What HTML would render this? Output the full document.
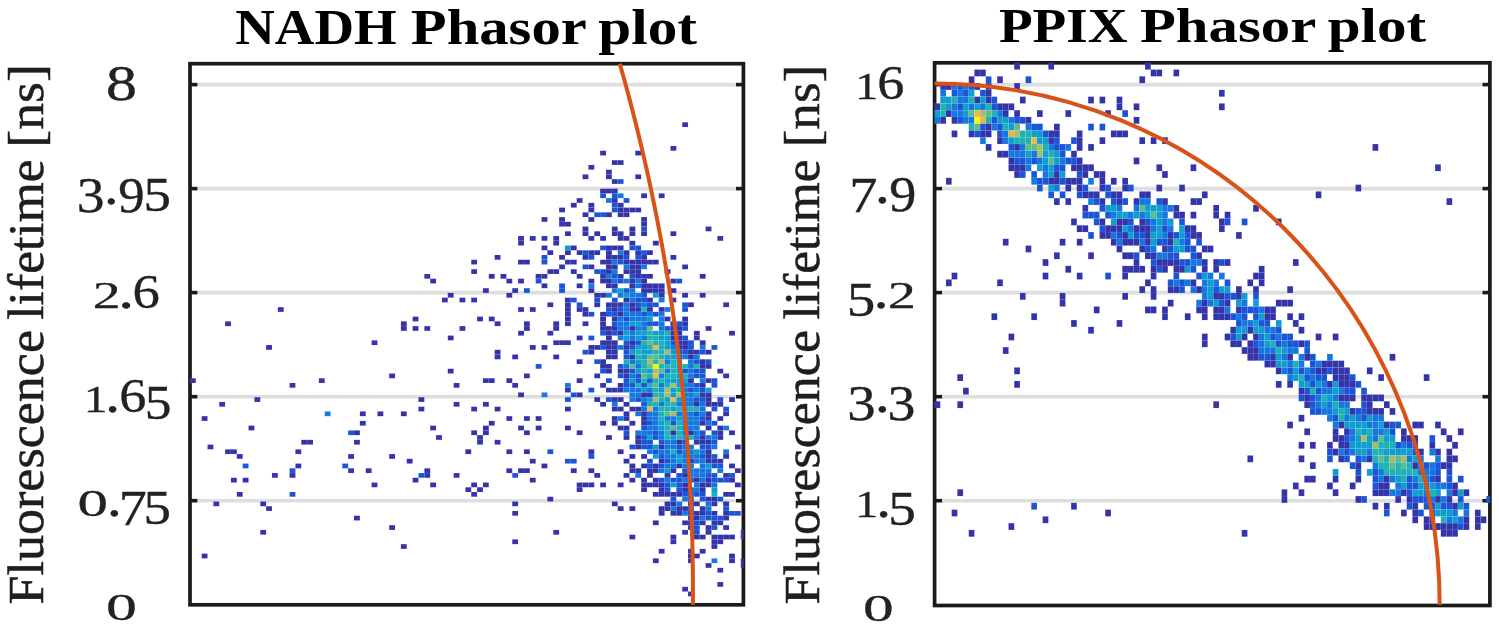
<!DOCTYPE html>
<html><head><meta charset="utf-8"><title>Phasor plots</title><style>html,body{margin:0;padding:0;background:#fff;width:1499px;height:633px;overflow:hidden}svg{display:block}</style></head>
<body><svg width="1499" height="633" viewBox="0 0 1499 633">
<rect width="1499" height="633" fill="#fff"/>
<line x1="198.0" y1="84.6" x2="735.4" y2="84.6" stroke="#dedede" stroke-width="3.6"/>
<line x1="198.0" y1="188.6" x2="735.4" y2="188.6" stroke="#dedede" stroke-width="3.6"/>
<line x1="198.0" y1="292.6" x2="735.4" y2="292.6" stroke="#dedede" stroke-width="3.6"/>
<line x1="198.0" y1="396.7" x2="735.4" y2="396.7" stroke="#dedede" stroke-width="3.6"/>
<line x1="198.0" y1="500.7" x2="735.4" y2="500.7" stroke="#dedede" stroke-width="3.6"/>
<line x1="942.6" y1="84.6" x2="1481.9" y2="84.6" stroke="#dedede" stroke-width="3.6"/>
<line x1="942.6" y1="188.6" x2="1481.9" y2="188.6" stroke="#dedede" stroke-width="3.6"/>
<line x1="942.6" y1="292.6" x2="1481.9" y2="292.6" stroke="#dedede" stroke-width="3.6"/>
<line x1="942.6" y1="396.7" x2="1481.9" y2="396.7" stroke="#dedede" stroke-width="3.6"/>
<line x1="942.6" y1="500.7" x2="1481.9" y2="500.7" stroke="#dedede" stroke-width="3.6"/>
<rect x="190.0" y="63.7" width="553.4" height="541.1" fill="none" stroke="#1a1a1a" stroke-width="3.7"/>
<line x1="190.0" y1="84.6" x2="197.5" y2="84.6" stroke="#1a1a1a" stroke-width="3.6"/>
<line x1="743.4" y1="84.6" x2="735.9" y2="84.6" stroke="#1a1a1a" stroke-width="3.6"/>
<line x1="190.0" y1="188.6" x2="197.5" y2="188.6" stroke="#1a1a1a" stroke-width="3.6"/>
<line x1="743.4" y1="188.6" x2="735.9" y2="188.6" stroke="#1a1a1a" stroke-width="3.6"/>
<line x1="190.0" y1="292.6" x2="197.5" y2="292.6" stroke="#1a1a1a" stroke-width="3.6"/>
<line x1="743.4" y1="292.6" x2="735.9" y2="292.6" stroke="#1a1a1a" stroke-width="3.6"/>
<line x1="190.0" y1="396.7" x2="197.5" y2="396.7" stroke="#1a1a1a" stroke-width="3.6"/>
<line x1="743.4" y1="396.7" x2="735.9" y2="396.7" stroke="#1a1a1a" stroke-width="3.6"/>
<line x1="190.0" y1="500.7" x2="197.5" y2="500.7" stroke="#1a1a1a" stroke-width="3.6"/>
<line x1="743.4" y1="500.7" x2="735.9" y2="500.7" stroke="#1a1a1a" stroke-width="3.6"/>
<rect x="934.6" y="62.8" width="555.3" height="542.7" fill="none" stroke="#1a1a1a" stroke-width="3.7"/>
<line x1="934.6" y1="84.6" x2="942.1" y2="84.6" stroke="#1a1a1a" stroke-width="3.6"/>
<line x1="1489.9" y1="84.6" x2="1482.4" y2="84.6" stroke="#1a1a1a" stroke-width="3.6"/>
<line x1="934.6" y1="188.6" x2="942.1" y2="188.6" stroke="#1a1a1a" stroke-width="3.6"/>
<line x1="1489.9" y1="188.6" x2="1482.4" y2="188.6" stroke="#1a1a1a" stroke-width="3.6"/>
<line x1="934.6" y1="292.6" x2="942.1" y2="292.6" stroke="#1a1a1a" stroke-width="3.6"/>
<line x1="1489.9" y1="292.6" x2="1482.4" y2="292.6" stroke="#1a1a1a" stroke-width="3.6"/>
<line x1="934.6" y1="396.7" x2="942.1" y2="396.7" stroke="#1a1a1a" stroke-width="3.6"/>
<line x1="1489.9" y1="396.7" x2="1482.4" y2="396.7" stroke="#1a1a1a" stroke-width="3.6"/>
<line x1="934.6" y1="500.7" x2="942.1" y2="500.7" stroke="#1a1a1a" stroke-width="3.6"/>
<line x1="1489.9" y1="500.7" x2="1482.4" y2="500.7" stroke="#1a1a1a" stroke-width="3.6"/>
<g stroke="#fff" stroke-opacity="0.1" stroke-width="0.6"><rect x="682.18" y="122.28" width="5.86" height="4.74" fill="#3333aa"/><rect x="670.46" y="145.98" width="5.86" height="4.74" fill="#3333aa"/><rect x="600.14" y="150.72" width="5.86" height="4.74" fill="#3333aa"/><rect x="635.30" y="150.72" width="5.86" height="4.74" fill="#3333aa"/><rect x="611.86" y="160.20" width="5.86" height="4.74" fill="#3333aa"/><rect x="617.72" y="160.20" width="5.86" height="4.74" fill="#3333aa"/><rect x="588.42" y="164.94" width="5.86" height="4.74" fill="#3333aa"/><rect x="606.00" y="169.68" width="5.86" height="4.74" fill="#3333aa"/><rect x="582.56" y="174.42" width="5.86" height="4.74" fill="#3333aa"/><rect x="606.00" y="174.42" width="5.86" height="4.74" fill="#3333aa"/><rect x="635.30" y="174.42" width="5.86" height="4.74" fill="#3333aa"/><rect x="611.86" y="179.16" width="5.86" height="4.74" fill="#3333aa"/><rect x="617.72" y="179.16" width="5.86" height="4.74" fill="#1a55d8"/><rect x="600.14" y="188.64" width="5.86" height="4.74" fill="#3333aa"/><rect x="606.00" y="188.64" width="5.86" height="4.74" fill="#3333aa"/><rect x="611.86" y="188.64" width="5.86" height="4.74" fill="#3333aa"/><rect x="600.14" y="193.38" width="5.86" height="4.74" fill="#1a55d8"/><rect x="611.86" y="193.38" width="5.86" height="4.74" fill="#1a55d8"/><rect x="617.72" y="193.38" width="5.86" height="4.74" fill="#1478e0"/><rect x="641.16" y="193.38" width="5.86" height="4.74" fill="#3333aa"/><rect x="658.74" y="193.38" width="5.86" height="4.74" fill="#3333aa"/><rect x="576.70" y="198.12" width="5.86" height="4.74" fill="#3333aa"/><rect x="606.00" y="198.12" width="5.86" height="4.74" fill="#1478e0"/><rect x="611.86" y="198.12" width="5.86" height="4.74" fill="#3333aa"/><rect x="623.58" y="198.12" width="5.86" height="4.74" fill="#1a55d8"/><rect x="570.84" y="202.86" width="5.86" height="4.74" fill="#3333aa"/><rect x="588.42" y="202.86" width="5.86" height="4.74" fill="#3333aa"/><rect x="611.86" y="202.86" width="5.86" height="4.74" fill="#1a55d8"/><rect x="617.72" y="202.86" width="5.86" height="4.74" fill="#3333aa"/><rect x="559.12" y="207.60" width="5.86" height="4.74" fill="#3333aa"/><rect x="588.42" y="207.60" width="5.86" height="4.74" fill="#3333aa"/><rect x="611.86" y="207.60" width="5.86" height="4.74" fill="#1a55d8"/><rect x="617.72" y="207.60" width="5.86" height="4.74" fill="#3333aa"/><rect x="623.58" y="207.60" width="5.86" height="4.74" fill="#3333aa"/><rect x="629.44" y="207.60" width="5.86" height="4.74" fill="#3333aa"/><rect x="635.30" y="207.60" width="5.86" height="4.74" fill="#3333aa"/><rect x="582.56" y="212.34" width="5.86" height="4.74" fill="#3333aa"/><rect x="594.28" y="212.34" width="5.86" height="4.74" fill="#1a55d8"/><rect x="600.14" y="212.34" width="5.86" height="4.74" fill="#1a55d8"/><rect x="606.00" y="212.34" width="5.86" height="4.74" fill="#3333aa"/><rect x="617.72" y="212.34" width="5.86" height="4.74" fill="#3333aa"/><rect x="623.58" y="212.34" width="5.86" height="4.74" fill="#3333aa"/><rect x="541.54" y="217.08" width="5.86" height="4.74" fill="#3333aa"/><rect x="559.12" y="217.08" width="5.86" height="4.74" fill="#3333aa"/><rect x="588.42" y="217.08" width="5.86" height="4.74" fill="#3333aa"/><rect x="641.16" y="217.08" width="5.86" height="4.74" fill="#3333aa"/><rect x="559.12" y="221.82" width="5.86" height="4.74" fill="#3333aa"/><rect x="564.98" y="221.82" width="5.86" height="4.74" fill="#3333aa"/><rect x="641.16" y="221.82" width="5.86" height="4.74" fill="#3333aa"/><rect x="582.56" y="226.56" width="5.86" height="4.74" fill="#3333aa"/><rect x="611.86" y="226.56" width="5.86" height="4.74" fill="#3333aa"/><rect x="629.44" y="226.56" width="5.86" height="4.74" fill="#3333aa"/><rect x="641.16" y="226.56" width="5.86" height="4.74" fill="#1a55d8"/><rect x="705.62" y="226.56" width="5.86" height="4.74" fill="#3333aa"/><rect x="564.98" y="231.30" width="5.86" height="4.74" fill="#3333aa"/><rect x="582.56" y="231.30" width="5.86" height="4.74" fill="#3333aa"/><rect x="594.28" y="231.30" width="5.86" height="4.74" fill="#3333aa"/><rect x="611.86" y="231.30" width="5.86" height="4.74" fill="#3333aa"/><rect x="617.72" y="231.30" width="5.86" height="4.74" fill="#3333aa"/><rect x="629.44" y="231.30" width="5.86" height="4.74" fill="#3333aa"/><rect x="641.16" y="231.30" width="5.86" height="4.74" fill="#3333aa"/><rect x="670.46" y="231.30" width="5.86" height="4.74" fill="#3333aa"/><rect x="518.10" y="236.04" width="5.86" height="4.74" fill="#3333aa"/><rect x="529.82" y="236.04" width="5.86" height="4.74" fill="#3333aa"/><rect x="541.54" y="236.04" width="5.86" height="4.74" fill="#3333aa"/><rect x="553.26" y="236.04" width="5.86" height="4.74" fill="#3333aa"/><rect x="588.42" y="236.04" width="5.86" height="4.74" fill="#3333aa"/><rect x="600.14" y="236.04" width="5.86" height="4.74" fill="#3333aa"/><rect x="617.72" y="236.04" width="5.86" height="4.74" fill="#3333aa"/><rect x="623.58" y="236.04" width="5.86" height="4.74" fill="#3333aa"/><rect x="717.34" y="236.04" width="5.86" height="4.74" fill="#3333aa"/><rect x="518.10" y="240.78" width="5.86" height="4.74" fill="#3333aa"/><rect x="553.26" y="240.78" width="5.86" height="4.74" fill="#3333aa"/><rect x="629.44" y="240.78" width="5.86" height="4.74" fill="#3333aa"/><rect x="652.88" y="240.78" width="5.86" height="4.74" fill="#3333aa"/><rect x="541.54" y="245.52" width="5.86" height="4.74" fill="#3333aa"/><rect x="564.98" y="245.52" width="5.86" height="4.74" fill="#0f9ed0"/><rect x="570.84" y="245.52" width="5.86" height="4.74" fill="#3333aa"/><rect x="600.14" y="245.52" width="5.86" height="4.74" fill="#1a55d8"/><rect x="606.00" y="245.52" width="5.86" height="4.74" fill="#3333aa"/><rect x="611.86" y="245.52" width="5.86" height="4.74" fill="#3333aa"/><rect x="617.72" y="245.52" width="5.86" height="4.74" fill="#3333aa"/><rect x="629.44" y="245.52" width="5.86" height="4.74" fill="#1a55d8"/><rect x="635.30" y="245.52" width="5.86" height="4.74" fill="#1a55d8"/><rect x="547.40" y="250.26" width="5.86" height="4.74" fill="#3333aa"/><rect x="564.98" y="250.26" width="5.86" height="4.74" fill="#3333aa"/><rect x="576.70" y="250.26" width="5.86" height="4.74" fill="#3333aa"/><rect x="582.56" y="250.26" width="5.86" height="4.74" fill="#1a55d8"/><rect x="588.42" y="250.26" width="5.86" height="4.74" fill="#3333aa"/><rect x="594.28" y="250.26" width="5.86" height="4.74" fill="#3333aa"/><rect x="606.00" y="250.26" width="5.86" height="4.74" fill="#3333aa"/><rect x="617.72" y="250.26" width="5.86" height="4.74" fill="#1478e0"/><rect x="623.58" y="250.26" width="5.86" height="4.74" fill="#3333aa"/><rect x="635.30" y="250.26" width="5.86" height="4.74" fill="#3333aa"/><rect x="641.16" y="250.26" width="5.86" height="4.74" fill="#1a55d8"/><rect x="647.02" y="250.26" width="5.86" height="4.74" fill="#3333aa"/><rect x="494.66" y="255.00" width="5.86" height="4.74" fill="#3333aa"/><rect x="541.54" y="255.00" width="5.86" height="4.74" fill="#1a55d8"/><rect x="559.12" y="255.00" width="5.86" height="4.74" fill="#3333aa"/><rect x="582.56" y="255.00" width="5.86" height="4.74" fill="#3333aa"/><rect x="588.42" y="255.00" width="5.86" height="4.74" fill="#1a55d8"/><rect x="606.00" y="255.00" width="5.86" height="4.74" fill="#3333aa"/><rect x="611.86" y="255.00" width="5.86" height="4.74" fill="#3333aa"/><rect x="617.72" y="255.00" width="5.86" height="4.74" fill="#3333aa"/><rect x="623.58" y="255.00" width="5.86" height="4.74" fill="#1a55d8"/><rect x="635.30" y="255.00" width="5.86" height="4.74" fill="#1a55d8"/><rect x="641.16" y="255.00" width="5.86" height="4.74" fill="#3333aa"/><rect x="670.46" y="255.00" width="5.86" height="4.74" fill="#3333aa"/><rect x="471.22" y="259.74" width="5.86" height="4.74" fill="#3333aa"/><rect x="518.10" y="259.74" width="5.86" height="4.74" fill="#3333aa"/><rect x="523.96" y="259.74" width="5.86" height="4.74" fill="#3333aa"/><rect x="541.54" y="259.74" width="5.86" height="4.74" fill="#1a55d8"/><rect x="564.98" y="259.74" width="5.86" height="4.74" fill="#3333aa"/><rect x="570.84" y="259.74" width="5.86" height="4.74" fill="#3333aa"/><rect x="600.14" y="259.74" width="5.86" height="4.74" fill="#3333aa"/><rect x="606.00" y="259.74" width="5.86" height="4.74" fill="#3333aa"/><rect x="611.86" y="259.74" width="5.86" height="4.74" fill="#1478e0"/><rect x="617.72" y="259.74" width="5.86" height="4.74" fill="#1a55d8"/><rect x="623.58" y="259.74" width="5.86" height="4.74" fill="#3333aa"/><rect x="629.44" y="259.74" width="5.86" height="4.74" fill="#3333aa"/><rect x="635.30" y="259.74" width="5.86" height="4.74" fill="#3333aa"/><rect x="641.16" y="259.74" width="5.86" height="4.74" fill="#3333aa"/><rect x="647.02" y="259.74" width="5.86" height="4.74" fill="#3333aa"/><rect x="652.88" y="259.74" width="5.86" height="4.74" fill="#3333aa"/><rect x="559.12" y="264.48" width="5.86" height="4.74" fill="#3333aa"/><rect x="582.56" y="264.48" width="5.86" height="4.74" fill="#1a55d8"/><rect x="588.42" y="264.48" width="5.86" height="4.74" fill="#3333aa"/><rect x="606.00" y="264.48" width="5.86" height="4.74" fill="#3333aa"/><rect x="611.86" y="264.48" width="5.86" height="4.74" fill="#3333aa"/><rect x="623.58" y="264.48" width="5.86" height="4.74" fill="#1478e0"/><rect x="629.44" y="264.48" width="5.86" height="4.74" fill="#3333aa"/><rect x="635.30" y="264.48" width="5.86" height="4.74" fill="#3333aa"/><rect x="641.16" y="264.48" width="5.86" height="4.74" fill="#1478e0"/><rect x="682.18" y="264.48" width="5.86" height="4.74" fill="#3333aa"/><rect x="471.22" y="269.22" width="5.86" height="4.74" fill="#3333aa"/><rect x="547.40" y="269.22" width="5.86" height="4.74" fill="#3333aa"/><rect x="553.26" y="269.22" width="5.86" height="4.74" fill="#3333aa"/><rect x="570.84" y="269.22" width="5.86" height="4.74" fill="#3333aa"/><rect x="594.28" y="269.22" width="5.86" height="4.74" fill="#1a55d8"/><rect x="600.14" y="269.22" width="5.86" height="4.74" fill="#1a55d8"/><rect x="606.00" y="269.22" width="5.86" height="4.74" fill="#3333aa"/><rect x="611.86" y="269.22" width="5.86" height="4.74" fill="#1478e0"/><rect x="623.58" y="269.22" width="5.86" height="4.74" fill="#3333aa"/><rect x="629.44" y="269.22" width="5.86" height="4.74" fill="#3333aa"/><rect x="635.30" y="269.22" width="5.86" height="4.74" fill="#3333aa"/><rect x="664.60" y="269.22" width="5.86" height="4.74" fill="#3333aa"/><rect x="424.34" y="273.96" width="5.86" height="4.74" fill="#3333aa"/><rect x="488.80" y="273.96" width="5.86" height="4.74" fill="#3333aa"/><rect x="500.52" y="273.96" width="5.86" height="4.74" fill="#3333aa"/><rect x="535.68" y="273.96" width="5.86" height="4.74" fill="#3333aa"/><rect x="541.54" y="273.96" width="5.86" height="4.74" fill="#3333aa"/><rect x="576.70" y="273.96" width="5.86" height="4.74" fill="#3333aa"/><rect x="600.14" y="273.96" width="5.86" height="4.74" fill="#3333aa"/><rect x="606.00" y="273.96" width="5.86" height="4.74" fill="#1478e0"/><rect x="611.86" y="273.96" width="5.86" height="4.74" fill="#1a55d8"/><rect x="617.72" y="273.96" width="5.86" height="4.74" fill="#3333aa"/><rect x="629.44" y="273.96" width="5.86" height="4.74" fill="#1a55d8"/><rect x="635.30" y="273.96" width="5.86" height="4.74" fill="#3333aa"/><rect x="641.16" y="273.96" width="5.86" height="4.74" fill="#3333aa"/><rect x="647.02" y="273.96" width="5.86" height="4.74" fill="#3333aa"/><rect x="699.76" y="273.96" width="5.86" height="4.74" fill="#3333aa"/><rect x="430.20" y="278.70" width="5.86" height="4.74" fill="#3333aa"/><rect x="506.38" y="278.70" width="5.86" height="4.74" fill="#3333aa"/><rect x="518.10" y="278.70" width="5.86" height="4.74" fill="#3333aa"/><rect x="535.68" y="278.70" width="5.86" height="4.74" fill="#1a55d8"/><rect x="588.42" y="278.70" width="5.86" height="4.74" fill="#3333aa"/><rect x="600.14" y="278.70" width="5.86" height="4.74" fill="#3333aa"/><rect x="606.00" y="278.70" width="5.86" height="4.74" fill="#3333aa"/><rect x="611.86" y="278.70" width="5.86" height="4.74" fill="#1478e0"/><rect x="617.72" y="278.70" width="5.86" height="4.74" fill="#1a55d8"/><rect x="623.58" y="278.70" width="5.86" height="4.74" fill="#1478e0"/><rect x="629.44" y="278.70" width="5.86" height="4.74" fill="#3333aa"/><rect x="635.30" y="278.70" width="5.86" height="4.74" fill="#1478e0"/><rect x="641.16" y="278.70" width="5.86" height="4.74" fill="#3333aa"/><rect x="670.46" y="278.70" width="5.86" height="4.74" fill="#3333aa"/><rect x="676.32" y="278.70" width="5.86" height="4.74" fill="#1a55d8"/><rect x="541.54" y="283.44" width="5.86" height="4.74" fill="#3333aa"/><rect x="559.12" y="283.44" width="5.86" height="4.74" fill="#1a55d8"/><rect x="576.70" y="283.44" width="5.86" height="4.74" fill="#3333aa"/><rect x="588.42" y="283.44" width="5.86" height="4.74" fill="#1478e0"/><rect x="606.00" y="283.44" width="5.86" height="4.74" fill="#3333aa"/><rect x="611.86" y="283.44" width="5.86" height="4.74" fill="#3333aa"/><rect x="629.44" y="283.44" width="5.86" height="4.74" fill="#3333aa"/><rect x="635.30" y="283.44" width="5.86" height="4.74" fill="#1478e0"/><rect x="641.16" y="283.44" width="5.86" height="4.74" fill="#3333aa"/><rect x="647.02" y="283.44" width="5.86" height="4.74" fill="#3333aa"/><rect x="652.88" y="283.44" width="5.86" height="4.74" fill="#3333aa"/><rect x="658.74" y="283.44" width="5.86" height="4.74" fill="#3333aa"/><rect x="482.94" y="288.18" width="5.86" height="4.74" fill="#3333aa"/><rect x="512.24" y="288.18" width="5.86" height="4.74" fill="#3333aa"/><rect x="523.96" y="288.18" width="5.86" height="4.74" fill="#1a55d8"/><rect x="559.12" y="288.18" width="5.86" height="4.74" fill="#1a55d8"/><rect x="588.42" y="288.18" width="5.86" height="4.74" fill="#3333aa"/><rect x="611.86" y="288.18" width="5.86" height="4.74" fill="#1478e0"/><rect x="617.72" y="288.18" width="5.86" height="4.74" fill="#0f9ed0"/><rect x="623.58" y="288.18" width="5.86" height="4.74" fill="#1a55d8"/><rect x="629.44" y="288.18" width="5.86" height="4.74" fill="#1478e0"/><rect x="641.16" y="288.18" width="5.86" height="4.74" fill="#3333aa"/><rect x="647.02" y="288.18" width="5.86" height="4.74" fill="#3333aa"/><rect x="652.88" y="288.18" width="5.86" height="4.74" fill="#3333aa"/><rect x="658.74" y="288.18" width="5.86" height="4.74" fill="#3333aa"/><rect x="670.46" y="288.18" width="5.86" height="4.74" fill="#3333aa"/><rect x="447.78" y="292.92" width="5.86" height="4.74" fill="#3333aa"/><rect x="506.38" y="292.92" width="5.86" height="4.74" fill="#3333aa"/><rect x="594.28" y="292.92" width="5.86" height="4.74" fill="#3333aa"/><rect x="600.14" y="292.92" width="5.86" height="4.74" fill="#3333aa"/><rect x="606.00" y="292.92" width="5.86" height="4.74" fill="#1478e0"/><rect x="617.72" y="292.92" width="5.86" height="4.74" fill="#1478e0"/><rect x="623.58" y="292.92" width="5.86" height="4.74" fill="#0f9ed0"/><rect x="629.44" y="292.92" width="5.86" height="4.74" fill="#1478e0"/><rect x="635.30" y="292.92" width="5.86" height="4.74" fill="#1478e0"/><rect x="641.16" y="292.92" width="5.86" height="4.74" fill="#1a55d8"/><rect x="652.88" y="292.92" width="5.86" height="4.74" fill="#0f9ed0"/><rect x="658.74" y="292.92" width="5.86" height="4.74" fill="#3333aa"/><rect x="682.18" y="292.92" width="5.86" height="4.74" fill="#3333aa"/><rect x="699.76" y="292.92" width="5.86" height="4.74" fill="#3333aa"/><rect x="441.92" y="297.66" width="5.86" height="4.74" fill="#3333aa"/><rect x="459.50" y="297.66" width="5.86" height="4.74" fill="#3333aa"/><rect x="471.22" y="297.66" width="5.86" height="4.74" fill="#3333aa"/><rect x="564.98" y="297.66" width="5.86" height="4.74" fill="#3333aa"/><rect x="570.84" y="297.66" width="5.86" height="4.74" fill="#1a55d8"/><rect x="594.28" y="297.66" width="5.86" height="4.74" fill="#1a55d8"/><rect x="611.86" y="297.66" width="5.86" height="4.74" fill="#1a55d8"/><rect x="623.58" y="297.66" width="5.86" height="4.74" fill="#3333aa"/><rect x="629.44" y="297.66" width="5.86" height="4.74" fill="#1478e0"/><rect x="635.30" y="297.66" width="5.86" height="4.74" fill="#1a55d8"/><rect x="641.16" y="297.66" width="5.86" height="4.74" fill="#1a55d8"/><rect x="647.02" y="297.66" width="5.86" height="4.74" fill="#3333aa"/><rect x="658.74" y="297.66" width="5.86" height="4.74" fill="#1478e0"/><rect x="670.46" y="297.66" width="5.86" height="4.74" fill="#3333aa"/><rect x="547.40" y="302.40" width="5.86" height="4.74" fill="#3333aa"/><rect x="564.98" y="302.40" width="5.86" height="4.74" fill="#3333aa"/><rect x="576.70" y="302.40" width="5.86" height="4.74" fill="#1a55d8"/><rect x="594.28" y="302.40" width="5.86" height="4.74" fill="#3333aa"/><rect x="606.00" y="302.40" width="5.86" height="4.74" fill="#3333aa"/><rect x="611.86" y="302.40" width="5.86" height="4.74" fill="#3333aa"/><rect x="617.72" y="302.40" width="5.86" height="4.74" fill="#3333aa"/><rect x="623.58" y="302.40" width="5.86" height="4.74" fill="#1478e0"/><rect x="629.44" y="302.40" width="5.86" height="4.74" fill="#3333aa"/><rect x="635.30" y="302.40" width="5.86" height="4.74" fill="#1a55d8"/><rect x="641.16" y="302.40" width="5.86" height="4.74" fill="#1478e0"/><rect x="647.02" y="302.40" width="5.86" height="4.74" fill="#1a55d8"/><rect x="652.88" y="302.40" width="5.86" height="4.74" fill="#1a55d8"/><rect x="682.18" y="302.40" width="5.86" height="4.74" fill="#1a55d8"/><rect x="688.04" y="302.40" width="5.86" height="4.74" fill="#3333aa"/><rect x="723.20" y="302.40" width="5.86" height="4.74" fill="#3333aa"/><rect x="277.84" y="307.14" width="5.86" height="4.74" fill="#3333aa"/><rect x="518.10" y="307.14" width="5.86" height="4.74" fill="#3333aa"/><rect x="529.82" y="307.14" width="5.86" height="4.74" fill="#3333aa"/><rect x="564.98" y="307.14" width="5.86" height="4.74" fill="#3333aa"/><rect x="576.70" y="307.14" width="5.86" height="4.74" fill="#3333aa"/><rect x="582.56" y="307.14" width="5.86" height="4.74" fill="#3333aa"/><rect x="606.00" y="307.14" width="5.86" height="4.74" fill="#1a55d8"/><rect x="611.86" y="307.14" width="5.86" height="4.74" fill="#3333aa"/><rect x="617.72" y="307.14" width="5.86" height="4.74" fill="#1a55d8"/><rect x="623.58" y="307.14" width="5.86" height="4.74" fill="#1478e0"/><rect x="629.44" y="307.14" width="5.86" height="4.74" fill="#3333aa"/><rect x="635.30" y="307.14" width="5.86" height="4.74" fill="#3333aa"/><rect x="641.16" y="307.14" width="5.86" height="4.74" fill="#1fb3b5"/><rect x="647.02" y="307.14" width="5.86" height="4.74" fill="#3333aa"/><rect x="658.74" y="307.14" width="5.86" height="4.74" fill="#3333aa"/><rect x="664.60" y="307.14" width="5.86" height="4.74" fill="#1478e0"/><rect x="682.18" y="307.14" width="5.86" height="4.74" fill="#1a55d8"/><rect x="564.98" y="311.88" width="5.86" height="4.74" fill="#3333aa"/><rect x="582.56" y="311.88" width="5.86" height="4.74" fill="#3333aa"/><rect x="588.42" y="311.88" width="5.86" height="4.74" fill="#1a55d8"/><rect x="600.14" y="311.88" width="5.86" height="4.74" fill="#3333aa"/><rect x="606.00" y="311.88" width="5.86" height="4.74" fill="#1a55d8"/><rect x="611.86" y="311.88" width="5.86" height="4.74" fill="#1a55d8"/><rect x="617.72" y="311.88" width="5.86" height="4.74" fill="#3333aa"/><rect x="623.58" y="311.88" width="5.86" height="4.74" fill="#1478e0"/><rect x="629.44" y="311.88" width="5.86" height="4.74" fill="#1478e0"/><rect x="635.30" y="311.88" width="5.86" height="4.74" fill="#1478e0"/><rect x="641.16" y="311.88" width="5.86" height="4.74" fill="#1a55d8"/><rect x="647.02" y="311.88" width="5.86" height="4.74" fill="#1478e0"/><rect x="652.88" y="311.88" width="5.86" height="4.74" fill="#1a55d8"/><rect x="658.74" y="311.88" width="5.86" height="4.74" fill="#1478e0"/><rect x="412.62" y="316.62" width="5.86" height="4.74" fill="#3333aa"/><rect x="477.08" y="316.62" width="5.86" height="4.74" fill="#3333aa"/><rect x="488.80" y="316.62" width="5.86" height="4.74" fill="#3333aa"/><rect x="564.98" y="316.62" width="5.86" height="4.74" fill="#3333aa"/><rect x="600.14" y="316.62" width="5.86" height="4.74" fill="#3333aa"/><rect x="611.86" y="316.62" width="5.86" height="4.74" fill="#3333aa"/><rect x="617.72" y="316.62" width="5.86" height="4.74" fill="#1478e0"/><rect x="623.58" y="316.62" width="5.86" height="4.74" fill="#1a55d8"/><rect x="629.44" y="316.62" width="5.86" height="4.74" fill="#1478e0"/><rect x="635.30" y="316.62" width="5.86" height="4.74" fill="#1478e0"/><rect x="641.16" y="316.62" width="5.86" height="4.74" fill="#1478e0"/><rect x="647.02" y="316.62" width="5.86" height="4.74" fill="#0f9ed0"/><rect x="658.74" y="316.62" width="5.86" height="4.74" fill="#1478e0"/><rect x="664.60" y="316.62" width="5.86" height="4.74" fill="#3333aa"/><rect x="682.18" y="316.62" width="5.86" height="4.74" fill="#3333aa"/><rect x="225.10" y="321.36" width="5.86" height="4.74" fill="#3333aa"/><rect x="400.90" y="321.36" width="5.86" height="4.74" fill="#3333aa"/><rect x="494.66" y="321.36" width="5.86" height="4.74" fill="#3333aa"/><rect x="523.96" y="321.36" width="5.86" height="4.74" fill="#3333aa"/><rect x="553.26" y="321.36" width="5.86" height="4.74" fill="#3333aa"/><rect x="564.98" y="321.36" width="5.86" height="4.74" fill="#3333aa"/><rect x="582.56" y="321.36" width="5.86" height="4.74" fill="#3333aa"/><rect x="600.14" y="321.36" width="5.86" height="4.74" fill="#3333aa"/><rect x="611.86" y="321.36" width="5.86" height="4.74" fill="#1a55d8"/><rect x="617.72" y="321.36" width="5.86" height="4.74" fill="#1478e0"/><rect x="623.58" y="321.36" width="5.86" height="4.74" fill="#1478e0"/><rect x="629.44" y="321.36" width="5.86" height="4.74" fill="#0f9ed0"/><rect x="635.30" y="321.36" width="5.86" height="4.74" fill="#0f9ed0"/><rect x="641.16" y="321.36" width="5.86" height="4.74" fill="#1478e0"/><rect x="647.02" y="321.36" width="5.86" height="4.74" fill="#1a55d8"/><rect x="652.88" y="321.36" width="5.86" height="4.74" fill="#1a55d8"/><rect x="658.74" y="321.36" width="5.86" height="4.74" fill="#1478e0"/><rect x="670.46" y="321.36" width="5.86" height="4.74" fill="#3333aa"/><rect x="676.32" y="321.36" width="5.86" height="4.74" fill="#1a55d8"/><rect x="682.18" y="321.36" width="5.86" height="4.74" fill="#3333aa"/><rect x="400.90" y="326.10" width="5.86" height="4.74" fill="#3333aa"/><rect x="412.62" y="326.10" width="5.86" height="4.74" fill="#3333aa"/><rect x="424.34" y="326.10" width="5.86" height="4.74" fill="#3333aa"/><rect x="459.50" y="326.10" width="5.86" height="4.74" fill="#3333aa"/><rect x="523.96" y="326.10" width="5.86" height="4.74" fill="#3333aa"/><rect x="553.26" y="326.10" width="5.86" height="4.74" fill="#3333aa"/><rect x="600.14" y="326.10" width="5.86" height="4.74" fill="#3333aa"/><rect x="606.00" y="326.10" width="5.86" height="4.74" fill="#3333aa"/><rect x="611.86" y="326.10" width="5.86" height="4.74" fill="#3333aa"/><rect x="617.72" y="326.10" width="5.86" height="4.74" fill="#1478e0"/><rect x="623.58" y="326.10" width="5.86" height="4.74" fill="#1478e0"/><rect x="629.44" y="326.10" width="5.86" height="4.74" fill="#3333aa"/><rect x="635.30" y="326.10" width="5.86" height="4.74" fill="#1478e0"/><rect x="641.16" y="326.10" width="5.86" height="4.74" fill="#1478e0"/><rect x="647.02" y="326.10" width="5.86" height="4.74" fill="#5dbd8c"/><rect x="658.74" y="326.10" width="5.86" height="4.74" fill="#1478e0"/><rect x="664.60" y="326.10" width="5.86" height="4.74" fill="#1a55d8"/><rect x="670.46" y="326.10" width="5.86" height="4.74" fill="#3333aa"/><rect x="676.32" y="326.10" width="5.86" height="4.74" fill="#3333aa"/><rect x="682.18" y="326.10" width="5.86" height="4.74" fill="#1a55d8"/><rect x="705.62" y="326.10" width="5.86" height="4.74" fill="#3333aa"/><rect x="518.10" y="330.84" width="5.86" height="4.74" fill="#3333aa"/><rect x="547.40" y="330.84" width="5.86" height="4.74" fill="#3333aa"/><rect x="600.14" y="330.84" width="5.86" height="4.74" fill="#1a55d8"/><rect x="606.00" y="330.84" width="5.86" height="4.74" fill="#3333aa"/><rect x="611.86" y="330.84" width="5.86" height="4.74" fill="#1a55d8"/><rect x="617.72" y="330.84" width="5.86" height="4.74" fill="#3333aa"/><rect x="623.58" y="330.84" width="5.86" height="4.74" fill="#0f9ed0"/><rect x="629.44" y="330.84" width="5.86" height="4.74" fill="#1478e0"/><rect x="635.30" y="330.84" width="5.86" height="4.74" fill="#0f9ed0"/><rect x="641.16" y="330.84" width="5.86" height="4.74" fill="#0f9ed0"/><rect x="647.02" y="330.84" width="5.86" height="4.74" fill="#1fb3b5"/><rect x="652.88" y="330.84" width="5.86" height="4.74" fill="#0f9ed0"/><rect x="658.74" y="330.84" width="5.86" height="4.74" fill="#0f9ed0"/><rect x="664.60" y="330.84" width="5.86" height="4.74" fill="#1fb3b5"/><rect x="670.46" y="330.84" width="5.86" height="4.74" fill="#3333aa"/><rect x="676.32" y="330.84" width="5.86" height="4.74" fill="#3333aa"/><rect x="693.90" y="330.84" width="5.86" height="4.74" fill="#3333aa"/><rect x="729.06" y="330.84" width="5.86" height="4.74" fill="#3333aa"/><rect x="447.78" y="335.58" width="5.86" height="4.74" fill="#3333aa"/><rect x="576.70" y="335.58" width="5.86" height="4.74" fill="#3333aa"/><rect x="588.42" y="335.58" width="5.86" height="4.74" fill="#1a55d8"/><rect x="606.00" y="335.58" width="5.86" height="4.74" fill="#3333aa"/><rect x="617.72" y="335.58" width="5.86" height="4.74" fill="#1478e0"/><rect x="623.58" y="335.58" width="5.86" height="4.74" fill="#0f9ed0"/><rect x="629.44" y="335.58" width="5.86" height="4.74" fill="#1478e0"/><rect x="635.30" y="335.58" width="5.86" height="4.74" fill="#0f9ed0"/><rect x="641.16" y="335.58" width="5.86" height="4.74" fill="#1478e0"/><rect x="647.02" y="335.58" width="5.86" height="4.74" fill="#1fb3b5"/><rect x="652.88" y="335.58" width="5.86" height="4.74" fill="#1fb3b5"/><rect x="658.74" y="335.58" width="5.86" height="4.74" fill="#0f9ed0"/><rect x="664.60" y="335.58" width="5.86" height="4.74" fill="#0f9ed0"/><rect x="670.46" y="335.58" width="5.86" height="4.74" fill="#3333aa"/><rect x="676.32" y="335.58" width="5.86" height="4.74" fill="#3333aa"/><rect x="682.18" y="335.58" width="5.86" height="4.74" fill="#1a55d8"/><rect x="693.90" y="335.58" width="5.86" height="4.74" fill="#3333aa"/><rect x="371.60" y="340.32" width="5.86" height="4.74" fill="#3333aa"/><rect x="553.26" y="340.32" width="5.86" height="4.74" fill="#3333aa"/><rect x="559.12" y="340.32" width="5.86" height="4.74" fill="#3333aa"/><rect x="564.98" y="340.32" width="5.86" height="4.74" fill="#3333aa"/><rect x="600.14" y="340.32" width="5.86" height="4.74" fill="#3333aa"/><rect x="606.00" y="340.32" width="5.86" height="4.74" fill="#3333aa"/><rect x="611.86" y="340.32" width="5.86" height="4.74" fill="#3333aa"/><rect x="623.58" y="340.32" width="5.86" height="4.74" fill="#1a55d8"/><rect x="629.44" y="340.32" width="5.86" height="4.74" fill="#3333aa"/><rect x="635.30" y="340.32" width="5.86" height="4.74" fill="#1a55d8"/><rect x="641.16" y="340.32" width="5.86" height="4.74" fill="#1fb3b5"/><rect x="647.02" y="340.32" width="5.86" height="4.74" fill="#5dbd8c"/><rect x="652.88" y="340.32" width="5.86" height="4.74" fill="#1fb3b5"/><rect x="658.74" y="340.32" width="5.86" height="4.74" fill="#1fb3b5"/><rect x="664.60" y="340.32" width="5.86" height="4.74" fill="#0f9ed0"/><rect x="670.46" y="340.32" width="5.86" height="4.74" fill="#1a55d8"/><rect x="676.32" y="340.32" width="5.86" height="4.74" fill="#3333aa"/><rect x="682.18" y="340.32" width="5.86" height="4.74" fill="#3333aa"/><rect x="688.04" y="340.32" width="5.86" height="4.74" fill="#1a55d8"/><rect x="699.76" y="340.32" width="5.86" height="4.74" fill="#3333aa"/><rect x="266.12" y="345.06" width="5.86" height="4.74" fill="#3333aa"/><rect x="529.82" y="345.06" width="5.86" height="4.74" fill="#3333aa"/><rect x="541.54" y="345.06" width="5.86" height="4.74" fill="#3333aa"/><rect x="588.42" y="345.06" width="5.86" height="4.74" fill="#3333aa"/><rect x="594.28" y="345.06" width="5.86" height="4.74" fill="#3333aa"/><rect x="600.14" y="345.06" width="5.86" height="4.74" fill="#1a55d8"/><rect x="606.00" y="345.06" width="5.86" height="4.74" fill="#3333aa"/><rect x="611.86" y="345.06" width="5.86" height="4.74" fill="#3333aa"/><rect x="617.72" y="345.06" width="5.86" height="4.74" fill="#1478e0"/><rect x="623.58" y="345.06" width="5.86" height="4.74" fill="#3333aa"/><rect x="629.44" y="345.06" width="5.86" height="4.74" fill="#1a55d8"/><rect x="635.30" y="345.06" width="5.86" height="4.74" fill="#0f9ed0"/><rect x="641.16" y="345.06" width="5.86" height="4.74" fill="#0f9ed0"/><rect x="647.02" y="345.06" width="5.86" height="4.74" fill="#1fb3b5"/><rect x="652.88" y="345.06" width="5.86" height="4.74" fill="#e8b84c"/><rect x="658.74" y="345.06" width="5.86" height="4.74" fill="#1fb3b5"/><rect x="664.60" y="345.06" width="5.86" height="4.74" fill="#0f9ed0"/><rect x="670.46" y="345.06" width="5.86" height="4.74" fill="#1478e0"/><rect x="676.32" y="345.06" width="5.86" height="4.74" fill="#3333aa"/><rect x="682.18" y="345.06" width="5.86" height="4.74" fill="#3333aa"/><rect x="688.04" y="345.06" width="5.86" height="4.74" fill="#1a55d8"/><rect x="699.76" y="345.06" width="5.86" height="4.74" fill="#1478e0"/><rect x="711.48" y="345.06" width="5.86" height="4.74" fill="#1a55d8"/><rect x="494.66" y="349.80" width="5.86" height="4.74" fill="#3333aa"/><rect x="582.56" y="349.80" width="5.86" height="4.74" fill="#1a55d8"/><rect x="588.42" y="349.80" width="5.86" height="4.74" fill="#3333aa"/><rect x="606.00" y="349.80" width="5.86" height="4.74" fill="#3333aa"/><rect x="611.86" y="349.80" width="5.86" height="4.74" fill="#3333aa"/><rect x="623.58" y="349.80" width="5.86" height="4.74" fill="#1a55d8"/><rect x="629.44" y="349.80" width="5.86" height="4.74" fill="#0f9ed0"/><rect x="635.30" y="349.80" width="5.86" height="4.74" fill="#1fb3b5"/><rect x="641.16" y="349.80" width="5.86" height="4.74" fill="#0f9ed0"/><rect x="647.02" y="349.80" width="5.86" height="4.74" fill="#0f9ed0"/><rect x="652.88" y="349.80" width="5.86" height="4.74" fill="#1fb3b5"/><rect x="658.74" y="349.80" width="5.86" height="4.74" fill="#1fb3b5"/><rect x="664.60" y="349.80" width="5.86" height="4.74" fill="#a8bd68"/><rect x="670.46" y="349.80" width="5.86" height="4.74" fill="#0f9ed0"/><rect x="676.32" y="349.80" width="5.86" height="4.74" fill="#1a55d8"/><rect x="682.18" y="349.80" width="5.86" height="4.74" fill="#1a55d8"/><rect x="688.04" y="349.80" width="5.86" height="4.74" fill="#3333aa"/><rect x="693.90" y="349.80" width="5.86" height="4.74" fill="#3333aa"/><rect x="699.76" y="349.80" width="5.86" height="4.74" fill="#1a55d8"/><rect x="705.62" y="349.80" width="5.86" height="4.74" fill="#3333aa"/><rect x="494.66" y="354.54" width="5.86" height="4.74" fill="#3333aa"/><rect x="512.24" y="354.54" width="5.86" height="4.74" fill="#3333aa"/><rect x="553.26" y="354.54" width="5.86" height="4.74" fill="#3333aa"/><rect x="606.00" y="354.54" width="5.86" height="4.74" fill="#3333aa"/><rect x="611.86" y="354.54" width="5.86" height="4.74" fill="#3333aa"/><rect x="623.58" y="354.54" width="5.86" height="4.74" fill="#1a55d8"/><rect x="629.44" y="354.54" width="5.86" height="4.74" fill="#3333aa"/><rect x="635.30" y="354.54" width="5.86" height="4.74" fill="#1fb3b5"/><rect x="641.16" y="354.54" width="5.86" height="4.74" fill="#0f9ed0"/><rect x="647.02" y="354.54" width="5.86" height="4.74" fill="#5dbd8c"/><rect x="652.88" y="354.54" width="5.86" height="4.74" fill="#5dbd8c"/><rect x="658.74" y="354.54" width="5.86" height="4.74" fill="#1fb3b5"/><rect x="664.60" y="354.54" width="5.86" height="4.74" fill="#0f9ed0"/><rect x="670.46" y="354.54" width="5.86" height="4.74" fill="#0f9ed0"/><rect x="676.32" y="354.54" width="5.86" height="4.74" fill="#1a55d8"/><rect x="682.18" y="354.54" width="5.86" height="4.74" fill="#1478e0"/><rect x="688.04" y="354.54" width="5.86" height="4.74" fill="#3333aa"/><rect x="693.90" y="354.54" width="5.86" height="4.74" fill="#1478e0"/><rect x="576.70" y="359.28" width="5.86" height="4.74" fill="#3333aa"/><rect x="594.28" y="359.28" width="5.86" height="4.74" fill="#1a55d8"/><rect x="600.14" y="359.28" width="5.86" height="4.74" fill="#3333aa"/><rect x="623.58" y="359.28" width="5.86" height="4.74" fill="#1fb3b5"/><rect x="629.44" y="359.28" width="5.86" height="4.74" fill="#1478e0"/><rect x="635.30" y="359.28" width="5.86" height="4.74" fill="#0f9ed0"/><rect x="641.16" y="359.28" width="5.86" height="4.74" fill="#1fb3b5"/><rect x="647.02" y="359.28" width="5.86" height="4.74" fill="#a8bd68"/><rect x="652.88" y="359.28" width="5.86" height="4.74" fill="#1fb3b5"/><rect x="658.74" y="359.28" width="5.86" height="4.74" fill="#a8bd68"/><rect x="664.60" y="359.28" width="5.86" height="4.74" fill="#1478e0"/><rect x="670.46" y="359.28" width="5.86" height="4.74" fill="#1fb3b5"/><rect x="676.32" y="359.28" width="5.86" height="4.74" fill="#0f9ed0"/><rect x="688.04" y="359.28" width="5.86" height="4.74" fill="#1478e0"/><rect x="693.90" y="359.28" width="5.86" height="4.74" fill="#1a55d8"/><rect x="699.76" y="359.28" width="5.86" height="4.74" fill="#3333aa"/><rect x="705.62" y="359.28" width="5.86" height="4.74" fill="#1a55d8"/><rect x="535.68" y="364.02" width="5.86" height="4.74" fill="#1a55d8"/><rect x="600.14" y="364.02" width="5.86" height="4.74" fill="#3333aa"/><rect x="606.00" y="364.02" width="5.86" height="4.74" fill="#3333aa"/><rect x="617.72" y="364.02" width="5.86" height="4.74" fill="#1a55d8"/><rect x="623.58" y="364.02" width="5.86" height="4.74" fill="#1478e0"/><rect x="629.44" y="364.02" width="5.86" height="4.74" fill="#5dbd8c"/><rect x="635.30" y="364.02" width="5.86" height="4.74" fill="#1478e0"/><rect x="641.16" y="364.02" width="5.86" height="4.74" fill="#1fb3b5"/><rect x="647.02" y="364.02" width="5.86" height="4.74" fill="#5dbd8c"/><rect x="652.88" y="364.02" width="5.86" height="4.74" fill="#f9f90e"/><rect x="658.74" y="364.02" width="5.86" height="4.74" fill="#1fb3b5"/><rect x="664.60" y="364.02" width="5.86" height="4.74" fill="#1fb3b5"/><rect x="670.46" y="364.02" width="5.86" height="4.74" fill="#1fb3b5"/><rect x="676.32" y="364.02" width="5.86" height="4.74" fill="#0f9ed0"/><rect x="682.18" y="364.02" width="5.86" height="4.74" fill="#1fb3b5"/><rect x="688.04" y="364.02" width="5.86" height="4.74" fill="#1478e0"/><rect x="693.90" y="364.02" width="5.86" height="4.74" fill="#1fb3b5"/><rect x="699.76" y="364.02" width="5.86" height="4.74" fill="#3333aa"/><rect x="705.62" y="364.02" width="5.86" height="4.74" fill="#3333aa"/><rect x="447.78" y="368.76" width="5.86" height="4.74" fill="#3333aa"/><rect x="600.14" y="368.76" width="5.86" height="4.74" fill="#1a55d8"/><rect x="606.00" y="368.76" width="5.86" height="4.74" fill="#3333aa"/><rect x="617.72" y="368.76" width="5.86" height="4.74" fill="#3333aa"/><rect x="623.58" y="368.76" width="5.86" height="4.74" fill="#3333aa"/><rect x="629.44" y="368.76" width="5.86" height="4.74" fill="#1a55d8"/><rect x="635.30" y="368.76" width="5.86" height="4.74" fill="#0f9ed0"/><rect x="641.16" y="368.76" width="5.86" height="4.74" fill="#1fb3b5"/><rect x="647.02" y="368.76" width="5.86" height="4.74" fill="#0f9ed0"/><rect x="652.88" y="368.76" width="5.86" height="4.74" fill="#a8bd68"/><rect x="658.74" y="368.76" width="5.86" height="4.74" fill="#5dbd8c"/><rect x="664.60" y="368.76" width="5.86" height="4.74" fill="#1478e0"/><rect x="670.46" y="368.76" width="5.86" height="4.74" fill="#1fb3b5"/><rect x="676.32" y="368.76" width="5.86" height="4.74" fill="#0f9ed0"/><rect x="682.18" y="368.76" width="5.86" height="4.74" fill="#1a55d8"/><rect x="688.04" y="368.76" width="5.86" height="4.74" fill="#1478e0"/><rect x="693.90" y="368.76" width="5.86" height="4.74" fill="#1a55d8"/><rect x="699.76" y="368.76" width="5.86" height="4.74" fill="#1a55d8"/><rect x="717.34" y="368.76" width="5.86" height="4.74" fill="#3333aa"/><rect x="389.18" y="373.50" width="5.86" height="4.74" fill="#3333aa"/><rect x="523.96" y="373.50" width="5.86" height="4.74" fill="#3333aa"/><rect x="594.28" y="373.50" width="5.86" height="4.74" fill="#3333aa"/><rect x="617.72" y="373.50" width="5.86" height="4.74" fill="#1a55d8"/><rect x="623.58" y="373.50" width="5.86" height="4.74" fill="#3333aa"/><rect x="629.44" y="373.50" width="5.86" height="4.74" fill="#1478e0"/><rect x="635.30" y="373.50" width="5.86" height="4.74" fill="#1a55d8"/><rect x="641.16" y="373.50" width="5.86" height="4.74" fill="#5dbd8c"/><rect x="647.02" y="373.50" width="5.86" height="4.74" fill="#1fb3b5"/><rect x="652.88" y="373.50" width="5.86" height="4.74" fill="#e8b84c"/><rect x="658.74" y="373.50" width="5.86" height="4.74" fill="#1478e0"/><rect x="664.60" y="373.50" width="5.86" height="4.74" fill="#1fb3b5"/><rect x="670.46" y="373.50" width="5.86" height="4.74" fill="#1fb3b5"/><rect x="676.32" y="373.50" width="5.86" height="4.74" fill="#0f9ed0"/><rect x="682.18" y="373.50" width="5.86" height="4.74" fill="#1fb3b5"/><rect x="688.04" y="373.50" width="5.86" height="4.74" fill="#1478e0"/><rect x="693.90" y="373.50" width="5.86" height="4.74" fill="#1a55d8"/><rect x="699.76" y="373.50" width="5.86" height="4.74" fill="#1a55d8"/><rect x="723.20" y="373.50" width="5.86" height="4.74" fill="#3333aa"/><rect x="189.94" y="378.24" width="5.86" height="4.74" fill="#3333aa"/><rect x="318.86" y="378.24" width="5.86" height="4.74" fill="#3333aa"/><rect x="482.94" y="378.24" width="5.86" height="4.74" fill="#3333aa"/><rect x="488.80" y="378.24" width="5.86" height="4.74" fill="#3333aa"/><rect x="506.38" y="378.24" width="5.86" height="4.74" fill="#3333aa"/><rect x="576.70" y="378.24" width="5.86" height="4.74" fill="#3333aa"/><rect x="606.00" y="378.24" width="5.86" height="4.74" fill="#1a55d8"/><rect x="623.58" y="378.24" width="5.86" height="4.74" fill="#1a55d8"/><rect x="629.44" y="378.24" width="5.86" height="4.74" fill="#0f9ed0"/><rect x="635.30" y="378.24" width="5.86" height="4.74" fill="#1a55d8"/><rect x="641.16" y="378.24" width="5.86" height="4.74" fill="#1fb3b5"/><rect x="647.02" y="378.24" width="5.86" height="4.74" fill="#1a55d8"/><rect x="652.88" y="378.24" width="5.86" height="4.74" fill="#1fb3b5"/><rect x="658.74" y="378.24" width="5.86" height="4.74" fill="#1fb3b5"/><rect x="664.60" y="378.24" width="5.86" height="4.74" fill="#0f9ed0"/><rect x="670.46" y="378.24" width="5.86" height="4.74" fill="#0f9ed0"/><rect x="676.32" y="378.24" width="5.86" height="4.74" fill="#0f9ed0"/><rect x="682.18" y="378.24" width="5.86" height="4.74" fill="#0f9ed0"/><rect x="688.04" y="378.24" width="5.86" height="4.74" fill="#3333aa"/><rect x="699.76" y="378.24" width="5.86" height="4.74" fill="#1478e0"/><rect x="705.62" y="378.24" width="5.86" height="4.74" fill="#3333aa"/><rect x="711.48" y="378.24" width="5.86" height="4.74" fill="#1a55d8"/><rect x="289.56" y="382.98" width="5.86" height="4.74" fill="#3333aa"/><rect x="453.64" y="382.98" width="5.86" height="4.74" fill="#3333aa"/><rect x="512.24" y="382.98" width="5.86" height="4.74" fill="#3333aa"/><rect x="564.98" y="382.98" width="5.86" height="4.74" fill="#1478e0"/><rect x="600.14" y="382.98" width="5.86" height="4.74" fill="#3333aa"/><rect x="617.72" y="382.98" width="5.86" height="4.74" fill="#3333aa"/><rect x="623.58" y="382.98" width="5.86" height="4.74" fill="#1a55d8"/><rect x="629.44" y="382.98" width="5.86" height="4.74" fill="#1a55d8"/><rect x="635.30" y="382.98" width="5.86" height="4.74" fill="#1fb3b5"/><rect x="641.16" y="382.98" width="5.86" height="4.74" fill="#1a55d8"/><rect x="647.02" y="382.98" width="5.86" height="4.74" fill="#1fb3b5"/><rect x="652.88" y="382.98" width="5.86" height="4.74" fill="#5dbd8c"/><rect x="658.74" y="382.98" width="5.86" height="4.74" fill="#1478e0"/><rect x="664.60" y="382.98" width="5.86" height="4.74" fill="#1fb3b5"/><rect x="670.46" y="382.98" width="5.86" height="4.74" fill="#a8bd68"/><rect x="676.32" y="382.98" width="5.86" height="4.74" fill="#0f9ed0"/><rect x="682.18" y="382.98" width="5.86" height="4.74" fill="#1478e0"/><rect x="688.04" y="382.98" width="5.86" height="4.74" fill="#1478e0"/><rect x="693.90" y="382.98" width="5.86" height="4.74" fill="#1a55d8"/><rect x="699.76" y="382.98" width="5.86" height="4.74" fill="#3333aa"/><rect x="711.48" y="382.98" width="5.86" height="4.74" fill="#1a55d8"/><rect x="564.98" y="387.72" width="5.86" height="4.74" fill="#3333aa"/><rect x="588.42" y="387.72" width="5.86" height="4.74" fill="#1a55d8"/><rect x="606.00" y="387.72" width="5.86" height="4.74" fill="#3333aa"/><rect x="611.86" y="387.72" width="5.86" height="4.74" fill="#3333aa"/><rect x="617.72" y="387.72" width="5.86" height="4.74" fill="#3333aa"/><rect x="623.58" y="387.72" width="5.86" height="4.74" fill="#1478e0"/><rect x="629.44" y="387.72" width="5.86" height="4.74" fill="#1478e0"/><rect x="635.30" y="387.72" width="5.86" height="4.74" fill="#1478e0"/><rect x="641.16" y="387.72" width="5.86" height="4.74" fill="#0f9ed0"/><rect x="647.02" y="387.72" width="5.86" height="4.74" fill="#1478e0"/><rect x="652.88" y="387.72" width="5.86" height="4.74" fill="#1fb3b5"/><rect x="658.74" y="387.72" width="5.86" height="4.74" fill="#0f9ed0"/><rect x="664.60" y="387.72" width="5.86" height="4.74" fill="#a8bd68"/><rect x="670.46" y="387.72" width="5.86" height="4.74" fill="#0f9ed0"/><rect x="676.32" y="387.72" width="5.86" height="4.74" fill="#1fb3b5"/><rect x="682.18" y="387.72" width="5.86" height="4.74" fill="#1478e0"/><rect x="688.04" y="387.72" width="5.86" height="4.74" fill="#1a55d8"/><rect x="693.90" y="387.72" width="5.86" height="4.74" fill="#1478e0"/><rect x="699.76" y="387.72" width="5.86" height="4.74" fill="#1a55d8"/><rect x="705.62" y="387.72" width="5.86" height="4.74" fill="#0f9ed0"/><rect x="518.10" y="392.46" width="5.86" height="4.74" fill="#3333aa"/><rect x="541.54" y="392.46" width="5.86" height="4.74" fill="#1478e0"/><rect x="570.84" y="392.46" width="5.86" height="4.74" fill="#1a55d8"/><rect x="576.70" y="392.46" width="5.86" height="4.74" fill="#3333aa"/><rect x="629.44" y="392.46" width="5.86" height="4.74" fill="#1478e0"/><rect x="635.30" y="392.46" width="5.86" height="4.74" fill="#1478e0"/><rect x="641.16" y="392.46" width="5.86" height="4.74" fill="#3333aa"/><rect x="647.02" y="392.46" width="5.86" height="4.74" fill="#3333aa"/><rect x="652.88" y="392.46" width="5.86" height="4.74" fill="#1fb3b5"/><rect x="658.74" y="392.46" width="5.86" height="4.74" fill="#1fb3b5"/><rect x="664.60" y="392.46" width="5.86" height="4.74" fill="#a8bd68"/><rect x="670.46" y="392.46" width="5.86" height="4.74" fill="#0f9ed0"/><rect x="676.32" y="392.46" width="5.86" height="4.74" fill="#a8bd68"/><rect x="682.18" y="392.46" width="5.86" height="4.74" fill="#1478e0"/><rect x="688.04" y="392.46" width="5.86" height="4.74" fill="#1478e0"/><rect x="693.90" y="392.46" width="5.86" height="4.74" fill="#0f9ed0"/><rect x="699.76" y="392.46" width="5.86" height="4.74" fill="#3333aa"/><rect x="705.62" y="392.46" width="5.86" height="4.74" fill="#3333aa"/><rect x="254.40" y="397.20" width="5.86" height="4.74" fill="#3333aa"/><rect x="418.48" y="397.20" width="5.86" height="4.74" fill="#3333aa"/><rect x="564.98" y="397.20" width="5.86" height="4.74" fill="#1a55d8"/><rect x="594.28" y="397.20" width="5.86" height="4.74" fill="#3333aa"/><rect x="606.00" y="397.20" width="5.86" height="4.74" fill="#1a55d8"/><rect x="611.86" y="397.20" width="5.86" height="4.74" fill="#3333aa"/><rect x="617.72" y="397.20" width="5.86" height="4.74" fill="#3333aa"/><rect x="629.44" y="397.20" width="5.86" height="4.74" fill="#1478e0"/><rect x="635.30" y="397.20" width="5.86" height="4.74" fill="#1a55d8"/><rect x="641.16" y="397.20" width="5.86" height="4.74" fill="#1478e0"/><rect x="647.02" y="397.20" width="5.86" height="4.74" fill="#0f9ed0"/><rect x="652.88" y="397.20" width="5.86" height="4.74" fill="#a8bd68"/><rect x="658.74" y="397.20" width="5.86" height="4.74" fill="#1fb3b5"/><rect x="664.60" y="397.20" width="5.86" height="4.74" fill="#0f9ed0"/><rect x="670.46" y="397.20" width="5.86" height="4.74" fill="#e8b84c"/><rect x="676.32" y="397.20" width="5.86" height="4.74" fill="#0f9ed0"/><rect x="682.18" y="397.20" width="5.86" height="4.74" fill="#1478e0"/><rect x="688.04" y="397.20" width="5.86" height="4.74" fill="#1478e0"/><rect x="693.90" y="397.20" width="5.86" height="4.74" fill="#1a55d8"/><rect x="699.76" y="397.20" width="5.86" height="4.74" fill="#1a55d8"/><rect x="705.62" y="397.20" width="5.86" height="4.74" fill="#3333aa"/><rect x="717.34" y="397.20" width="5.86" height="4.74" fill="#1a55d8"/><rect x="729.06" y="397.20" width="5.86" height="4.74" fill="#3333aa"/><rect x="219.24" y="401.94" width="5.86" height="4.74" fill="#3333aa"/><rect x="453.64" y="401.94" width="5.86" height="4.74" fill="#3333aa"/><rect x="482.94" y="401.94" width="5.86" height="4.74" fill="#3333aa"/><rect x="600.14" y="401.94" width="5.86" height="4.74" fill="#3333aa"/><rect x="611.86" y="401.94" width="5.86" height="4.74" fill="#1478e0"/><rect x="623.58" y="401.94" width="5.86" height="4.74" fill="#3333aa"/><rect x="641.16" y="401.94" width="5.86" height="4.74" fill="#1a55d8"/><rect x="647.02" y="401.94" width="5.86" height="4.74" fill="#1fb3b5"/><rect x="652.88" y="401.94" width="5.86" height="4.74" fill="#1fb3b5"/><rect x="658.74" y="401.94" width="5.86" height="4.74" fill="#1478e0"/><rect x="664.60" y="401.94" width="5.86" height="4.74" fill="#1fb3b5"/><rect x="670.46" y="401.94" width="5.86" height="4.74" fill="#1fb3b5"/><rect x="676.32" y="401.94" width="5.86" height="4.74" fill="#1478e0"/><rect x="682.18" y="401.94" width="5.86" height="4.74" fill="#1478e0"/><rect x="688.04" y="401.94" width="5.86" height="4.74" fill="#1478e0"/><rect x="693.90" y="401.94" width="5.86" height="4.74" fill="#3333aa"/><rect x="699.76" y="401.94" width="5.86" height="4.74" fill="#1478e0"/><rect x="705.62" y="401.94" width="5.86" height="4.74" fill="#3333aa"/><rect x="711.48" y="401.94" width="5.86" height="4.74" fill="#3333aa"/><rect x="717.34" y="401.94" width="5.86" height="4.74" fill="#3333aa"/><rect x="418.48" y="406.68" width="5.86" height="4.74" fill="#3333aa"/><rect x="471.22" y="406.68" width="5.86" height="4.74" fill="#3333aa"/><rect x="494.66" y="406.68" width="5.86" height="4.74" fill="#3333aa"/><rect x="564.98" y="406.68" width="5.86" height="4.74" fill="#3333aa"/><rect x="611.86" y="406.68" width="5.86" height="4.74" fill="#3333aa"/><rect x="617.72" y="406.68" width="5.86" height="4.74" fill="#3333aa"/><rect x="629.44" y="406.68" width="5.86" height="4.74" fill="#3333aa"/><rect x="635.30" y="406.68" width="5.86" height="4.74" fill="#3333aa"/><rect x="641.16" y="406.68" width="5.86" height="4.74" fill="#1478e0"/><rect x="647.02" y="406.68" width="5.86" height="4.74" fill="#e8b84c"/><rect x="652.88" y="406.68" width="5.86" height="4.74" fill="#1478e0"/><rect x="658.74" y="406.68" width="5.86" height="4.74" fill="#1fb3b5"/><rect x="664.60" y="406.68" width="5.86" height="4.74" fill="#1fb3b5"/><rect x="670.46" y="406.68" width="5.86" height="4.74" fill="#0f9ed0"/><rect x="676.32" y="406.68" width="5.86" height="4.74" fill="#1fb3b5"/><rect x="682.18" y="406.68" width="5.86" height="4.74" fill="#0f9ed0"/><rect x="688.04" y="406.68" width="5.86" height="4.74" fill="#1fb3b5"/><rect x="693.90" y="406.68" width="5.86" height="4.74" fill="#1fb3b5"/><rect x="699.76" y="406.68" width="5.86" height="4.74" fill="#1478e0"/><rect x="711.48" y="406.68" width="5.86" height="4.74" fill="#1a55d8"/><rect x="723.20" y="406.68" width="5.86" height="4.74" fill="#1a55d8"/><rect x="324.72" y="411.42" width="5.86" height="4.74" fill="#1478e0"/><rect x="359.88" y="411.42" width="5.86" height="4.74" fill="#3333aa"/><rect x="377.46" y="411.42" width="5.86" height="4.74" fill="#3333aa"/><rect x="400.90" y="411.42" width="5.86" height="4.74" fill="#3333aa"/><rect x="623.58" y="411.42" width="5.86" height="4.74" fill="#3333aa"/><rect x="635.30" y="411.42" width="5.86" height="4.74" fill="#1478e0"/><rect x="641.16" y="411.42" width="5.86" height="4.74" fill="#3333aa"/><rect x="647.02" y="411.42" width="5.86" height="4.74" fill="#1478e0"/><rect x="652.88" y="411.42" width="5.86" height="4.74" fill="#1478e0"/><rect x="658.74" y="411.42" width="5.86" height="4.74" fill="#1fb3b5"/><rect x="664.60" y="411.42" width="5.86" height="4.74" fill="#5dbd8c"/><rect x="670.46" y="411.42" width="5.86" height="4.74" fill="#a8bd68"/><rect x="676.32" y="411.42" width="5.86" height="4.74" fill="#1478e0"/><rect x="682.18" y="411.42" width="5.86" height="4.74" fill="#1478e0"/><rect x="688.04" y="411.42" width="5.86" height="4.74" fill="#1478e0"/><rect x="693.90" y="411.42" width="5.86" height="4.74" fill="#1a55d8"/><rect x="699.76" y="411.42" width="5.86" height="4.74" fill="#1478e0"/><rect x="705.62" y="411.42" width="5.86" height="4.74" fill="#3333aa"/><rect x="723.20" y="411.42" width="5.86" height="4.74" fill="#3333aa"/><rect x="201.66" y="416.16" width="5.86" height="4.74" fill="#3333aa"/><rect x="506.38" y="416.16" width="5.86" height="4.74" fill="#3333aa"/><rect x="523.96" y="416.16" width="5.86" height="4.74" fill="#3333aa"/><rect x="535.68" y="416.16" width="5.86" height="4.74" fill="#3333aa"/><rect x="611.86" y="416.16" width="5.86" height="4.74" fill="#3333aa"/><rect x="617.72" y="416.16" width="5.86" height="4.74" fill="#1478e0"/><rect x="623.58" y="416.16" width="5.86" height="4.74" fill="#3333aa"/><rect x="641.16" y="416.16" width="5.86" height="4.74" fill="#3333aa"/><rect x="647.02" y="416.16" width="5.86" height="4.74" fill="#1478e0"/><rect x="652.88" y="416.16" width="5.86" height="4.74" fill="#1478e0"/><rect x="658.74" y="416.16" width="5.86" height="4.74" fill="#1fb3b5"/><rect x="664.60" y="416.16" width="5.86" height="4.74" fill="#1478e0"/><rect x="670.46" y="416.16" width="5.86" height="4.74" fill="#1478e0"/><rect x="676.32" y="416.16" width="5.86" height="4.74" fill="#0f9ed0"/><rect x="682.18" y="416.16" width="5.86" height="4.74" fill="#1478e0"/><rect x="688.04" y="416.16" width="5.86" height="4.74" fill="#1478e0"/><rect x="693.90" y="416.16" width="5.86" height="4.74" fill="#1478e0"/><rect x="699.76" y="416.16" width="5.86" height="4.74" fill="#1a55d8"/><rect x="705.62" y="416.16" width="5.86" height="4.74" fill="#3333aa"/><rect x="717.34" y="416.16" width="5.86" height="4.74" fill="#3333aa"/><rect x="359.88" y="420.90" width="5.86" height="4.74" fill="#3333aa"/><rect x="488.80" y="420.90" width="5.86" height="4.74" fill="#3333aa"/><rect x="600.14" y="420.90" width="5.86" height="4.74" fill="#3333aa"/><rect x="611.86" y="420.90" width="5.86" height="4.74" fill="#3333aa"/><rect x="629.44" y="420.90" width="5.86" height="4.74" fill="#3333aa"/><rect x="641.16" y="420.90" width="5.86" height="4.74" fill="#3333aa"/><rect x="647.02" y="420.90" width="5.86" height="4.74" fill="#1a55d8"/><rect x="652.88" y="420.90" width="5.86" height="4.74" fill="#1478e0"/><rect x="658.74" y="420.90" width="5.86" height="4.74" fill="#0f9ed0"/><rect x="664.60" y="420.90" width="5.86" height="4.74" fill="#1fb3b5"/><rect x="670.46" y="420.90" width="5.86" height="4.74" fill="#1a55d8"/><rect x="676.32" y="420.90" width="5.86" height="4.74" fill="#1fb3b5"/><rect x="682.18" y="420.90" width="5.86" height="4.74" fill="#1478e0"/><rect x="688.04" y="420.90" width="5.86" height="4.74" fill="#1478e0"/><rect x="693.90" y="420.90" width="5.86" height="4.74" fill="#1478e0"/><rect x="699.76" y="420.90" width="5.86" height="4.74" fill="#3333aa"/><rect x="705.62" y="420.90" width="5.86" height="4.74" fill="#1478e0"/><rect x="711.48" y="420.90" width="5.86" height="4.74" fill="#1a55d8"/><rect x="248.54" y="425.64" width="5.86" height="4.74" fill="#3333aa"/><rect x="430.20" y="425.64" width="5.86" height="4.74" fill="#3333aa"/><rect x="482.94" y="425.64" width="5.86" height="4.74" fill="#3333aa"/><rect x="518.10" y="425.64" width="5.86" height="4.74" fill="#3333aa"/><rect x="535.68" y="425.64" width="5.86" height="4.74" fill="#3333aa"/><rect x="564.98" y="425.64" width="5.86" height="4.74" fill="#3333aa"/><rect x="617.72" y="425.64" width="5.86" height="4.74" fill="#3333aa"/><rect x="623.58" y="425.64" width="5.86" height="4.74" fill="#3333aa"/><rect x="641.16" y="425.64" width="5.86" height="4.74" fill="#1a55d8"/><rect x="647.02" y="425.64" width="5.86" height="4.74" fill="#1478e0"/><rect x="652.88" y="425.64" width="5.86" height="4.74" fill="#1478e0"/><rect x="658.74" y="425.64" width="5.86" height="4.74" fill="#0f9ed0"/><rect x="664.60" y="425.64" width="5.86" height="4.74" fill="#1fb3b5"/><rect x="670.46" y="425.64" width="5.86" height="4.74" fill="#5dbd8c"/><rect x="676.32" y="425.64" width="5.86" height="4.74" fill="#1fb3b5"/><rect x="682.18" y="425.64" width="5.86" height="4.74" fill="#1478e0"/><rect x="688.04" y="425.64" width="5.86" height="4.74" fill="#1478e0"/><rect x="693.90" y="425.64" width="5.86" height="4.74" fill="#1478e0"/><rect x="705.62" y="425.64" width="5.86" height="4.74" fill="#3333aa"/><rect x="717.34" y="425.64" width="5.86" height="4.74" fill="#3333aa"/><rect x="723.20" y="425.64" width="5.86" height="4.74" fill="#1478e0"/><rect x="348.16" y="430.38" width="5.86" height="4.74" fill="#1a55d8"/><rect x="354.02" y="430.38" width="5.86" height="4.74" fill="#3333aa"/><rect x="471.22" y="430.38" width="5.86" height="4.74" fill="#3333aa"/><rect x="482.94" y="430.38" width="5.86" height="4.74" fill="#3333aa"/><rect x="523.96" y="430.38" width="5.86" height="4.74" fill="#3333aa"/><rect x="576.70" y="430.38" width="5.86" height="4.74" fill="#3333aa"/><rect x="623.58" y="430.38" width="5.86" height="4.74" fill="#1a55d8"/><rect x="635.30" y="430.38" width="5.86" height="4.74" fill="#1478e0"/><rect x="641.16" y="430.38" width="5.86" height="4.74" fill="#1478e0"/><rect x="647.02" y="430.38" width="5.86" height="4.74" fill="#1478e0"/><rect x="652.88" y="430.38" width="5.86" height="4.74" fill="#1a55d8"/><rect x="658.74" y="430.38" width="5.86" height="4.74" fill="#1478e0"/><rect x="664.60" y="430.38" width="5.86" height="4.74" fill="#1fb3b5"/><rect x="670.46" y="430.38" width="5.86" height="4.74" fill="#3333aa"/><rect x="676.32" y="430.38" width="5.86" height="4.74" fill="#1fb3b5"/><rect x="682.18" y="430.38" width="5.86" height="4.74" fill="#1478e0"/><rect x="688.04" y="430.38" width="5.86" height="4.74" fill="#3333aa"/><rect x="693.90" y="430.38" width="5.86" height="4.74" fill="#1478e0"/><rect x="699.76" y="430.38" width="5.86" height="4.74" fill="#1a55d8"/><rect x="711.48" y="430.38" width="5.86" height="4.74" fill="#1a55d8"/><rect x="717.34" y="430.38" width="5.86" height="4.74" fill="#3333aa"/><rect x="729.06" y="430.38" width="5.86" height="4.74" fill="#3333aa"/><rect x="436.06" y="435.12" width="5.86" height="4.74" fill="#3333aa"/><rect x="477.08" y="435.12" width="5.86" height="4.74" fill="#3333aa"/><rect x="606.00" y="435.12" width="5.86" height="4.74" fill="#3333aa"/><rect x="623.58" y="435.12" width="5.86" height="4.74" fill="#3333aa"/><rect x="635.30" y="435.12" width="5.86" height="4.74" fill="#3333aa"/><rect x="641.16" y="435.12" width="5.86" height="4.74" fill="#1a55d8"/><rect x="647.02" y="435.12" width="5.86" height="4.74" fill="#0f9ed0"/><rect x="652.88" y="435.12" width="5.86" height="4.74" fill="#1a55d8"/><rect x="658.74" y="435.12" width="5.86" height="4.74" fill="#1478e0"/><rect x="664.60" y="435.12" width="5.86" height="4.74" fill="#1fb3b5"/><rect x="670.46" y="435.12" width="5.86" height="4.74" fill="#0f9ed0"/><rect x="676.32" y="435.12" width="5.86" height="4.74" fill="#1fb3b5"/><rect x="682.18" y="435.12" width="5.86" height="4.74" fill="#0f9ed0"/><rect x="688.04" y="435.12" width="5.86" height="4.74" fill="#1fb3b5"/><rect x="693.90" y="435.12" width="5.86" height="4.74" fill="#1478e0"/><rect x="699.76" y="435.12" width="5.86" height="4.74" fill="#3333aa"/><rect x="705.62" y="435.12" width="5.86" height="4.74" fill="#1478e0"/><rect x="711.48" y="435.12" width="5.86" height="4.74" fill="#1478e0"/><rect x="717.34" y="435.12" width="5.86" height="4.74" fill="#3333aa"/><rect x="301.28" y="439.86" width="5.86" height="4.74" fill="#3333aa"/><rect x="307.14" y="439.86" width="5.86" height="4.74" fill="#3333aa"/><rect x="354.02" y="439.86" width="5.86" height="4.74" fill="#3333aa"/><rect x="477.08" y="439.86" width="5.86" height="4.74" fill="#3333aa"/><rect x="494.66" y="439.86" width="5.86" height="4.74" fill="#3333aa"/><rect x="635.30" y="439.86" width="5.86" height="4.74" fill="#3333aa"/><rect x="641.16" y="439.86" width="5.86" height="4.74" fill="#1a55d8"/><rect x="647.02" y="439.86" width="5.86" height="4.74" fill="#1a55d8"/><rect x="658.74" y="439.86" width="5.86" height="4.74" fill="#1a55d8"/><rect x="664.60" y="439.86" width="5.86" height="4.74" fill="#1478e0"/><rect x="670.46" y="439.86" width="5.86" height="4.74" fill="#1478e0"/><rect x="676.32" y="439.86" width="5.86" height="4.74" fill="#3333aa"/><rect x="682.18" y="439.86" width="5.86" height="4.74" fill="#1a55d8"/><rect x="693.90" y="439.86" width="5.86" height="4.74" fill="#3333aa"/><rect x="699.76" y="439.86" width="5.86" height="4.74" fill="#3333aa"/><rect x="705.62" y="439.86" width="5.86" height="4.74" fill="#3333aa"/><rect x="711.48" y="439.86" width="5.86" height="4.74" fill="#1a55d8"/><rect x="207.52" y="444.60" width="5.86" height="4.74" fill="#3333aa"/><rect x="629.44" y="444.60" width="5.86" height="4.74" fill="#1a55d8"/><rect x="635.30" y="444.60" width="5.86" height="4.74" fill="#3333aa"/><rect x="641.16" y="444.60" width="5.86" height="4.74" fill="#1a55d8"/><rect x="647.02" y="444.60" width="5.86" height="4.74" fill="#1a55d8"/><rect x="652.88" y="444.60" width="5.86" height="4.74" fill="#0f9ed0"/><rect x="658.74" y="444.60" width="5.86" height="4.74" fill="#3333aa"/><rect x="664.60" y="444.60" width="5.86" height="4.74" fill="#1478e0"/><rect x="670.46" y="444.60" width="5.86" height="4.74" fill="#1478e0"/><rect x="676.32" y="444.60" width="5.86" height="4.74" fill="#1a55d8"/><rect x="682.18" y="444.60" width="5.86" height="4.74" fill="#1478e0"/><rect x="688.04" y="444.60" width="5.86" height="4.74" fill="#1478e0"/><rect x="699.76" y="444.60" width="5.86" height="4.74" fill="#1a55d8"/><rect x="705.62" y="444.60" width="5.86" height="4.74" fill="#1a55d8"/><rect x="711.48" y="444.60" width="5.86" height="4.74" fill="#1478e0"/><rect x="734.92" y="444.60" width="5.86" height="4.74" fill="#3333aa"/><rect x="225.10" y="449.34" width="5.86" height="4.74" fill="#3333aa"/><rect x="230.96" y="449.34" width="5.86" height="4.74" fill="#3333aa"/><rect x="295.42" y="449.34" width="5.86" height="4.74" fill="#3333aa"/><rect x="465.36" y="449.34" width="5.86" height="4.74" fill="#3333aa"/><rect x="506.38" y="449.34" width="5.86" height="4.74" fill="#3333aa"/><rect x="523.96" y="449.34" width="5.86" height="4.74" fill="#3333aa"/><rect x="547.40" y="449.34" width="5.86" height="4.74" fill="#1a55d8"/><rect x="588.42" y="449.34" width="5.86" height="4.74" fill="#3333aa"/><rect x="617.72" y="449.34" width="5.86" height="4.74" fill="#3333aa"/><rect x="647.02" y="449.34" width="5.86" height="4.74" fill="#1478e0"/><rect x="652.88" y="449.34" width="5.86" height="4.74" fill="#1a55d8"/><rect x="658.74" y="449.34" width="5.86" height="4.74" fill="#1478e0"/><rect x="664.60" y="449.34" width="5.86" height="4.74" fill="#1478e0"/><rect x="670.46" y="449.34" width="5.86" height="4.74" fill="#1fb3b5"/><rect x="676.32" y="449.34" width="5.86" height="4.74" fill="#1a55d8"/><rect x="682.18" y="449.34" width="5.86" height="4.74" fill="#1478e0"/><rect x="688.04" y="449.34" width="5.86" height="4.74" fill="#1478e0"/><rect x="693.90" y="449.34" width="5.86" height="4.74" fill="#0f9ed0"/><rect x="699.76" y="449.34" width="5.86" height="4.74" fill="#1478e0"/><rect x="705.62" y="449.34" width="5.86" height="4.74" fill="#3333aa"/><rect x="723.20" y="449.34" width="5.86" height="4.74" fill="#1478e0"/><rect x="236.82" y="454.08" width="5.86" height="4.74" fill="#3333aa"/><rect x="348.16" y="454.08" width="5.86" height="4.74" fill="#3333aa"/><rect x="389.18" y="454.08" width="5.86" height="4.74" fill="#3333aa"/><rect x="588.42" y="454.08" width="5.86" height="4.74" fill="#1a55d8"/><rect x="629.44" y="454.08" width="5.86" height="4.74" fill="#3333aa"/><rect x="641.16" y="454.08" width="5.86" height="4.74" fill="#3333aa"/><rect x="652.88" y="454.08" width="5.86" height="4.74" fill="#0f9ed0"/><rect x="658.74" y="454.08" width="5.86" height="4.74" fill="#1a55d8"/><rect x="664.60" y="454.08" width="5.86" height="4.74" fill="#1478e0"/><rect x="670.46" y="454.08" width="5.86" height="4.74" fill="#1478e0"/><rect x="676.32" y="454.08" width="5.86" height="4.74" fill="#0f9ed0"/><rect x="682.18" y="454.08" width="5.86" height="4.74" fill="#1478e0"/><rect x="688.04" y="454.08" width="5.86" height="4.74" fill="#1478e0"/><rect x="693.90" y="454.08" width="5.86" height="4.74" fill="#1478e0"/><rect x="699.76" y="454.08" width="5.86" height="4.74" fill="#1a55d8"/><rect x="705.62" y="454.08" width="5.86" height="4.74" fill="#3333aa"/><rect x="711.48" y="454.08" width="5.86" height="4.74" fill="#1a55d8"/><rect x="723.20" y="454.08" width="5.86" height="4.74" fill="#3333aa"/><rect x="406.76" y="458.82" width="5.86" height="4.74" fill="#3333aa"/><rect x="529.82" y="458.82" width="5.86" height="4.74" fill="#3333aa"/><rect x="564.98" y="458.82" width="5.86" height="4.74" fill="#1a55d8"/><rect x="570.84" y="458.82" width="5.86" height="4.74" fill="#1a55d8"/><rect x="623.58" y="458.82" width="5.86" height="4.74" fill="#3333aa"/><rect x="647.02" y="458.82" width="5.86" height="4.74" fill="#1a55d8"/><rect x="658.74" y="458.82" width="5.86" height="4.74" fill="#3333aa"/><rect x="664.60" y="458.82" width="5.86" height="4.74" fill="#1a55d8"/><rect x="670.46" y="458.82" width="5.86" height="4.74" fill="#1478e0"/><rect x="676.32" y="458.82" width="5.86" height="4.74" fill="#0f9ed0"/><rect x="682.18" y="458.82" width="5.86" height="4.74" fill="#1478e0"/><rect x="688.04" y="458.82" width="5.86" height="4.74" fill="#3333aa"/><rect x="693.90" y="458.82" width="5.86" height="4.74" fill="#1478e0"/><rect x="699.76" y="458.82" width="5.86" height="4.74" fill="#1478e0"/><rect x="705.62" y="458.82" width="5.86" height="4.74" fill="#3333aa"/><rect x="711.48" y="458.82" width="5.86" height="4.74" fill="#3333aa"/><rect x="717.34" y="458.82" width="5.86" height="4.74" fill="#3333aa"/><rect x="242.68" y="463.56" width="5.86" height="4.74" fill="#1a55d8"/><rect x="295.42" y="463.56" width="5.86" height="4.74" fill="#3333aa"/><rect x="342.30" y="463.56" width="5.86" height="4.74" fill="#1a55d8"/><rect x="541.54" y="463.56" width="5.86" height="4.74" fill="#3333aa"/><rect x="629.44" y="463.56" width="5.86" height="4.74" fill="#3333aa"/><rect x="641.16" y="463.56" width="5.86" height="4.74" fill="#3333aa"/><rect x="647.02" y="463.56" width="5.86" height="4.74" fill="#1a55d8"/><rect x="652.88" y="463.56" width="5.86" height="4.74" fill="#3333aa"/><rect x="658.74" y="463.56" width="5.86" height="4.74" fill="#1a55d8"/><rect x="664.60" y="463.56" width="5.86" height="4.74" fill="#1478e0"/><rect x="670.46" y="463.56" width="5.86" height="4.74" fill="#1478e0"/><rect x="676.32" y="463.56" width="5.86" height="4.74" fill="#3333aa"/><rect x="682.18" y="463.56" width="5.86" height="4.74" fill="#1478e0"/><rect x="688.04" y="463.56" width="5.86" height="4.74" fill="#1478e0"/><rect x="699.76" y="463.56" width="5.86" height="4.74" fill="#1478e0"/><rect x="705.62" y="463.56" width="5.86" height="4.74" fill="#0f9ed0"/><rect x="711.48" y="463.56" width="5.86" height="4.74" fill="#1a55d8"/><rect x="717.34" y="463.56" width="5.86" height="4.74" fill="#1a55d8"/><rect x="729.06" y="463.56" width="5.86" height="4.74" fill="#3333aa"/><rect x="289.56" y="468.30" width="5.86" height="4.74" fill="#1a55d8"/><rect x="348.16" y="468.30" width="5.86" height="4.74" fill="#3333aa"/><rect x="365.74" y="468.30" width="5.86" height="4.74" fill="#3333aa"/><rect x="424.34" y="468.30" width="5.86" height="4.74" fill="#3333aa"/><rect x="506.38" y="468.30" width="5.86" height="4.74" fill="#3333aa"/><rect x="518.10" y="468.30" width="5.86" height="4.74" fill="#3333aa"/><rect x="523.96" y="468.30" width="5.86" height="4.74" fill="#3333aa"/><rect x="570.84" y="468.30" width="5.86" height="4.74" fill="#3333aa"/><rect x="588.42" y="468.30" width="5.86" height="4.74" fill="#3333aa"/><rect x="629.44" y="468.30" width="5.86" height="4.74" fill="#3333aa"/><rect x="635.30" y="468.30" width="5.86" height="4.74" fill="#3333aa"/><rect x="647.02" y="468.30" width="5.86" height="4.74" fill="#3333aa"/><rect x="652.88" y="468.30" width="5.86" height="4.74" fill="#3333aa"/><rect x="658.74" y="468.30" width="5.86" height="4.74" fill="#1478e0"/><rect x="664.60" y="468.30" width="5.86" height="4.74" fill="#0f9ed0"/><rect x="670.46" y="468.30" width="5.86" height="4.74" fill="#3333aa"/><rect x="682.18" y="468.30" width="5.86" height="4.74" fill="#1a55d8"/><rect x="688.04" y="468.30" width="5.86" height="4.74" fill="#1478e0"/><rect x="693.90" y="468.30" width="5.86" height="4.74" fill="#1478e0"/><rect x="699.76" y="468.30" width="5.86" height="4.74" fill="#1478e0"/><rect x="705.62" y="468.30" width="5.86" height="4.74" fill="#1478e0"/><rect x="717.34" y="468.30" width="5.86" height="4.74" fill="#1478e0"/><rect x="734.92" y="468.30" width="5.86" height="4.74" fill="#3333aa"/><rect x="271.98" y="473.04" width="5.86" height="4.74" fill="#3333aa"/><rect x="289.56" y="473.04" width="5.86" height="4.74" fill="#3333aa"/><rect x="418.48" y="473.04" width="5.86" height="4.74" fill="#1a55d8"/><rect x="424.34" y="473.04" width="5.86" height="4.74" fill="#3333aa"/><rect x="453.64" y="473.04" width="5.86" height="4.74" fill="#3333aa"/><rect x="512.24" y="473.04" width="5.86" height="4.74" fill="#1a55d8"/><rect x="594.28" y="473.04" width="5.86" height="4.74" fill="#3333aa"/><rect x="623.58" y="473.04" width="5.86" height="4.74" fill="#3333aa"/><rect x="635.30" y="473.04" width="5.86" height="4.74" fill="#1478e0"/><rect x="647.02" y="473.04" width="5.86" height="4.74" fill="#3333aa"/><rect x="664.60" y="473.04" width="5.86" height="4.74" fill="#3333aa"/><rect x="676.32" y="473.04" width="5.86" height="4.74" fill="#1a55d8"/><rect x="682.18" y="473.04" width="5.86" height="4.74" fill="#3333aa"/><rect x="688.04" y="473.04" width="5.86" height="4.74" fill="#1478e0"/><rect x="693.90" y="473.04" width="5.86" height="4.74" fill="#1478e0"/><rect x="699.76" y="473.04" width="5.86" height="4.74" fill="#1478e0"/><rect x="705.62" y="473.04" width="5.86" height="4.74" fill="#1a55d8"/><rect x="711.48" y="473.04" width="5.86" height="4.74" fill="#1a55d8"/><rect x="723.20" y="473.04" width="5.86" height="4.74" fill="#3333aa"/><rect x="729.06" y="473.04" width="5.86" height="4.74" fill="#1a55d8"/><rect x="230.96" y="477.78" width="5.86" height="4.74" fill="#3333aa"/><rect x="242.68" y="477.78" width="5.86" height="4.74" fill="#3333aa"/><rect x="412.62" y="477.78" width="5.86" height="4.74" fill="#3333aa"/><rect x="529.82" y="477.78" width="5.86" height="4.74" fill="#3333aa"/><rect x="629.44" y="477.78" width="5.86" height="4.74" fill="#3333aa"/><rect x="641.16" y="477.78" width="5.86" height="4.74" fill="#3333aa"/><rect x="652.88" y="477.78" width="5.86" height="4.74" fill="#3333aa"/><rect x="658.74" y="477.78" width="5.86" height="4.74" fill="#1a55d8"/><rect x="664.60" y="477.78" width="5.86" height="4.74" fill="#1478e0"/><rect x="670.46" y="477.78" width="5.86" height="4.74" fill="#1a55d8"/><rect x="676.32" y="477.78" width="5.86" height="4.74" fill="#1a55d8"/><rect x="682.18" y="477.78" width="5.86" height="4.74" fill="#1478e0"/><rect x="688.04" y="477.78" width="5.86" height="4.74" fill="#1a55d8"/><rect x="693.90" y="477.78" width="5.86" height="4.74" fill="#3333aa"/><rect x="699.76" y="477.78" width="5.86" height="4.74" fill="#1478e0"/><rect x="705.62" y="477.78" width="5.86" height="4.74" fill="#3333aa"/><rect x="711.48" y="477.78" width="5.86" height="4.74" fill="#1a55d8"/><rect x="717.34" y="477.78" width="5.86" height="4.74" fill="#1a55d8"/><rect x="723.20" y="477.78" width="5.86" height="4.74" fill="#1a55d8"/><rect x="729.06" y="477.78" width="5.86" height="4.74" fill="#3333aa"/><rect x="371.60" y="482.52" width="5.86" height="4.74" fill="#3333aa"/><rect x="430.20" y="482.52" width="5.86" height="4.74" fill="#3333aa"/><rect x="471.22" y="482.52" width="5.86" height="4.74" fill="#3333aa"/><rect x="482.94" y="482.52" width="5.86" height="4.74" fill="#3333aa"/><rect x="576.70" y="482.52" width="5.86" height="4.74" fill="#3333aa"/><rect x="582.56" y="482.52" width="5.86" height="4.74" fill="#3333aa"/><rect x="588.42" y="482.52" width="5.86" height="4.74" fill="#3333aa"/><rect x="600.14" y="482.52" width="5.86" height="4.74" fill="#3333aa"/><rect x="617.72" y="482.52" width="5.86" height="4.74" fill="#3333aa"/><rect x="641.16" y="482.52" width="5.86" height="4.74" fill="#3333aa"/><rect x="647.02" y="482.52" width="5.86" height="4.74" fill="#3333aa"/><rect x="652.88" y="482.52" width="5.86" height="4.74" fill="#3333aa"/><rect x="658.74" y="482.52" width="5.86" height="4.74" fill="#3333aa"/><rect x="664.60" y="482.52" width="5.86" height="4.74" fill="#1a55d8"/><rect x="670.46" y="482.52" width="5.86" height="4.74" fill="#0f9ed0"/><rect x="676.32" y="482.52" width="5.86" height="4.74" fill="#1a55d8"/><rect x="682.18" y="482.52" width="5.86" height="4.74" fill="#3333aa"/><rect x="693.90" y="482.52" width="5.86" height="4.74" fill="#1478e0"/><rect x="699.76" y="482.52" width="5.86" height="4.74" fill="#3333aa"/><rect x="705.62" y="482.52" width="5.86" height="4.74" fill="#3333aa"/><rect x="711.48" y="482.52" width="5.86" height="4.74" fill="#1478e0"/><rect x="734.92" y="482.52" width="5.86" height="4.74" fill="#3333aa"/><rect x="465.36" y="487.26" width="5.86" height="4.74" fill="#3333aa"/><rect x="477.08" y="487.26" width="5.86" height="4.74" fill="#3333aa"/><rect x="576.70" y="487.26" width="5.86" height="4.74" fill="#3333aa"/><rect x="641.16" y="487.26" width="5.86" height="4.74" fill="#3333aa"/><rect x="658.74" y="487.26" width="5.86" height="4.74" fill="#3333aa"/><rect x="664.60" y="487.26" width="5.86" height="4.74" fill="#1a55d8"/><rect x="676.32" y="487.26" width="5.86" height="4.74" fill="#1a55d8"/><rect x="682.18" y="487.26" width="5.86" height="4.74" fill="#3333aa"/><rect x="688.04" y="487.26" width="5.86" height="4.74" fill="#1a55d8"/><rect x="693.90" y="487.26" width="5.86" height="4.74" fill="#1478e0"/><rect x="699.76" y="487.26" width="5.86" height="4.74" fill="#3333aa"/><rect x="711.48" y="487.26" width="5.86" height="4.74" fill="#0f9ed0"/><rect x="236.82" y="492.00" width="5.86" height="4.74" fill="#3333aa"/><rect x="289.56" y="492.00" width="5.86" height="4.74" fill="#1a55d8"/><rect x="471.22" y="492.00" width="5.86" height="4.74" fill="#3333aa"/><rect x="652.88" y="492.00" width="5.86" height="4.74" fill="#3333aa"/><rect x="658.74" y="492.00" width="5.86" height="4.74" fill="#3333aa"/><rect x="664.60" y="492.00" width="5.86" height="4.74" fill="#3333aa"/><rect x="670.46" y="492.00" width="5.86" height="4.74" fill="#3333aa"/><rect x="676.32" y="492.00" width="5.86" height="4.74" fill="#3333aa"/><rect x="682.18" y="492.00" width="5.86" height="4.74" fill="#1a55d8"/><rect x="688.04" y="492.00" width="5.86" height="4.74" fill="#1a55d8"/><rect x="693.90" y="492.00" width="5.86" height="4.74" fill="#1a55d8"/><rect x="699.76" y="492.00" width="5.86" height="4.74" fill="#1a55d8"/><rect x="711.48" y="492.00" width="5.86" height="4.74" fill="#1fb3b5"/><rect x="723.20" y="492.00" width="5.86" height="4.74" fill="#3333aa"/><rect x="729.06" y="492.00" width="5.86" height="4.74" fill="#3333aa"/><rect x="547.40" y="496.74" width="5.86" height="4.74" fill="#3333aa"/><rect x="670.46" y="496.74" width="5.86" height="4.74" fill="#1a55d8"/><rect x="682.18" y="496.74" width="5.86" height="4.74" fill="#1478e0"/><rect x="688.04" y="496.74" width="5.86" height="4.74" fill="#1a55d8"/><rect x="699.76" y="496.74" width="5.86" height="4.74" fill="#1a55d8"/><rect x="705.62" y="496.74" width="5.86" height="4.74" fill="#3333aa"/><rect x="711.48" y="496.74" width="5.86" height="4.74" fill="#3333aa"/><rect x="717.34" y="496.74" width="5.86" height="4.74" fill="#1a55d8"/><rect x="213.38" y="501.48" width="5.86" height="4.74" fill="#3333aa"/><rect x="260.26" y="501.48" width="5.86" height="4.74" fill="#3333aa"/><rect x="512.24" y="501.48" width="5.86" height="4.74" fill="#3333aa"/><rect x="611.86" y="501.48" width="5.86" height="4.74" fill="#3333aa"/><rect x="664.60" y="501.48" width="5.86" height="4.74" fill="#3333aa"/><rect x="670.46" y="501.48" width="5.86" height="4.74" fill="#3333aa"/><rect x="676.32" y="501.48" width="5.86" height="4.74" fill="#1478e0"/><rect x="688.04" y="501.48" width="5.86" height="4.74" fill="#3333aa"/><rect x="693.90" y="501.48" width="5.86" height="4.74" fill="#3333aa"/><rect x="705.62" y="501.48" width="5.86" height="4.74" fill="#1478e0"/><rect x="711.48" y="501.48" width="5.86" height="4.74" fill="#3333aa"/><rect x="723.20" y="501.48" width="5.86" height="4.74" fill="#3333aa"/><rect x="266.12" y="506.22" width="5.86" height="4.74" fill="#3333aa"/><rect x="617.72" y="506.22" width="5.86" height="4.74" fill="#3333aa"/><rect x="629.44" y="506.22" width="5.86" height="4.74" fill="#3333aa"/><rect x="658.74" y="506.22" width="5.86" height="4.74" fill="#3333aa"/><rect x="664.60" y="506.22" width="5.86" height="4.74" fill="#3333aa"/><rect x="670.46" y="506.22" width="5.86" height="4.74" fill="#1478e0"/><rect x="676.32" y="506.22" width="5.86" height="4.74" fill="#3333aa"/><rect x="682.18" y="506.22" width="5.86" height="4.74" fill="#3333aa"/><rect x="688.04" y="506.22" width="5.86" height="4.74" fill="#1a55d8"/><rect x="699.76" y="506.22" width="5.86" height="4.74" fill="#3333aa"/><rect x="705.62" y="506.22" width="5.86" height="4.74" fill="#1478e0"/><rect x="723.20" y="506.22" width="5.86" height="4.74" fill="#1a55d8"/><rect x="512.24" y="510.96" width="5.86" height="4.74" fill="#3333aa"/><rect x="658.74" y="510.96" width="5.86" height="4.74" fill="#3333aa"/><rect x="670.46" y="510.96" width="5.86" height="4.74" fill="#3333aa"/><rect x="676.32" y="510.96" width="5.86" height="4.74" fill="#3333aa"/><rect x="682.18" y="510.96" width="5.86" height="4.74" fill="#1478e0"/><rect x="688.04" y="510.96" width="5.86" height="4.74" fill="#3333aa"/><rect x="693.90" y="510.96" width="5.86" height="4.74" fill="#3333aa"/><rect x="699.76" y="510.96" width="5.86" height="4.74" fill="#3333aa"/><rect x="705.62" y="510.96" width="5.86" height="4.74" fill="#1a55d8"/><rect x="711.48" y="510.96" width="5.86" height="4.74" fill="#3333aa"/><rect x="723.20" y="510.96" width="5.86" height="4.74" fill="#3333aa"/><rect x="729.06" y="510.96" width="5.86" height="4.74" fill="#1a55d8"/><rect x="734.92" y="510.96" width="5.86" height="4.74" fill="#1a55d8"/><rect x="354.02" y="515.70" width="5.86" height="4.74" fill="#3333aa"/><rect x="688.04" y="515.70" width="5.86" height="4.74" fill="#3333aa"/><rect x="693.90" y="515.70" width="5.86" height="4.74" fill="#3333aa"/><rect x="699.76" y="515.70" width="5.86" height="4.74" fill="#1478e0"/><rect x="705.62" y="515.70" width="5.86" height="4.74" fill="#1a55d8"/><rect x="711.48" y="515.70" width="5.86" height="4.74" fill="#1a55d8"/><rect x="717.34" y="515.70" width="5.86" height="4.74" fill="#1a55d8"/><rect x="723.20" y="515.70" width="5.86" height="4.74" fill="#3333aa"/><rect x="652.88" y="520.44" width="5.86" height="4.74" fill="#3333aa"/><rect x="682.18" y="520.44" width="5.86" height="4.74" fill="#3333aa"/><rect x="688.04" y="520.44" width="5.86" height="4.74" fill="#3333aa"/><rect x="693.90" y="520.44" width="5.86" height="4.74" fill="#1a55d8"/><rect x="699.76" y="520.44" width="5.86" height="4.74" fill="#3333aa"/><rect x="711.48" y="520.44" width="5.86" height="4.74" fill="#3333aa"/><rect x="717.34" y="520.44" width="5.86" height="4.74" fill="#3333aa"/><rect x="389.18" y="525.18" width="5.86" height="4.74" fill="#3333aa"/><rect x="688.04" y="525.18" width="5.86" height="4.74" fill="#3333aa"/><rect x="693.90" y="525.18" width="5.86" height="4.74" fill="#1a55d8"/><rect x="705.62" y="525.18" width="5.86" height="4.74" fill="#3333aa"/><rect x="711.48" y="525.18" width="5.86" height="4.74" fill="#1a55d8"/><rect x="723.20" y="525.18" width="5.86" height="4.74" fill="#3333aa"/><rect x="260.26" y="529.92" width="5.86" height="4.74" fill="#3333aa"/><rect x="553.26" y="529.92" width="5.86" height="4.74" fill="#3333aa"/><rect x="682.18" y="529.92" width="5.86" height="4.74" fill="#3333aa"/><rect x="693.90" y="529.92" width="5.86" height="4.74" fill="#1a55d8"/><rect x="705.62" y="529.92" width="5.86" height="4.74" fill="#3333aa"/><rect x="740.78" y="529.92" width="2.62" height="4.74" fill="#3333aa"/><rect x="629.44" y="534.66" width="5.86" height="4.74" fill="#3333aa"/><rect x="670.46" y="534.66" width="5.86" height="4.74" fill="#3333aa"/><rect x="693.90" y="534.66" width="5.86" height="4.74" fill="#3333aa"/><rect x="699.76" y="534.66" width="5.86" height="4.74" fill="#3333aa"/><rect x="711.48" y="534.66" width="5.86" height="4.74" fill="#3333aa"/><rect x="717.34" y="534.66" width="5.86" height="4.74" fill="#3333aa"/><rect x="723.20" y="534.66" width="5.86" height="4.74" fill="#3333aa"/><rect x="729.06" y="534.66" width="5.86" height="4.74" fill="#3333aa"/><rect x="740.78" y="534.66" width="2.62" height="4.74" fill="#3333aa"/><rect x="512.24" y="539.40" width="5.86" height="4.74" fill="#3333aa"/><rect x="670.46" y="539.40" width="5.86" height="4.74" fill="#3333aa"/><rect x="711.48" y="539.40" width="5.86" height="4.74" fill="#3333aa"/><rect x="717.34" y="539.40" width="5.86" height="4.74" fill="#3333aa"/><rect x="400.90" y="544.14" width="5.86" height="4.74" fill="#3333aa"/><rect x="711.48" y="544.14" width="5.86" height="4.74" fill="#3333aa"/><rect x="658.74" y="548.88" width="5.86" height="4.74" fill="#3333aa"/><rect x="688.04" y="548.88" width="5.86" height="4.74" fill="#3333aa"/><rect x="699.76" y="548.88" width="5.86" height="4.74" fill="#3333aa"/><rect x="201.66" y="553.62" width="5.86" height="4.74" fill="#3333aa"/><rect x="688.04" y="553.62" width="5.86" height="4.74" fill="#3333aa"/><rect x="693.90" y="553.62" width="5.86" height="4.74" fill="#3333aa"/><rect x="729.06" y="553.62" width="5.86" height="4.74" fill="#3333aa"/><rect x="652.88" y="558.36" width="5.86" height="4.74" fill="#3333aa"/><rect x="688.04" y="558.36" width="5.86" height="4.74" fill="#3333aa"/><rect x="711.48" y="558.36" width="5.86" height="4.74" fill="#1478e0"/><rect x="729.06" y="558.36" width="5.86" height="4.74" fill="#3333aa"/><rect x="740.78" y="558.36" width="2.62" height="4.74" fill="#3333aa"/><rect x="705.62" y="563.10" width="5.86" height="4.74" fill="#3333aa"/><rect x="740.78" y="563.10" width="2.62" height="4.74" fill="#3333aa"/><rect x="717.34" y="567.84" width="5.86" height="4.74" fill="#3333aa"/><rect x="717.34" y="582.06" width="5.86" height="4.74" fill="#3333aa"/><rect x="682.18" y="586.80" width="5.86" height="4.74" fill="#3333aa"/><rect x="688.04" y="591.54" width="5.86" height="4.74" fill="#3333aa"/><rect x="1014.23" y="62.80" width="5.69" height="6.77" fill="#3333aa"/><rect x="1048.36" y="62.80" width="5.69" height="6.77" fill="#3333aa"/><rect x="1145.06" y="62.80" width="5.69" height="6.77" fill="#3333aa"/><rect x="974.42" y="69.57" width="5.69" height="6.77" fill="#3333aa"/><rect x="980.10" y="69.57" width="5.69" height="6.77" fill="#3333aa"/><rect x="1150.74" y="69.57" width="5.69" height="6.77" fill="#3333aa"/><rect x="1156.43" y="69.57" width="5.69" height="6.77" fill="#3333aa"/><rect x="1173.50" y="69.57" width="5.69" height="6.77" fill="#3333aa"/><rect x="968.73" y="76.34" width="5.69" height="6.77" fill="#3333aa"/><rect x="985.79" y="76.34" width="5.69" height="6.77" fill="#1a55d8"/><rect x="997.17" y="76.34" width="5.69" height="6.77" fill="#3333aa"/><rect x="1025.61" y="76.34" width="5.69" height="6.77" fill="#1a55d8"/><rect x="1139.37" y="76.34" width="5.69" height="6.77" fill="#3333aa"/><rect x="940.29" y="83.11" width="5.69" height="6.77" fill="#3333aa"/><rect x="945.98" y="83.11" width="5.69" height="6.77" fill="#3333aa"/><rect x="951.66" y="83.11" width="5.69" height="6.77" fill="#1478e0"/><rect x="957.35" y="83.11" width="5.69" height="6.77" fill="#1a55d8"/><rect x="963.04" y="83.11" width="5.69" height="6.77" fill="#1478e0"/><rect x="968.73" y="83.11" width="5.69" height="6.77" fill="#1a55d8"/><rect x="974.42" y="83.11" width="5.69" height="6.77" fill="#3333aa"/><rect x="985.79" y="83.11" width="5.69" height="6.77" fill="#3333aa"/><rect x="1014.23" y="83.11" width="5.69" height="6.77" fill="#3333aa"/><rect x="940.29" y="89.88" width="5.69" height="6.77" fill="#1478e0"/><rect x="951.66" y="89.88" width="5.69" height="6.77" fill="#1a55d8"/><rect x="957.35" y="89.88" width="5.69" height="6.77" fill="#1478e0"/><rect x="963.04" y="89.88" width="5.69" height="6.77" fill="#1a55d8"/><rect x="968.73" y="89.88" width="5.69" height="6.77" fill="#0f9ed0"/><rect x="980.10" y="89.88" width="5.69" height="6.77" fill="#1a55d8"/><rect x="985.79" y="89.88" width="5.69" height="6.77" fill="#3333aa"/><rect x="1219.00" y="89.88" width="5.69" height="6.77" fill="#3333aa"/><rect x="940.29" y="96.65" width="5.69" height="6.77" fill="#0f9ed0"/><rect x="945.98" y="96.65" width="5.69" height="6.77" fill="#0f9ed0"/><rect x="951.66" y="96.65" width="5.69" height="6.77" fill="#1fb3b5"/><rect x="957.35" y="96.65" width="5.69" height="6.77" fill="#1478e0"/><rect x="963.04" y="96.65" width="5.69" height="6.77" fill="#1478e0"/><rect x="968.73" y="96.65" width="5.69" height="6.77" fill="#1fb3b5"/><rect x="974.42" y="96.65" width="5.69" height="6.77" fill="#3333aa"/><rect x="980.10" y="96.65" width="5.69" height="6.77" fill="#0f9ed0"/><rect x="985.79" y="96.65" width="5.69" height="6.77" fill="#3333aa"/><rect x="991.48" y="96.65" width="5.69" height="6.77" fill="#1a55d8"/><rect x="1019.92" y="96.65" width="5.69" height="6.77" fill="#3333aa"/><rect x="1088.18" y="96.65" width="5.69" height="6.77" fill="#3333aa"/><rect x="1099.55" y="96.65" width="5.69" height="6.77" fill="#3333aa"/><rect x="1116.62" y="96.65" width="5.69" height="6.77" fill="#3333aa"/><rect x="934.60" y="103.42" width="5.69" height="6.77" fill="#3333aa"/><rect x="940.29" y="103.42" width="5.69" height="6.77" fill="#1fb3b5"/><rect x="945.98" y="103.42" width="5.69" height="6.77" fill="#0f9ed0"/><rect x="951.66" y="103.42" width="5.69" height="6.77" fill="#1478e0"/><rect x="957.35" y="103.42" width="5.69" height="6.77" fill="#1a55d8"/><rect x="963.04" y="103.42" width="5.69" height="6.77" fill="#0f9ed0"/><rect x="968.73" y="103.42" width="5.69" height="6.77" fill="#1478e0"/><rect x="974.42" y="103.42" width="5.69" height="6.77" fill="#0f9ed0"/><rect x="980.10" y="103.42" width="5.69" height="6.77" fill="#1478e0"/><rect x="985.79" y="103.42" width="5.69" height="6.77" fill="#1fb3b5"/><rect x="991.48" y="103.42" width="5.69" height="6.77" fill="#1a55d8"/><rect x="997.17" y="103.42" width="5.69" height="6.77" fill="#3333aa"/><rect x="1002.86" y="103.42" width="5.69" height="6.77" fill="#3333aa"/><rect x="1008.54" y="103.42" width="5.69" height="6.77" fill="#3333aa"/><rect x="1116.62" y="103.42" width="5.69" height="6.77" fill="#3333aa"/><rect x="1133.68" y="103.42" width="5.69" height="6.77" fill="#3333aa"/><rect x="1219.00" y="103.42" width="5.69" height="6.77" fill="#3333aa"/><rect x="934.60" y="110.19" width="5.69" height="6.77" fill="#0f9ed0"/><rect x="940.29" y="110.19" width="5.69" height="6.77" fill="#1fb3b5"/><rect x="945.98" y="110.19" width="5.69" height="6.77" fill="#3333aa"/><rect x="951.66" y="110.19" width="5.69" height="6.77" fill="#1478e0"/><rect x="957.35" y="110.19" width="5.69" height="6.77" fill="#1478e0"/><rect x="963.04" y="110.19" width="5.69" height="6.77" fill="#0f9ed0"/><rect x="968.73" y="110.19" width="5.69" height="6.77" fill="#5dbd8c"/><rect x="974.42" y="110.19" width="5.69" height="6.77" fill="#e8b84c"/><rect x="980.10" y="110.19" width="5.69" height="6.77" fill="#a8bd68"/><rect x="985.79" y="110.19" width="5.69" height="6.77" fill="#5dbd8c"/><rect x="991.48" y="110.19" width="5.69" height="6.77" fill="#1fb3b5"/><rect x="997.17" y="110.19" width="5.69" height="6.77" fill="#1478e0"/><rect x="1002.86" y="110.19" width="5.69" height="6.77" fill="#3333aa"/><rect x="1014.23" y="110.19" width="5.69" height="6.77" fill="#3333aa"/><rect x="1036.98" y="110.19" width="5.69" height="6.77" fill="#3333aa"/><rect x="1065.42" y="110.19" width="5.69" height="6.77" fill="#3333aa"/><rect x="1105.24" y="110.19" width="5.69" height="6.77" fill="#3333aa"/><rect x="1122.30" y="110.19" width="5.69" height="6.77" fill="#1a55d8"/><rect x="934.60" y="116.96" width="5.69" height="6.77" fill="#1478e0"/><rect x="940.29" y="116.96" width="5.69" height="6.77" fill="#3333aa"/><rect x="951.66" y="116.96" width="5.69" height="6.77" fill="#3333aa"/><rect x="957.35" y="116.96" width="5.69" height="6.77" fill="#1a55d8"/><rect x="963.04" y="116.96" width="5.69" height="6.77" fill="#1478e0"/><rect x="968.73" y="116.96" width="5.69" height="6.77" fill="#1478e0"/><rect x="974.42" y="116.96" width="5.69" height="6.77" fill="#f9f90e"/><rect x="980.10" y="116.96" width="5.69" height="6.77" fill="#e8b84c"/><rect x="985.79" y="116.96" width="5.69" height="6.77" fill="#1fb3b5"/><rect x="991.48" y="116.96" width="5.69" height="6.77" fill="#1a55d8"/><rect x="997.17" y="116.96" width="5.69" height="6.77" fill="#0f9ed0"/><rect x="1002.86" y="116.96" width="5.69" height="6.77" fill="#0f9ed0"/><rect x="1008.54" y="116.96" width="5.69" height="6.77" fill="#1478e0"/><rect x="1014.23" y="116.96" width="5.69" height="6.77" fill="#1a55d8"/><rect x="1019.92" y="116.96" width="5.69" height="6.77" fill="#1a55d8"/><rect x="1025.61" y="116.96" width="5.69" height="6.77" fill="#3333aa"/><rect x="1133.68" y="116.96" width="5.69" height="6.77" fill="#3333aa"/><rect x="968.73" y="123.73" width="5.69" height="6.77" fill="#1fb3b5"/><rect x="974.42" y="123.73" width="5.69" height="6.77" fill="#5dbd8c"/><rect x="980.10" y="123.73" width="5.69" height="6.77" fill="#1a55d8"/><rect x="985.79" y="123.73" width="5.69" height="6.77" fill="#3333aa"/><rect x="991.48" y="123.73" width="5.69" height="6.77" fill="#1478e0"/><rect x="997.17" y="123.73" width="5.69" height="6.77" fill="#1a55d8"/><rect x="1002.86" y="123.73" width="5.69" height="6.77" fill="#1fb3b5"/><rect x="1008.54" y="123.73" width="5.69" height="6.77" fill="#0f9ed0"/><rect x="1014.23" y="123.73" width="5.69" height="6.77" fill="#5dbd8c"/><rect x="1025.61" y="123.73" width="5.69" height="6.77" fill="#1478e0"/><rect x="1031.30" y="123.73" width="5.69" height="6.77" fill="#1a55d8"/><rect x="1036.98" y="123.73" width="5.69" height="6.77" fill="#1a55d8"/><rect x="1054.05" y="123.73" width="5.69" height="6.77" fill="#3333aa"/><rect x="1088.18" y="123.73" width="5.69" height="6.77" fill="#1a55d8"/><rect x="1099.55" y="123.73" width="5.69" height="6.77" fill="#1a55d8"/><rect x="951.66" y="130.50" width="5.69" height="6.77" fill="#3333aa"/><rect x="968.73" y="130.50" width="5.69" height="6.77" fill="#3333aa"/><rect x="974.42" y="130.50" width="5.69" height="6.77" fill="#1a55d8"/><rect x="980.10" y="130.50" width="5.69" height="6.77" fill="#3333aa"/><rect x="985.79" y="130.50" width="5.69" height="6.77" fill="#3333aa"/><rect x="997.17" y="130.50" width="5.69" height="6.77" fill="#1a55d8"/><rect x="1002.86" y="130.50" width="5.69" height="6.77" fill="#1478e0"/><rect x="1008.54" y="130.50" width="5.69" height="6.77" fill="#e8b84c"/><rect x="1014.23" y="130.50" width="5.69" height="6.77" fill="#a8bd68"/><rect x="1019.92" y="130.50" width="5.69" height="6.77" fill="#1fb3b5"/><rect x="1025.61" y="130.50" width="5.69" height="6.77" fill="#1fb3b5"/><rect x="1031.30" y="130.50" width="5.69" height="6.77" fill="#0f9ed0"/><rect x="1036.98" y="130.50" width="5.69" height="6.77" fill="#0f9ed0"/><rect x="1042.67" y="130.50" width="5.69" height="6.77" fill="#1a55d8"/><rect x="1048.36" y="130.50" width="5.69" height="6.77" fill="#3333aa"/><rect x="1054.05" y="130.50" width="5.69" height="6.77" fill="#3333aa"/><rect x="1076.80" y="130.50" width="5.69" height="6.77" fill="#3333aa"/><rect x="1110.93" y="130.50" width="5.69" height="6.77" fill="#3333aa"/><rect x="1116.62" y="130.50" width="5.69" height="6.77" fill="#3333aa"/><rect x="1122.30" y="130.50" width="5.69" height="6.77" fill="#3333aa"/><rect x="980.10" y="137.27" width="5.69" height="6.77" fill="#1478e0"/><rect x="997.17" y="137.27" width="5.69" height="6.77" fill="#3333aa"/><rect x="1002.86" y="137.27" width="5.69" height="6.77" fill="#1478e0"/><rect x="1008.54" y="137.27" width="5.69" height="6.77" fill="#0f9ed0"/><rect x="1014.23" y="137.27" width="5.69" height="6.77" fill="#1fb3b5"/><rect x="1019.92" y="137.27" width="5.69" height="6.77" fill="#1fb3b5"/><rect x="1025.61" y="137.27" width="5.69" height="6.77" fill="#1fb3b5"/><rect x="1031.30" y="137.27" width="5.69" height="6.77" fill="#e8b84c"/><rect x="1036.98" y="137.27" width="5.69" height="6.77" fill="#0f9ed0"/><rect x="1042.67" y="137.27" width="5.69" height="6.77" fill="#0f9ed0"/><rect x="1048.36" y="137.27" width="5.69" height="6.77" fill="#3333aa"/><rect x="1054.05" y="137.27" width="5.69" height="6.77" fill="#1a55d8"/><rect x="1071.11" y="137.27" width="5.69" height="6.77" fill="#1a55d8"/><rect x="1076.80" y="137.27" width="5.69" height="6.77" fill="#3333aa"/><rect x="1099.55" y="137.27" width="5.69" height="6.77" fill="#3333aa"/><rect x="1139.37" y="137.27" width="5.69" height="6.77" fill="#3333aa"/><rect x="1150.74" y="137.27" width="5.69" height="6.77" fill="#3333aa"/><rect x="1162.12" y="137.27" width="5.69" height="6.77" fill="#3333aa"/><rect x="985.79" y="144.04" width="5.69" height="6.77" fill="#3333aa"/><rect x="1008.54" y="144.04" width="5.69" height="6.77" fill="#1a55d8"/><rect x="1014.23" y="144.04" width="5.69" height="6.77" fill="#3333aa"/><rect x="1019.92" y="144.04" width="5.69" height="6.77" fill="#1478e0"/><rect x="1025.61" y="144.04" width="5.69" height="6.77" fill="#5dbd8c"/><rect x="1031.30" y="144.04" width="5.69" height="6.77" fill="#5dbd8c"/><rect x="1036.98" y="144.04" width="5.69" height="6.77" fill="#a8bd68"/><rect x="1042.67" y="144.04" width="5.69" height="6.77" fill="#1fb3b5"/><rect x="1048.36" y="144.04" width="5.69" height="6.77" fill="#1478e0"/><rect x="1054.05" y="144.04" width="5.69" height="6.77" fill="#1a55d8"/><rect x="1059.74" y="144.04" width="5.69" height="6.77" fill="#1a55d8"/><rect x="1065.42" y="144.04" width="5.69" height="6.77" fill="#1478e0"/><rect x="1076.80" y="144.04" width="5.69" height="6.77" fill="#3333aa"/><rect x="1088.18" y="144.04" width="5.69" height="6.77" fill="#3333aa"/><rect x="1372.58" y="144.04" width="5.69" height="6.77" fill="#3333aa"/><rect x="997.17" y="150.81" width="5.69" height="6.77" fill="#3333aa"/><rect x="1002.86" y="150.81" width="5.69" height="6.77" fill="#3333aa"/><rect x="1008.54" y="150.81" width="5.69" height="6.77" fill="#1478e0"/><rect x="1014.23" y="150.81" width="5.69" height="6.77" fill="#1478e0"/><rect x="1019.92" y="150.81" width="5.69" height="6.77" fill="#1478e0"/><rect x="1025.61" y="150.81" width="5.69" height="6.77" fill="#0f9ed0"/><rect x="1031.30" y="150.81" width="5.69" height="6.77" fill="#1478e0"/><rect x="1036.98" y="150.81" width="5.69" height="6.77" fill="#a8bd68"/><rect x="1042.67" y="150.81" width="5.69" height="6.77" fill="#0f9ed0"/><rect x="1048.36" y="150.81" width="5.69" height="6.77" fill="#1fb3b5"/><rect x="1054.05" y="150.81" width="5.69" height="6.77" fill="#0f9ed0"/><rect x="1059.74" y="150.81" width="5.69" height="6.77" fill="#1a55d8"/><rect x="1071.11" y="150.81" width="5.69" height="6.77" fill="#3333aa"/><rect x="1008.54" y="157.58" width="5.69" height="6.77" fill="#3333aa"/><rect x="1014.23" y="157.58" width="5.69" height="6.77" fill="#1a55d8"/><rect x="1019.92" y="157.58" width="5.69" height="6.77" fill="#1a55d8"/><rect x="1025.61" y="157.58" width="5.69" height="6.77" fill="#1478e0"/><rect x="1031.30" y="157.58" width="5.69" height="6.77" fill="#1a55d8"/><rect x="1036.98" y="157.58" width="5.69" height="6.77" fill="#1478e0"/><rect x="1042.67" y="157.58" width="5.69" height="6.77" fill="#0f9ed0"/><rect x="1048.36" y="157.58" width="5.69" height="6.77" fill="#5dbd8c"/><rect x="1054.05" y="157.58" width="5.69" height="6.77" fill="#0f9ed0"/><rect x="1059.74" y="157.58" width="5.69" height="6.77" fill="#1478e0"/><rect x="1065.42" y="157.58" width="5.69" height="6.77" fill="#1a55d8"/><rect x="1071.11" y="157.58" width="5.69" height="6.77" fill="#1a55d8"/><rect x="1076.80" y="157.58" width="5.69" height="6.77" fill="#3333aa"/><rect x="1133.68" y="157.58" width="5.69" height="6.77" fill="#3333aa"/><rect x="1008.54" y="164.35" width="5.69" height="6.77" fill="#3333aa"/><rect x="1014.23" y="164.35" width="5.69" height="6.77" fill="#3333aa"/><rect x="1019.92" y="164.35" width="5.69" height="6.77" fill="#3333aa"/><rect x="1025.61" y="164.35" width="5.69" height="6.77" fill="#1478e0"/><rect x="1036.98" y="164.35" width="5.69" height="6.77" fill="#0f9ed0"/><rect x="1042.67" y="164.35" width="5.69" height="6.77" fill="#1478e0"/><rect x="1048.36" y="164.35" width="5.69" height="6.77" fill="#0f9ed0"/><rect x="1054.05" y="164.35" width="5.69" height="6.77" fill="#1a55d8"/><rect x="1059.74" y="164.35" width="5.69" height="6.77" fill="#1a55d8"/><rect x="1071.11" y="164.35" width="5.69" height="6.77" fill="#3333aa"/><rect x="1076.80" y="164.35" width="5.69" height="6.77" fill="#3333aa"/><rect x="1082.49" y="164.35" width="5.69" height="6.77" fill="#3333aa"/><rect x="1088.18" y="164.35" width="5.69" height="6.77" fill="#3333aa"/><rect x="1156.43" y="164.35" width="5.69" height="6.77" fill="#3333aa"/><rect x="1190.56" y="164.35" width="5.69" height="6.77" fill="#3333aa"/><rect x="1435.14" y="164.35" width="5.69" height="6.77" fill="#3333aa"/><rect x="1014.23" y="171.12" width="5.69" height="6.77" fill="#3333aa"/><rect x="1019.92" y="171.12" width="5.69" height="6.77" fill="#1a55d8"/><rect x="1031.30" y="171.12" width="5.69" height="6.77" fill="#1a55d8"/><rect x="1042.67" y="171.12" width="5.69" height="6.77" fill="#1478e0"/><rect x="1048.36" y="171.12" width="5.69" height="6.77" fill="#0f9ed0"/><rect x="1054.05" y="171.12" width="5.69" height="6.77" fill="#3333aa"/><rect x="1059.74" y="171.12" width="5.69" height="6.77" fill="#0f9ed0"/><rect x="1076.80" y="171.12" width="5.69" height="6.77" fill="#1a55d8"/><rect x="1082.49" y="171.12" width="5.69" height="6.77" fill="#3333aa"/><rect x="1093.86" y="171.12" width="5.69" height="6.77" fill="#3333aa"/><rect x="1099.55" y="171.12" width="5.69" height="6.77" fill="#3333aa"/><rect x="1162.12" y="171.12" width="5.69" height="6.77" fill="#3333aa"/><rect x="945.98" y="177.89" width="5.69" height="6.77" fill="#3333aa"/><rect x="1031.30" y="177.89" width="5.69" height="6.77" fill="#1478e0"/><rect x="1036.98" y="177.89" width="5.69" height="6.77" fill="#1a55d8"/><rect x="1042.67" y="177.89" width="5.69" height="6.77" fill="#1a55d8"/><rect x="1048.36" y="177.89" width="5.69" height="6.77" fill="#3333aa"/><rect x="1054.05" y="177.89" width="5.69" height="6.77" fill="#3333aa"/><rect x="1059.74" y="177.89" width="5.69" height="6.77" fill="#1a55d8"/><rect x="1065.42" y="177.89" width="5.69" height="6.77" fill="#3333aa"/><rect x="1071.11" y="177.89" width="5.69" height="6.77" fill="#3333aa"/><rect x="1076.80" y="177.89" width="5.69" height="6.77" fill="#3333aa"/><rect x="1088.18" y="177.89" width="5.69" height="6.77" fill="#1478e0"/><rect x="1099.55" y="177.89" width="5.69" height="6.77" fill="#3333aa"/><rect x="1110.93" y="177.89" width="5.69" height="6.77" fill="#3333aa"/><rect x="1122.30" y="177.89" width="5.69" height="6.77" fill="#3333aa"/><rect x="1036.98" y="184.66" width="5.69" height="6.77" fill="#1a55d8"/><rect x="1048.36" y="184.66" width="5.69" height="6.77" fill="#0f9ed0"/><rect x="1054.05" y="184.66" width="5.69" height="6.77" fill="#1478e0"/><rect x="1065.42" y="184.66" width="5.69" height="6.77" fill="#3333aa"/><rect x="1076.80" y="184.66" width="5.69" height="6.77" fill="#3333aa"/><rect x="1082.49" y="184.66" width="5.69" height="6.77" fill="#1a55d8"/><rect x="1099.55" y="184.66" width="5.69" height="6.77" fill="#3333aa"/><rect x="1105.24" y="184.66" width="5.69" height="6.77" fill="#1a55d8"/><rect x="1122.30" y="184.66" width="5.69" height="6.77" fill="#3333aa"/><rect x="1127.99" y="184.66" width="5.69" height="6.77" fill="#1a55d8"/><rect x="1156.43" y="184.66" width="5.69" height="6.77" fill="#3333aa"/><rect x="1179.18" y="184.66" width="5.69" height="6.77" fill="#3333aa"/><rect x="1355.51" y="184.66" width="5.69" height="6.77" fill="#3333aa"/><rect x="1048.36" y="191.43" width="5.69" height="6.77" fill="#1a55d8"/><rect x="1059.74" y="191.43" width="5.69" height="6.77" fill="#1a55d8"/><rect x="1076.80" y="191.43" width="5.69" height="6.77" fill="#1a55d8"/><rect x="1082.49" y="191.43" width="5.69" height="6.77" fill="#3333aa"/><rect x="1088.18" y="191.43" width="5.69" height="6.77" fill="#3333aa"/><rect x="1093.86" y="191.43" width="5.69" height="6.77" fill="#3333aa"/><rect x="1105.24" y="191.43" width="5.69" height="6.77" fill="#1a55d8"/><rect x="1110.93" y="191.43" width="5.69" height="6.77" fill="#3333aa"/><rect x="1116.62" y="191.43" width="5.69" height="6.77" fill="#3333aa"/><rect x="1139.37" y="191.43" width="5.69" height="6.77" fill="#3333aa"/><rect x="1145.06" y="191.43" width="5.69" height="6.77" fill="#3333aa"/><rect x="1201.94" y="191.43" width="5.69" height="6.77" fill="#3333aa"/><rect x="1315.70" y="191.43" width="5.69" height="6.77" fill="#3333aa"/><rect x="1054.05" y="198.20" width="5.69" height="6.77" fill="#3333aa"/><rect x="1065.42" y="198.20" width="5.69" height="6.77" fill="#3333aa"/><rect x="1088.18" y="198.20" width="5.69" height="6.77" fill="#1478e0"/><rect x="1093.86" y="198.20" width="5.69" height="6.77" fill="#1a55d8"/><rect x="1099.55" y="198.20" width="5.69" height="6.77" fill="#3333aa"/><rect x="1110.93" y="198.20" width="5.69" height="6.77" fill="#1a55d8"/><rect x="1116.62" y="198.20" width="5.69" height="6.77" fill="#3333aa"/><rect x="1122.30" y="198.20" width="5.69" height="6.77" fill="#1a55d8"/><rect x="1133.68" y="198.20" width="5.69" height="6.77" fill="#3333aa"/><rect x="1139.37" y="198.20" width="5.69" height="6.77" fill="#1478e0"/><rect x="1145.06" y="198.20" width="5.69" height="6.77" fill="#1478e0"/><rect x="1156.43" y="198.20" width="5.69" height="6.77" fill="#1a55d8"/><rect x="1162.12" y="198.20" width="5.69" height="6.77" fill="#3333aa"/><rect x="1190.56" y="198.20" width="5.69" height="6.77" fill="#3333aa"/><rect x="1196.25" y="198.20" width="5.69" height="6.77" fill="#3333aa"/><rect x="1446.52" y="198.20" width="5.69" height="6.77" fill="#3333aa"/><rect x="1082.49" y="204.97" width="5.69" height="6.77" fill="#3333aa"/><rect x="1099.55" y="204.97" width="5.69" height="6.77" fill="#1a55d8"/><rect x="1105.24" y="204.97" width="5.69" height="6.77" fill="#0f9ed0"/><rect x="1110.93" y="204.97" width="5.69" height="6.77" fill="#0f9ed0"/><rect x="1116.62" y="204.97" width="5.69" height="6.77" fill="#1478e0"/><rect x="1133.68" y="204.97" width="5.69" height="6.77" fill="#1478e0"/><rect x="1139.37" y="204.97" width="5.69" height="6.77" fill="#5dbd8c"/><rect x="1145.06" y="204.97" width="5.69" height="6.77" fill="#0f9ed0"/><rect x="1150.74" y="204.97" width="5.69" height="6.77" fill="#0f9ed0"/><rect x="1156.43" y="204.97" width="5.69" height="6.77" fill="#0f9ed0"/><rect x="1162.12" y="204.97" width="5.69" height="6.77" fill="#1478e0"/><rect x="1167.81" y="204.97" width="5.69" height="6.77" fill="#1478e0"/><rect x="1173.50" y="204.97" width="5.69" height="6.77" fill="#3333aa"/><rect x="1213.31" y="204.97" width="5.69" height="6.77" fill="#3333aa"/><rect x="1253.13" y="204.97" width="5.69" height="6.77" fill="#3333aa"/><rect x="1082.49" y="211.74" width="5.69" height="6.77" fill="#1a55d8"/><rect x="1088.18" y="211.74" width="5.69" height="6.77" fill="#1a55d8"/><rect x="1093.86" y="211.74" width="5.69" height="6.77" fill="#1a55d8"/><rect x="1105.24" y="211.74" width="5.69" height="6.77" fill="#1a55d8"/><rect x="1110.93" y="211.74" width="5.69" height="6.77" fill="#1478e0"/><rect x="1116.62" y="211.74" width="5.69" height="6.77" fill="#0f9ed0"/><rect x="1122.30" y="211.74" width="5.69" height="6.77" fill="#0f9ed0"/><rect x="1127.99" y="211.74" width="5.69" height="6.77" fill="#1478e0"/><rect x="1133.68" y="211.74" width="5.69" height="6.77" fill="#0f9ed0"/><rect x="1139.37" y="211.74" width="5.69" height="6.77" fill="#1478e0"/><rect x="1145.06" y="211.74" width="5.69" height="6.77" fill="#0f9ed0"/><rect x="1150.74" y="211.74" width="5.69" height="6.77" fill="#5dbd8c"/><rect x="1156.43" y="211.74" width="5.69" height="6.77" fill="#0f9ed0"/><rect x="1162.12" y="211.74" width="5.69" height="6.77" fill="#1478e0"/><rect x="1173.50" y="211.74" width="5.69" height="6.77" fill="#3333aa"/><rect x="1179.18" y="211.74" width="5.69" height="6.77" fill="#3333aa"/><rect x="1190.56" y="211.74" width="5.69" height="6.77" fill="#3333aa"/><rect x="1213.31" y="211.74" width="5.69" height="6.77" fill="#3333aa"/><rect x="1224.69" y="211.74" width="5.69" height="6.77" fill="#3333aa"/><rect x="1071.11" y="218.51" width="5.69" height="6.77" fill="#3333aa"/><rect x="1093.86" y="218.51" width="5.69" height="6.77" fill="#1a55d8"/><rect x="1099.55" y="218.51" width="5.69" height="6.77" fill="#3333aa"/><rect x="1110.93" y="218.51" width="5.69" height="6.77" fill="#0f9ed0"/><rect x="1116.62" y="218.51" width="5.69" height="6.77" fill="#3333aa"/><rect x="1122.30" y="218.51" width="5.69" height="6.77" fill="#3333aa"/><rect x="1127.99" y="218.51" width="5.69" height="6.77" fill="#1a55d8"/><rect x="1139.37" y="218.51" width="5.69" height="6.77" fill="#3333aa"/><rect x="1145.06" y="218.51" width="5.69" height="6.77" fill="#1a55d8"/><rect x="1150.74" y="218.51" width="5.69" height="6.77" fill="#1478e0"/><rect x="1156.43" y="218.51" width="5.69" height="6.77" fill="#0f9ed0"/><rect x="1162.12" y="218.51" width="5.69" height="6.77" fill="#1478e0"/><rect x="1167.81" y="218.51" width="5.69" height="6.77" fill="#0f9ed0"/><rect x="1179.18" y="218.51" width="5.69" height="6.77" fill="#1a55d8"/><rect x="1219.00" y="218.51" width="5.69" height="6.77" fill="#3333aa"/><rect x="1224.69" y="218.51" width="5.69" height="6.77" fill="#1a55d8"/><rect x="1241.75" y="218.51" width="5.69" height="6.77" fill="#1a55d8"/><rect x="1275.88" y="218.51" width="5.69" height="6.77" fill="#3333aa"/><rect x="1076.80" y="225.28" width="5.69" height="6.77" fill="#3333aa"/><rect x="1082.49" y="225.28" width="5.69" height="6.77" fill="#3333aa"/><rect x="1099.55" y="225.28" width="5.69" height="6.77" fill="#1a55d8"/><rect x="1105.24" y="225.28" width="5.69" height="6.77" fill="#3333aa"/><rect x="1110.93" y="225.28" width="5.69" height="6.77" fill="#3333aa"/><rect x="1116.62" y="225.28" width="5.69" height="6.77" fill="#3333aa"/><rect x="1122.30" y="225.28" width="5.69" height="6.77" fill="#0f9ed0"/><rect x="1127.99" y="225.28" width="5.69" height="6.77" fill="#1478e0"/><rect x="1133.68" y="225.28" width="5.69" height="6.77" fill="#3333aa"/><rect x="1139.37" y="225.28" width="5.69" height="6.77" fill="#3333aa"/><rect x="1145.06" y="225.28" width="5.69" height="6.77" fill="#3333aa"/><rect x="1150.74" y="225.28" width="5.69" height="6.77" fill="#1478e0"/><rect x="1156.43" y="225.28" width="5.69" height="6.77" fill="#0f9ed0"/><rect x="1162.12" y="225.28" width="5.69" height="6.77" fill="#1a55d8"/><rect x="1167.81" y="225.28" width="5.69" height="6.77" fill="#1478e0"/><rect x="1179.18" y="225.28" width="5.69" height="6.77" fill="#0f9ed0"/><rect x="1184.87" y="225.28" width="5.69" height="6.77" fill="#3333aa"/><rect x="1190.56" y="225.28" width="5.69" height="6.77" fill="#3333aa"/><rect x="1219.00" y="225.28" width="5.69" height="6.77" fill="#3333aa"/><rect x="1088.18" y="232.05" width="5.69" height="6.77" fill="#1a55d8"/><rect x="1099.55" y="232.05" width="5.69" height="6.77" fill="#3333aa"/><rect x="1105.24" y="232.05" width="5.69" height="6.77" fill="#3333aa"/><rect x="1110.93" y="232.05" width="5.69" height="6.77" fill="#1478e0"/><rect x="1116.62" y="232.05" width="5.69" height="6.77" fill="#1a55d8"/><rect x="1122.30" y="232.05" width="5.69" height="6.77" fill="#3333aa"/><rect x="1127.99" y="232.05" width="5.69" height="6.77" fill="#0f9ed0"/><rect x="1133.68" y="232.05" width="5.69" height="6.77" fill="#1a55d8"/><rect x="1139.37" y="232.05" width="5.69" height="6.77" fill="#1a55d8"/><rect x="1145.06" y="232.05" width="5.69" height="6.77" fill="#3333aa"/><rect x="1150.74" y="232.05" width="5.69" height="6.77" fill="#0f9ed0"/><rect x="1156.43" y="232.05" width="5.69" height="6.77" fill="#0f9ed0"/><rect x="1162.12" y="232.05" width="5.69" height="6.77" fill="#1478e0"/><rect x="1167.81" y="232.05" width="5.69" height="6.77" fill="#3333aa"/><rect x="1173.50" y="232.05" width="5.69" height="6.77" fill="#1a55d8"/><rect x="1179.18" y="232.05" width="5.69" height="6.77" fill="#0f9ed0"/><rect x="1184.87" y="232.05" width="5.69" height="6.77" fill="#1a55d8"/><rect x="1190.56" y="232.05" width="5.69" height="6.77" fill="#3333aa"/><rect x="1196.25" y="232.05" width="5.69" height="6.77" fill="#3333aa"/><rect x="1236.06" y="232.05" width="5.69" height="6.77" fill="#3333aa"/><rect x="1002.86" y="238.82" width="5.69" height="6.77" fill="#3333aa"/><rect x="1059.74" y="238.82" width="5.69" height="6.77" fill="#3333aa"/><rect x="1076.80" y="238.82" width="5.69" height="6.77" fill="#3333aa"/><rect x="1110.93" y="238.82" width="5.69" height="6.77" fill="#3333aa"/><rect x="1116.62" y="238.82" width="5.69" height="6.77" fill="#1478e0"/><rect x="1122.30" y="238.82" width="5.69" height="6.77" fill="#3333aa"/><rect x="1127.99" y="238.82" width="5.69" height="6.77" fill="#3333aa"/><rect x="1133.68" y="238.82" width="5.69" height="6.77" fill="#3333aa"/><rect x="1139.37" y="238.82" width="5.69" height="6.77" fill="#1478e0"/><rect x="1145.06" y="238.82" width="5.69" height="6.77" fill="#3333aa"/><rect x="1150.74" y="238.82" width="5.69" height="6.77" fill="#0f9ed0"/><rect x="1156.43" y="238.82" width="5.69" height="6.77" fill="#1a55d8"/><rect x="1162.12" y="238.82" width="5.69" height="6.77" fill="#1a55d8"/><rect x="1167.81" y="238.82" width="5.69" height="6.77" fill="#3333aa"/><rect x="1173.50" y="238.82" width="5.69" height="6.77" fill="#1fb3b5"/><rect x="1179.18" y="238.82" width="5.69" height="6.77" fill="#1478e0"/><rect x="1184.87" y="238.82" width="5.69" height="6.77" fill="#1a55d8"/><rect x="1196.25" y="238.82" width="5.69" height="6.77" fill="#1a55d8"/><rect x="1025.61" y="245.59" width="5.69" height="6.77" fill="#3333aa"/><rect x="1116.62" y="245.59" width="5.69" height="6.77" fill="#3333aa"/><rect x="1139.37" y="245.59" width="5.69" height="6.77" fill="#3333aa"/><rect x="1145.06" y="245.59" width="5.69" height="6.77" fill="#1a55d8"/><rect x="1150.74" y="245.59" width="5.69" height="6.77" fill="#1478e0"/><rect x="1162.12" y="245.59" width="5.69" height="6.77" fill="#3333aa"/><rect x="1167.81" y="245.59" width="5.69" height="6.77" fill="#1a55d8"/><rect x="1173.50" y="245.59" width="5.69" height="6.77" fill="#0f9ed0"/><rect x="1179.18" y="245.59" width="5.69" height="6.77" fill="#0f9ed0"/><rect x="1184.87" y="245.59" width="5.69" height="6.77" fill="#1a55d8"/><rect x="1190.56" y="245.59" width="5.69" height="6.77" fill="#1a55d8"/><rect x="1201.94" y="245.59" width="5.69" height="6.77" fill="#3333aa"/><rect x="1207.62" y="245.59" width="5.69" height="6.77" fill="#3333aa"/><rect x="1054.05" y="252.36" width="5.69" height="6.77" fill="#3333aa"/><rect x="1088.18" y="252.36" width="5.69" height="6.77" fill="#3333aa"/><rect x="1122.30" y="252.36" width="5.69" height="6.77" fill="#3333aa"/><rect x="1127.99" y="252.36" width="5.69" height="6.77" fill="#3333aa"/><rect x="1133.68" y="252.36" width="5.69" height="6.77" fill="#1a55d8"/><rect x="1145.06" y="252.36" width="5.69" height="6.77" fill="#3333aa"/><rect x="1150.74" y="252.36" width="5.69" height="6.77" fill="#3333aa"/><rect x="1156.43" y="252.36" width="5.69" height="6.77" fill="#1478e0"/><rect x="1162.12" y="252.36" width="5.69" height="6.77" fill="#1478e0"/><rect x="1167.81" y="252.36" width="5.69" height="6.77" fill="#1a55d8"/><rect x="1173.50" y="252.36" width="5.69" height="6.77" fill="#1a55d8"/><rect x="1190.56" y="252.36" width="5.69" height="6.77" fill="#1a55d8"/><rect x="1196.25" y="252.36" width="5.69" height="6.77" fill="#3333aa"/><rect x="1042.67" y="259.13" width="5.69" height="6.77" fill="#3333aa"/><rect x="1133.68" y="259.13" width="5.69" height="6.77" fill="#3333aa"/><rect x="1150.74" y="259.13" width="5.69" height="6.77" fill="#1a55d8"/><rect x="1156.43" y="259.13" width="5.69" height="6.77" fill="#3333aa"/><rect x="1162.12" y="259.13" width="5.69" height="6.77" fill="#3333aa"/><rect x="1167.81" y="259.13" width="5.69" height="6.77" fill="#3333aa"/><rect x="1173.50" y="259.13" width="5.69" height="6.77" fill="#3333aa"/><rect x="1179.18" y="259.13" width="5.69" height="6.77" fill="#1a55d8"/><rect x="1184.87" y="259.13" width="5.69" height="6.77" fill="#1a55d8"/><rect x="1190.56" y="259.13" width="5.69" height="6.77" fill="#1478e0"/><rect x="1196.25" y="259.13" width="5.69" height="6.77" fill="#1478e0"/><rect x="1201.94" y="259.13" width="5.69" height="6.77" fill="#3333aa"/><rect x="1213.31" y="259.13" width="5.69" height="6.77" fill="#3333aa"/><rect x="1219.00" y="259.13" width="5.69" height="6.77" fill="#1a55d8"/><rect x="1224.69" y="259.13" width="5.69" height="6.77" fill="#3333aa"/><rect x="1292.94" y="259.13" width="5.69" height="6.77" fill="#3333aa"/><rect x="1065.42" y="265.90" width="5.69" height="6.77" fill="#3333aa"/><rect x="1122.30" y="265.90" width="5.69" height="6.77" fill="#3333aa"/><rect x="1127.99" y="265.90" width="5.69" height="6.77" fill="#3333aa"/><rect x="1133.68" y="265.90" width="5.69" height="6.77" fill="#3333aa"/><rect x="1139.37" y="265.90" width="5.69" height="6.77" fill="#3333aa"/><rect x="1150.74" y="265.90" width="5.69" height="6.77" fill="#3333aa"/><rect x="1156.43" y="265.90" width="5.69" height="6.77" fill="#1a55d8"/><rect x="1162.12" y="265.90" width="5.69" height="6.77" fill="#3333aa"/><rect x="1173.50" y="265.90" width="5.69" height="6.77" fill="#3333aa"/><rect x="1179.18" y="265.90" width="5.69" height="6.77" fill="#3333aa"/><rect x="1184.87" y="265.90" width="5.69" height="6.77" fill="#0f9ed0"/><rect x="1190.56" y="265.90" width="5.69" height="6.77" fill="#1a55d8"/><rect x="1201.94" y="265.90" width="5.69" height="6.77" fill="#3333aa"/><rect x="1213.31" y="265.90" width="5.69" height="6.77" fill="#3333aa"/><rect x="1258.82" y="265.90" width="5.69" height="6.77" fill="#3333aa"/><rect x="951.66" y="272.67" width="5.69" height="6.77" fill="#3333aa"/><rect x="1042.67" y="272.67" width="5.69" height="6.77" fill="#3333aa"/><rect x="1076.80" y="272.67" width="5.69" height="6.77" fill="#3333aa"/><rect x="1105.24" y="272.67" width="5.69" height="6.77" fill="#1a55d8"/><rect x="1122.30" y="272.67" width="5.69" height="6.77" fill="#3333aa"/><rect x="1150.74" y="272.67" width="5.69" height="6.77" fill="#3333aa"/><rect x="1173.50" y="272.67" width="5.69" height="6.77" fill="#1a55d8"/><rect x="1196.25" y="272.67" width="5.69" height="6.77" fill="#1a55d8"/><rect x="1201.94" y="272.67" width="5.69" height="6.77" fill="#0f9ed0"/><rect x="1207.62" y="272.67" width="5.69" height="6.77" fill="#1478e0"/><rect x="1219.00" y="272.67" width="5.69" height="6.77" fill="#1478e0"/><rect x="1253.13" y="272.67" width="5.69" height="6.77" fill="#3333aa"/><rect x="1258.82" y="272.67" width="5.69" height="6.77" fill="#3333aa"/><rect x="945.98" y="279.44" width="5.69" height="6.77" fill="#3333aa"/><rect x="997.17" y="279.44" width="5.69" height="6.77" fill="#3333aa"/><rect x="1145.06" y="279.44" width="5.69" height="6.77" fill="#3333aa"/><rect x="1167.81" y="279.44" width="5.69" height="6.77" fill="#1a55d8"/><rect x="1173.50" y="279.44" width="5.69" height="6.77" fill="#1478e0"/><rect x="1179.18" y="279.44" width="5.69" height="6.77" fill="#1a55d8"/><rect x="1184.87" y="279.44" width="5.69" height="6.77" fill="#1478e0"/><rect x="1190.56" y="279.44" width="5.69" height="6.77" fill="#3333aa"/><rect x="1201.94" y="279.44" width="5.69" height="6.77" fill="#1478e0"/><rect x="1207.62" y="279.44" width="5.69" height="6.77" fill="#0f9ed0"/><rect x="1213.31" y="279.44" width="5.69" height="6.77" fill="#1478e0"/><rect x="1224.69" y="279.44" width="5.69" height="6.77" fill="#1a55d8"/><rect x="1247.44" y="279.44" width="5.69" height="6.77" fill="#3333aa"/><rect x="1258.82" y="279.44" width="5.69" height="6.77" fill="#3333aa"/><rect x="1139.37" y="286.21" width="5.69" height="6.77" fill="#3333aa"/><rect x="1150.74" y="286.21" width="5.69" height="6.77" fill="#3333aa"/><rect x="1167.81" y="286.21" width="5.69" height="6.77" fill="#3333aa"/><rect x="1173.50" y="286.21" width="5.69" height="6.77" fill="#3333aa"/><rect x="1179.18" y="286.21" width="5.69" height="6.77" fill="#1a55d8"/><rect x="1190.56" y="286.21" width="5.69" height="6.77" fill="#1478e0"/><rect x="1196.25" y="286.21" width="5.69" height="6.77" fill="#3333aa"/><rect x="1201.94" y="286.21" width="5.69" height="6.77" fill="#1478e0"/><rect x="1207.62" y="286.21" width="5.69" height="6.77" fill="#0f9ed0"/><rect x="1213.31" y="286.21" width="5.69" height="6.77" fill="#1a55d8"/><rect x="1219.00" y="286.21" width="5.69" height="6.77" fill="#0f9ed0"/><rect x="1224.69" y="286.21" width="5.69" height="6.77" fill="#0f9ed0"/><rect x="1236.06" y="286.21" width="5.69" height="6.77" fill="#3333aa"/><rect x="1253.13" y="286.21" width="5.69" height="6.77" fill="#3333aa"/><rect x="1287.26" y="286.21" width="5.69" height="6.77" fill="#3333aa"/><rect x="1019.92" y="292.98" width="5.69" height="6.77" fill="#3333aa"/><rect x="1059.74" y="292.98" width="5.69" height="6.77" fill="#3333aa"/><rect x="1122.30" y="292.98" width="5.69" height="6.77" fill="#3333aa"/><rect x="1150.74" y="292.98" width="5.69" height="6.77" fill="#3333aa"/><rect x="1201.94" y="292.98" width="5.69" height="6.77" fill="#1478e0"/><rect x="1207.62" y="292.98" width="5.69" height="6.77" fill="#0f9ed0"/><rect x="1213.31" y="292.98" width="5.69" height="6.77" fill="#3333aa"/><rect x="1219.00" y="292.98" width="5.69" height="6.77" fill="#3333aa"/><rect x="1224.69" y="292.98" width="5.69" height="6.77" fill="#1a55d8"/><rect x="1230.38" y="292.98" width="5.69" height="6.77" fill="#1a55d8"/><rect x="1236.06" y="292.98" width="5.69" height="6.77" fill="#3333aa"/><rect x="1241.75" y="292.98" width="5.69" height="6.77" fill="#0f9ed0"/><rect x="1253.13" y="292.98" width="5.69" height="6.77" fill="#1a55d8"/><rect x="1059.74" y="299.75" width="5.69" height="6.77" fill="#3333aa"/><rect x="1167.81" y="299.75" width="5.69" height="6.77" fill="#3333aa"/><rect x="1196.25" y="299.75" width="5.69" height="6.77" fill="#1478e0"/><rect x="1201.94" y="299.75" width="5.69" height="6.77" fill="#3333aa"/><rect x="1207.62" y="299.75" width="5.69" height="6.77" fill="#1478e0"/><rect x="1213.31" y="299.75" width="5.69" height="6.77" fill="#0f9ed0"/><rect x="1219.00" y="299.75" width="5.69" height="6.77" fill="#1a55d8"/><rect x="1224.69" y="299.75" width="5.69" height="6.77" fill="#3333aa"/><rect x="1236.06" y="299.75" width="5.69" height="6.77" fill="#0f9ed0"/><rect x="1241.75" y="299.75" width="5.69" height="6.77" fill="#1478e0"/><rect x="1253.13" y="299.75" width="5.69" height="6.77" fill="#0f9ed0"/><rect x="1275.88" y="299.75" width="5.69" height="6.77" fill="#3333aa"/><rect x="1281.57" y="299.75" width="5.69" height="6.77" fill="#3333aa"/><rect x="1287.26" y="299.75" width="5.69" height="6.77" fill="#3333aa"/><rect x="1093.86" y="306.52" width="5.69" height="6.77" fill="#3333aa"/><rect x="1145.06" y="306.52" width="5.69" height="6.77" fill="#3333aa"/><rect x="1150.74" y="306.52" width="5.69" height="6.77" fill="#3333aa"/><rect x="1162.12" y="306.52" width="5.69" height="6.77" fill="#3333aa"/><rect x="1196.25" y="306.52" width="5.69" height="6.77" fill="#3333aa"/><rect x="1201.94" y="306.52" width="5.69" height="6.77" fill="#3333aa"/><rect x="1213.31" y="306.52" width="5.69" height="6.77" fill="#3333aa"/><rect x="1219.00" y="306.52" width="5.69" height="6.77" fill="#3333aa"/><rect x="1224.69" y="306.52" width="5.69" height="6.77" fill="#1478e0"/><rect x="1236.06" y="306.52" width="5.69" height="6.77" fill="#3333aa"/><rect x="1241.75" y="306.52" width="5.69" height="6.77" fill="#1a55d8"/><rect x="1247.44" y="306.52" width="5.69" height="6.77" fill="#1a55d8"/><rect x="1253.13" y="306.52" width="5.69" height="6.77" fill="#1a55d8"/><rect x="1258.82" y="306.52" width="5.69" height="6.77" fill="#1478e0"/><rect x="1264.50" y="306.52" width="5.69" height="6.77" fill="#3333aa"/><rect x="1270.19" y="306.52" width="5.69" height="6.77" fill="#3333aa"/><rect x="991.48" y="313.29" width="5.69" height="6.77" fill="#3333aa"/><rect x="1031.30" y="313.29" width="5.69" height="6.77" fill="#3333aa"/><rect x="1162.12" y="313.29" width="5.69" height="6.77" fill="#3333aa"/><rect x="1184.87" y="313.29" width="5.69" height="6.77" fill="#3333aa"/><rect x="1201.94" y="313.29" width="5.69" height="6.77" fill="#3333aa"/><rect x="1213.31" y="313.29" width="5.69" height="6.77" fill="#3333aa"/><rect x="1219.00" y="313.29" width="5.69" height="6.77" fill="#3333aa"/><rect x="1224.69" y="313.29" width="5.69" height="6.77" fill="#3333aa"/><rect x="1230.38" y="313.29" width="5.69" height="6.77" fill="#1a55d8"/><rect x="1236.06" y="313.29" width="5.69" height="6.77" fill="#1478e0"/><rect x="1241.75" y="313.29" width="5.69" height="6.77" fill="#1a55d8"/><rect x="1253.13" y="313.29" width="5.69" height="6.77" fill="#1a55d8"/><rect x="1258.82" y="313.29" width="5.69" height="6.77" fill="#0f9ed0"/><rect x="1264.50" y="313.29" width="5.69" height="6.77" fill="#3333aa"/><rect x="1270.19" y="313.29" width="5.69" height="6.77" fill="#3333aa"/><rect x="1287.26" y="313.29" width="5.69" height="6.77" fill="#3333aa"/><rect x="1298.63" y="313.29" width="5.69" height="6.77" fill="#3333aa"/><rect x="1071.11" y="320.06" width="5.69" height="6.77" fill="#3333aa"/><rect x="1116.62" y="320.06" width="5.69" height="6.77" fill="#3333aa"/><rect x="1236.06" y="320.06" width="5.69" height="6.77" fill="#1a55d8"/><rect x="1241.75" y="320.06" width="5.69" height="6.77" fill="#1478e0"/><rect x="1247.44" y="320.06" width="5.69" height="6.77" fill="#1478e0"/><rect x="1253.13" y="320.06" width="5.69" height="6.77" fill="#0f9ed0"/><rect x="1258.82" y="320.06" width="5.69" height="6.77" fill="#1a55d8"/><rect x="1264.50" y="320.06" width="5.69" height="6.77" fill="#1a55d8"/><rect x="1275.88" y="320.06" width="5.69" height="6.77" fill="#0f9ed0"/><rect x="1292.94" y="320.06" width="5.69" height="6.77" fill="#3333aa"/><rect x="1088.18" y="326.83" width="5.69" height="6.77" fill="#3333aa"/><rect x="1230.38" y="326.83" width="5.69" height="6.77" fill="#3333aa"/><rect x="1236.06" y="326.83" width="5.69" height="6.77" fill="#0f9ed0"/><rect x="1241.75" y="326.83" width="5.69" height="6.77" fill="#0f9ed0"/><rect x="1247.44" y="326.83" width="5.69" height="6.77" fill="#3333aa"/><rect x="1253.13" y="326.83" width="5.69" height="6.77" fill="#0f9ed0"/><rect x="1258.82" y="326.83" width="5.69" height="6.77" fill="#0f9ed0"/><rect x="1264.50" y="326.83" width="5.69" height="6.77" fill="#1478e0"/><rect x="1270.19" y="326.83" width="5.69" height="6.77" fill="#1478e0"/><rect x="1275.88" y="326.83" width="5.69" height="6.77" fill="#1a55d8"/><rect x="1298.63" y="326.83" width="5.69" height="6.77" fill="#3333aa"/><rect x="1008.54" y="333.60" width="5.69" height="6.77" fill="#3333aa"/><rect x="1201.94" y="333.60" width="5.69" height="6.77" fill="#3333aa"/><rect x="1224.69" y="333.60" width="5.69" height="6.77" fill="#3333aa"/><rect x="1230.38" y="333.60" width="5.69" height="6.77" fill="#1a55d8"/><rect x="1236.06" y="333.60" width="5.69" height="6.77" fill="#0f9ed0"/><rect x="1241.75" y="333.60" width="5.69" height="6.77" fill="#3333aa"/><rect x="1253.13" y="333.60" width="5.69" height="6.77" fill="#3333aa"/><rect x="1258.82" y="333.60" width="5.69" height="6.77" fill="#1478e0"/><rect x="1264.50" y="333.60" width="5.69" height="6.77" fill="#0f9ed0"/><rect x="1270.19" y="333.60" width="5.69" height="6.77" fill="#1a55d8"/><rect x="1275.88" y="333.60" width="5.69" height="6.77" fill="#1478e0"/><rect x="1281.57" y="333.60" width="5.69" height="6.77" fill="#1a55d8"/><rect x="1287.26" y="333.60" width="5.69" height="6.77" fill="#1a55d8"/><rect x="1315.70" y="333.60" width="5.69" height="6.77" fill="#3333aa"/><rect x="1332.76" y="333.60" width="5.69" height="6.77" fill="#3333aa"/><rect x="1201.94" y="340.37" width="5.69" height="6.77" fill="#3333aa"/><rect x="1230.38" y="340.37" width="5.69" height="6.77" fill="#3333aa"/><rect x="1236.06" y="340.37" width="5.69" height="6.77" fill="#3333aa"/><rect x="1247.44" y="340.37" width="5.69" height="6.77" fill="#3333aa"/><rect x="1253.13" y="340.37" width="5.69" height="6.77" fill="#1a55d8"/><rect x="1258.82" y="340.37" width="5.69" height="6.77" fill="#1478e0"/><rect x="1264.50" y="340.37" width="5.69" height="6.77" fill="#0f9ed0"/><rect x="1270.19" y="340.37" width="5.69" height="6.77" fill="#1fb3b5"/><rect x="1275.88" y="340.37" width="5.69" height="6.77" fill="#1a55d8"/><rect x="1281.57" y="340.37" width="5.69" height="6.77" fill="#1478e0"/><rect x="1287.26" y="340.37" width="5.69" height="6.77" fill="#1a55d8"/><rect x="1292.94" y="340.37" width="5.69" height="6.77" fill="#1a55d8"/><rect x="1298.63" y="340.37" width="5.69" height="6.77" fill="#3333aa"/><rect x="1304.32" y="340.37" width="5.69" height="6.77" fill="#1a55d8"/><rect x="1002.86" y="347.14" width="5.69" height="6.77" fill="#3333aa"/><rect x="1241.75" y="347.14" width="5.69" height="6.77" fill="#3333aa"/><rect x="1247.44" y="347.14" width="5.69" height="6.77" fill="#3333aa"/><rect x="1253.13" y="347.14" width="5.69" height="6.77" fill="#3333aa"/><rect x="1258.82" y="347.14" width="5.69" height="6.77" fill="#1478e0"/><rect x="1264.50" y="347.14" width="5.69" height="6.77" fill="#1478e0"/><rect x="1270.19" y="347.14" width="5.69" height="6.77" fill="#1478e0"/><rect x="1275.88" y="347.14" width="5.69" height="6.77" fill="#1fb3b5"/><rect x="1281.57" y="347.14" width="5.69" height="6.77" fill="#0f9ed0"/><rect x="1287.26" y="347.14" width="5.69" height="6.77" fill="#1478e0"/><rect x="1292.94" y="347.14" width="5.69" height="6.77" fill="#1478e0"/><rect x="1304.32" y="347.14" width="5.69" height="6.77" fill="#1a55d8"/><rect x="1247.44" y="353.91" width="5.69" height="6.77" fill="#3333aa"/><rect x="1253.13" y="353.91" width="5.69" height="6.77" fill="#3333aa"/><rect x="1258.82" y="353.91" width="5.69" height="6.77" fill="#1a55d8"/><rect x="1264.50" y="353.91" width="5.69" height="6.77" fill="#1a55d8"/><rect x="1270.19" y="353.91" width="5.69" height="6.77" fill="#3333aa"/><rect x="1275.88" y="353.91" width="5.69" height="6.77" fill="#0f9ed0"/><rect x="1281.57" y="353.91" width="5.69" height="6.77" fill="#1478e0"/><rect x="1287.26" y="353.91" width="5.69" height="6.77" fill="#3333aa"/><rect x="1298.63" y="353.91" width="5.69" height="6.77" fill="#1478e0"/><rect x="1304.32" y="353.91" width="5.69" height="6.77" fill="#3333aa"/><rect x="1310.01" y="353.91" width="5.69" height="6.77" fill="#1a55d8"/><rect x="1327.07" y="353.91" width="5.69" height="6.77" fill="#1478e0"/><rect x="1389.64" y="353.91" width="5.69" height="6.77" fill="#3333aa"/><rect x="1264.50" y="360.68" width="5.69" height="6.77" fill="#3333aa"/><rect x="1270.19" y="360.68" width="5.69" height="6.77" fill="#3333aa"/><rect x="1275.88" y="360.68" width="5.69" height="6.77" fill="#0f9ed0"/><rect x="1281.57" y="360.68" width="5.69" height="6.77" fill="#0f9ed0"/><rect x="1287.26" y="360.68" width="5.69" height="6.77" fill="#1478e0"/><rect x="1292.94" y="360.68" width="5.69" height="6.77" fill="#1fb3b5"/><rect x="1298.63" y="360.68" width="5.69" height="6.77" fill="#1478e0"/><rect x="1310.01" y="360.68" width="5.69" height="6.77" fill="#1a55d8"/><rect x="1315.70" y="360.68" width="5.69" height="6.77" fill="#1478e0"/><rect x="1321.38" y="360.68" width="5.69" height="6.77" fill="#3333aa"/><rect x="1327.07" y="360.68" width="5.69" height="6.77" fill="#3333aa"/><rect x="1332.76" y="360.68" width="5.69" height="6.77" fill="#3333aa"/><rect x="1338.45" y="360.68" width="5.69" height="6.77" fill="#3333aa"/><rect x="1014.23" y="367.45" width="5.69" height="6.77" fill="#3333aa"/><rect x="1275.88" y="367.45" width="5.69" height="6.77" fill="#3333aa"/><rect x="1281.57" y="367.45" width="5.69" height="6.77" fill="#1478e0"/><rect x="1287.26" y="367.45" width="5.69" height="6.77" fill="#1a55d8"/><rect x="1292.94" y="367.45" width="5.69" height="6.77" fill="#0f9ed0"/><rect x="1298.63" y="367.45" width="5.69" height="6.77" fill="#1a55d8"/><rect x="1304.32" y="367.45" width="5.69" height="6.77" fill="#1478e0"/><rect x="1310.01" y="367.45" width="5.69" height="6.77" fill="#1a55d8"/><rect x="1315.70" y="367.45" width="5.69" height="6.77" fill="#3333aa"/><rect x="1321.38" y="367.45" width="5.69" height="6.77" fill="#3333aa"/><rect x="1327.07" y="367.45" width="5.69" height="6.77" fill="#1a55d8"/><rect x="1332.76" y="367.45" width="5.69" height="6.77" fill="#3333aa"/><rect x="1338.45" y="367.45" width="5.69" height="6.77" fill="#3333aa"/><rect x="1344.14" y="367.45" width="5.69" height="6.77" fill="#3333aa"/><rect x="1366.89" y="367.45" width="5.69" height="6.77" fill="#3333aa"/><rect x="957.35" y="374.22" width="5.69" height="6.77" fill="#3333aa"/><rect x="1287.26" y="374.22" width="5.69" height="6.77" fill="#1478e0"/><rect x="1292.94" y="374.22" width="5.69" height="6.77" fill="#0f9ed0"/><rect x="1298.63" y="374.22" width="5.69" height="6.77" fill="#1fb3b5"/><rect x="1304.32" y="374.22" width="5.69" height="6.77" fill="#1a55d8"/><rect x="1310.01" y="374.22" width="5.69" height="6.77" fill="#1478e0"/><rect x="1315.70" y="374.22" width="5.69" height="6.77" fill="#1a55d8"/><rect x="1321.38" y="374.22" width="5.69" height="6.77" fill="#1a55d8"/><rect x="1332.76" y="374.22" width="5.69" height="6.77" fill="#3333aa"/><rect x="1338.45" y="374.22" width="5.69" height="6.77" fill="#3333aa"/><rect x="1344.14" y="374.22" width="5.69" height="6.77" fill="#3333aa"/><rect x="1349.82" y="374.22" width="5.69" height="6.77" fill="#1a55d8"/><rect x="1378.26" y="374.22" width="5.69" height="6.77" fill="#3333aa"/><rect x="1423.77" y="374.22" width="5.69" height="6.77" fill="#3333aa"/><rect x="1014.23" y="380.99" width="5.69" height="6.77" fill="#3333aa"/><rect x="1275.88" y="380.99" width="5.69" height="6.77" fill="#3333aa"/><rect x="1287.26" y="380.99" width="5.69" height="6.77" fill="#3333aa"/><rect x="1298.63" y="380.99" width="5.69" height="6.77" fill="#0f9ed0"/><rect x="1304.32" y="380.99" width="5.69" height="6.77" fill="#0f9ed0"/><rect x="1310.01" y="380.99" width="5.69" height="6.77" fill="#1a55d8"/><rect x="1315.70" y="380.99" width="5.69" height="6.77" fill="#0f9ed0"/><rect x="1321.38" y="380.99" width="5.69" height="6.77" fill="#1478e0"/><rect x="1327.07" y="380.99" width="5.69" height="6.77" fill="#3333aa"/><rect x="1332.76" y="380.99" width="5.69" height="6.77" fill="#0f9ed0"/><rect x="1338.45" y="380.99" width="5.69" height="6.77" fill="#3333aa"/><rect x="1344.14" y="380.99" width="5.69" height="6.77" fill="#3333aa"/><rect x="1349.82" y="380.99" width="5.69" height="6.77" fill="#3333aa"/><rect x="1355.51" y="380.99" width="5.69" height="6.77" fill="#1a55d8"/><rect x="963.04" y="387.76" width="5.69" height="6.77" fill="#3333aa"/><rect x="1298.63" y="387.76" width="5.69" height="6.77" fill="#3333aa"/><rect x="1304.32" y="387.76" width="5.69" height="6.77" fill="#1a55d8"/><rect x="1310.01" y="387.76" width="5.69" height="6.77" fill="#1fb3b5"/><rect x="1315.70" y="387.76" width="5.69" height="6.77" fill="#1a55d8"/><rect x="1321.38" y="387.76" width="5.69" height="6.77" fill="#1478e0"/><rect x="1327.07" y="387.76" width="5.69" height="6.77" fill="#1478e0"/><rect x="1332.76" y="387.76" width="5.69" height="6.77" fill="#0f9ed0"/><rect x="1338.45" y="387.76" width="5.69" height="6.77" fill="#1478e0"/><rect x="1344.14" y="387.76" width="5.69" height="6.77" fill="#1a55d8"/><rect x="1349.82" y="387.76" width="5.69" height="6.77" fill="#1a55d8"/><rect x="1361.20" y="387.76" width="5.69" height="6.77" fill="#1a55d8"/><rect x="1298.63" y="394.53" width="5.69" height="6.77" fill="#1a55d8"/><rect x="1304.32" y="394.53" width="5.69" height="6.77" fill="#3333aa"/><rect x="1310.01" y="394.53" width="5.69" height="6.77" fill="#1a55d8"/><rect x="1315.70" y="394.53" width="5.69" height="6.77" fill="#1478e0"/><rect x="1321.38" y="394.53" width="5.69" height="6.77" fill="#1fb3b5"/><rect x="1327.07" y="394.53" width="5.69" height="6.77" fill="#0f9ed0"/><rect x="1332.76" y="394.53" width="5.69" height="6.77" fill="#1478e0"/><rect x="1338.45" y="394.53" width="5.69" height="6.77" fill="#3333aa"/><rect x="1344.14" y="394.53" width="5.69" height="6.77" fill="#3333aa"/><rect x="1349.82" y="394.53" width="5.69" height="6.77" fill="#3333aa"/><rect x="1361.20" y="394.53" width="5.69" height="6.77" fill="#3333aa"/><rect x="1366.89" y="394.53" width="5.69" height="6.77" fill="#3333aa"/><rect x="1372.58" y="394.53" width="5.69" height="6.77" fill="#3333aa"/><rect x="1378.26" y="394.53" width="5.69" height="6.77" fill="#3333aa"/><rect x="934.60" y="401.30" width="5.69" height="6.77" fill="#3333aa"/><rect x="957.35" y="401.30" width="5.69" height="6.77" fill="#3333aa"/><rect x="1213.31" y="401.30" width="5.69" height="6.77" fill="#3333aa"/><rect x="1304.32" y="401.30" width="5.69" height="6.77" fill="#3333aa"/><rect x="1310.01" y="401.30" width="5.69" height="6.77" fill="#1a55d8"/><rect x="1315.70" y="401.30" width="5.69" height="6.77" fill="#1478e0"/><rect x="1321.38" y="401.30" width="5.69" height="6.77" fill="#0f9ed0"/><rect x="1327.07" y="401.30" width="5.69" height="6.77" fill="#1478e0"/><rect x="1332.76" y="401.30" width="5.69" height="6.77" fill="#1fb3b5"/><rect x="1338.45" y="401.30" width="5.69" height="6.77" fill="#1478e0"/><rect x="1344.14" y="401.30" width="5.69" height="6.77" fill="#1478e0"/><rect x="1361.20" y="401.30" width="5.69" height="6.77" fill="#1a55d8"/><rect x="1366.89" y="401.30" width="5.69" height="6.77" fill="#3333aa"/><rect x="1383.95" y="401.30" width="5.69" height="6.77" fill="#3333aa"/><rect x="1310.01" y="408.07" width="5.69" height="6.77" fill="#1a55d8"/><rect x="1315.70" y="408.07" width="5.69" height="6.77" fill="#1a55d8"/><rect x="1321.38" y="408.07" width="5.69" height="6.77" fill="#1478e0"/><rect x="1327.07" y="408.07" width="5.69" height="6.77" fill="#1478e0"/><rect x="1332.76" y="408.07" width="5.69" height="6.77" fill="#0f9ed0"/><rect x="1338.45" y="408.07" width="5.69" height="6.77" fill="#1fb3b5"/><rect x="1344.14" y="408.07" width="5.69" height="6.77" fill="#0f9ed0"/><rect x="1349.82" y="408.07" width="5.69" height="6.77" fill="#3333aa"/><rect x="1355.51" y="408.07" width="5.69" height="6.77" fill="#1a55d8"/><rect x="1361.20" y="408.07" width="5.69" height="6.77" fill="#1a55d8"/><rect x="1366.89" y="408.07" width="5.69" height="6.77" fill="#3333aa"/><rect x="1372.58" y="408.07" width="5.69" height="6.77" fill="#3333aa"/><rect x="1378.26" y="408.07" width="5.69" height="6.77" fill="#3333aa"/><rect x="1389.64" y="408.07" width="5.69" height="6.77" fill="#3333aa"/><rect x="1298.63" y="414.84" width="5.69" height="6.77" fill="#3333aa"/><rect x="1327.07" y="414.84" width="5.69" height="6.77" fill="#1478e0"/><rect x="1332.76" y="414.84" width="5.69" height="6.77" fill="#1a55d8"/><rect x="1338.45" y="414.84" width="5.69" height="6.77" fill="#1fb3b5"/><rect x="1344.14" y="414.84" width="5.69" height="6.77" fill="#1478e0"/><rect x="1349.82" y="414.84" width="5.69" height="6.77" fill="#0f9ed0"/><rect x="1355.51" y="414.84" width="5.69" height="6.77" fill="#1478e0"/><rect x="1361.20" y="414.84" width="5.69" height="6.77" fill="#1a55d8"/><rect x="1366.89" y="414.84" width="5.69" height="6.77" fill="#0f9ed0"/><rect x="1372.58" y="414.84" width="5.69" height="6.77" fill="#1478e0"/><rect x="1378.26" y="414.84" width="5.69" height="6.77" fill="#1478e0"/><rect x="1287.26" y="421.61" width="5.69" height="6.77" fill="#3333aa"/><rect x="1332.76" y="421.61" width="5.69" height="6.77" fill="#1478e0"/><rect x="1338.45" y="421.61" width="5.69" height="6.77" fill="#3333aa"/><rect x="1344.14" y="421.61" width="5.69" height="6.77" fill="#0f9ed0"/><rect x="1349.82" y="421.61" width="5.69" height="6.77" fill="#0f9ed0"/><rect x="1355.51" y="421.61" width="5.69" height="6.77" fill="#0f9ed0"/><rect x="1361.20" y="421.61" width="5.69" height="6.77" fill="#0f9ed0"/><rect x="1366.89" y="421.61" width="5.69" height="6.77" fill="#1478e0"/><rect x="1372.58" y="421.61" width="5.69" height="6.77" fill="#1478e0"/><rect x="1378.26" y="421.61" width="5.69" height="6.77" fill="#0f9ed0"/><rect x="1383.95" y="421.61" width="5.69" height="6.77" fill="#3333aa"/><rect x="1389.64" y="421.61" width="5.69" height="6.77" fill="#1a55d8"/><rect x="1395.33" y="421.61" width="5.69" height="6.77" fill="#1a55d8"/><rect x="1412.39" y="421.61" width="5.69" height="6.77" fill="#3333aa"/><rect x="1418.08" y="421.61" width="5.69" height="6.77" fill="#3333aa"/><rect x="1435.14" y="421.61" width="5.69" height="6.77" fill="#3333aa"/><rect x="1304.32" y="428.38" width="5.69" height="6.77" fill="#3333aa"/><rect x="1332.76" y="428.38" width="5.69" height="6.77" fill="#3333aa"/><rect x="1344.14" y="428.38" width="5.69" height="6.77" fill="#3333aa"/><rect x="1349.82" y="428.38" width="5.69" height="6.77" fill="#1478e0"/><rect x="1355.51" y="428.38" width="5.69" height="6.77" fill="#1fb3b5"/><rect x="1361.20" y="428.38" width="5.69" height="6.77" fill="#0f9ed0"/><rect x="1366.89" y="428.38" width="5.69" height="6.77" fill="#1fb3b5"/><rect x="1372.58" y="428.38" width="5.69" height="6.77" fill="#1478e0"/><rect x="1378.26" y="428.38" width="5.69" height="6.77" fill="#1478e0"/><rect x="1383.95" y="428.38" width="5.69" height="6.77" fill="#0f9ed0"/><rect x="1389.64" y="428.38" width="5.69" height="6.77" fill="#1a55d8"/><rect x="1401.02" y="428.38" width="5.69" height="6.77" fill="#3333aa"/><rect x="1440.83" y="428.38" width="5.69" height="6.77" fill="#3333aa"/><rect x="1457.90" y="428.38" width="5.69" height="6.77" fill="#3333aa"/><rect x="1332.76" y="435.15" width="5.69" height="6.77" fill="#3333aa"/><rect x="1338.45" y="435.15" width="5.69" height="6.77" fill="#3333aa"/><rect x="1344.14" y="435.15" width="5.69" height="6.77" fill="#1a55d8"/><rect x="1349.82" y="435.15" width="5.69" height="6.77" fill="#1478e0"/><rect x="1355.51" y="435.15" width="5.69" height="6.77" fill="#0f9ed0"/><rect x="1361.20" y="435.15" width="5.69" height="6.77" fill="#a8bd68"/><rect x="1366.89" y="435.15" width="5.69" height="6.77" fill="#0f9ed0"/><rect x="1372.58" y="435.15" width="5.69" height="6.77" fill="#1478e0"/><rect x="1378.26" y="435.15" width="5.69" height="6.77" fill="#5dbd8c"/><rect x="1383.95" y="435.15" width="5.69" height="6.77" fill="#0f9ed0"/><rect x="1389.64" y="435.15" width="5.69" height="6.77" fill="#0f9ed0"/><rect x="1401.02" y="435.15" width="5.69" height="6.77" fill="#3333aa"/><rect x="1406.70" y="435.15" width="5.69" height="6.77" fill="#3333aa"/><rect x="1412.39" y="435.15" width="5.69" height="6.77" fill="#3333aa"/><rect x="1429.46" y="435.15" width="5.69" height="6.77" fill="#1a55d8"/><rect x="1446.52" y="435.15" width="5.69" height="6.77" fill="#3333aa"/><rect x="1298.63" y="441.92" width="5.69" height="6.77" fill="#3333aa"/><rect x="1310.01" y="441.92" width="5.69" height="6.77" fill="#3333aa"/><rect x="1327.07" y="441.92" width="5.69" height="6.77" fill="#3333aa"/><rect x="1338.45" y="441.92" width="5.69" height="6.77" fill="#3333aa"/><rect x="1344.14" y="441.92" width="5.69" height="6.77" fill="#3333aa"/><rect x="1349.82" y="441.92" width="5.69" height="6.77" fill="#0f9ed0"/><rect x="1355.51" y="441.92" width="5.69" height="6.77" fill="#0f9ed0"/><rect x="1361.20" y="441.92" width="5.69" height="6.77" fill="#0f9ed0"/><rect x="1366.89" y="441.92" width="5.69" height="6.77" fill="#0f9ed0"/><rect x="1372.58" y="441.92" width="5.69" height="6.77" fill="#a8bd68"/><rect x="1378.26" y="441.92" width="5.69" height="6.77" fill="#1fb3b5"/><rect x="1383.95" y="441.92" width="5.69" height="6.77" fill="#1fb3b5"/><rect x="1389.64" y="441.92" width="5.69" height="6.77" fill="#1fb3b5"/><rect x="1395.33" y="441.92" width="5.69" height="6.77" fill="#1a55d8"/><rect x="1401.02" y="441.92" width="5.69" height="6.77" fill="#1478e0"/><rect x="1406.70" y="441.92" width="5.69" height="6.77" fill="#1a55d8"/><rect x="1412.39" y="441.92" width="5.69" height="6.77" fill="#1a55d8"/><rect x="1429.46" y="441.92" width="5.69" height="6.77" fill="#3333aa"/><rect x="1452.21" y="441.92" width="5.69" height="6.77" fill="#3333aa"/><rect x="1327.07" y="448.69" width="5.69" height="6.77" fill="#1a55d8"/><rect x="1332.76" y="448.69" width="5.69" height="6.77" fill="#3333aa"/><rect x="1338.45" y="448.69" width="5.69" height="6.77" fill="#1478e0"/><rect x="1344.14" y="448.69" width="5.69" height="6.77" fill="#1a55d8"/><rect x="1349.82" y="448.69" width="5.69" height="6.77" fill="#1478e0"/><rect x="1355.51" y="448.69" width="5.69" height="6.77" fill="#0f9ed0"/><rect x="1361.20" y="448.69" width="5.69" height="6.77" fill="#0f9ed0"/><rect x="1366.89" y="448.69" width="5.69" height="6.77" fill="#1478e0"/><rect x="1372.58" y="448.69" width="5.69" height="6.77" fill="#1fb3b5"/><rect x="1378.26" y="448.69" width="5.69" height="6.77" fill="#1fb3b5"/><rect x="1383.95" y="448.69" width="5.69" height="6.77" fill="#0f9ed0"/><rect x="1389.64" y="448.69" width="5.69" height="6.77" fill="#0f9ed0"/><rect x="1395.33" y="448.69" width="5.69" height="6.77" fill="#0f9ed0"/><rect x="1401.02" y="448.69" width="5.69" height="6.77" fill="#0f9ed0"/><rect x="1406.70" y="448.69" width="5.69" height="6.77" fill="#0f9ed0"/><rect x="1412.39" y="448.69" width="5.69" height="6.77" fill="#1a55d8"/><rect x="1418.08" y="448.69" width="5.69" height="6.77" fill="#3333aa"/><rect x="1429.46" y="448.69" width="5.69" height="6.77" fill="#1478e0"/><rect x="1435.14" y="448.69" width="5.69" height="6.77" fill="#3333aa"/><rect x="1446.52" y="448.69" width="5.69" height="6.77" fill="#3333aa"/><rect x="1247.44" y="455.46" width="5.69" height="6.77" fill="#3333aa"/><rect x="1298.63" y="455.46" width="5.69" height="6.77" fill="#3333aa"/><rect x="1327.07" y="455.46" width="5.69" height="6.77" fill="#1a55d8"/><rect x="1338.45" y="455.46" width="5.69" height="6.77" fill="#3333aa"/><rect x="1344.14" y="455.46" width="5.69" height="6.77" fill="#1a55d8"/><rect x="1355.51" y="455.46" width="5.69" height="6.77" fill="#1a55d8"/><rect x="1361.20" y="455.46" width="5.69" height="6.77" fill="#1478e0"/><rect x="1366.89" y="455.46" width="5.69" height="6.77" fill="#3333aa"/><rect x="1372.58" y="455.46" width="5.69" height="6.77" fill="#1fb3b5"/><rect x="1378.26" y="455.46" width="5.69" height="6.77" fill="#5dbd8c"/><rect x="1383.95" y="455.46" width="5.69" height="6.77" fill="#1fb3b5"/><rect x="1389.64" y="455.46" width="5.69" height="6.77" fill="#a8bd68"/><rect x="1395.33" y="455.46" width="5.69" height="6.77" fill="#5dbd8c"/><rect x="1401.02" y="455.46" width="5.69" height="6.77" fill="#a8bd68"/><rect x="1406.70" y="455.46" width="5.69" height="6.77" fill="#1478e0"/><rect x="1412.39" y="455.46" width="5.69" height="6.77" fill="#0f9ed0"/><rect x="1418.08" y="455.46" width="5.69" height="6.77" fill="#1478e0"/><rect x="1435.14" y="455.46" width="5.69" height="6.77" fill="#1478e0"/><rect x="1446.52" y="455.46" width="5.69" height="6.77" fill="#3333aa"/><rect x="1452.21" y="455.46" width="5.69" height="6.77" fill="#3333aa"/><rect x="1310.01" y="462.23" width="5.69" height="6.77" fill="#3333aa"/><rect x="1349.82" y="462.23" width="5.69" height="6.77" fill="#1a55d8"/><rect x="1355.51" y="462.23" width="5.69" height="6.77" fill="#3333aa"/><rect x="1372.58" y="462.23" width="5.69" height="6.77" fill="#1478e0"/><rect x="1378.26" y="462.23" width="5.69" height="6.77" fill="#1fb3b5"/><rect x="1383.95" y="462.23" width="5.69" height="6.77" fill="#1fb3b5"/><rect x="1389.64" y="462.23" width="5.69" height="6.77" fill="#5dbd8c"/><rect x="1395.33" y="462.23" width="5.69" height="6.77" fill="#1fb3b5"/><rect x="1401.02" y="462.23" width="5.69" height="6.77" fill="#5dbd8c"/><rect x="1406.70" y="462.23" width="5.69" height="6.77" fill="#1fb3b5"/><rect x="1412.39" y="462.23" width="5.69" height="6.77" fill="#3333aa"/><rect x="1418.08" y="462.23" width="5.69" height="6.77" fill="#1478e0"/><rect x="1423.77" y="462.23" width="5.69" height="6.77" fill="#1a55d8"/><rect x="1429.46" y="462.23" width="5.69" height="6.77" fill="#1478e0"/><rect x="1435.14" y="462.23" width="5.69" height="6.77" fill="#1a55d8"/><rect x="1440.83" y="462.23" width="5.69" height="6.77" fill="#3333aa"/><rect x="1446.52" y="462.23" width="5.69" height="6.77" fill="#3333aa"/><rect x="1332.76" y="469.00" width="5.69" height="6.77" fill="#0f9ed0"/><rect x="1355.51" y="469.00" width="5.69" height="6.77" fill="#1a55d8"/><rect x="1366.89" y="469.00" width="5.69" height="6.77" fill="#0f9ed0"/><rect x="1372.58" y="469.00" width="5.69" height="6.77" fill="#1a55d8"/><rect x="1378.26" y="469.00" width="5.69" height="6.77" fill="#1478e0"/><rect x="1383.95" y="469.00" width="5.69" height="6.77" fill="#1fb3b5"/><rect x="1389.64" y="469.00" width="5.69" height="6.77" fill="#1fb3b5"/><rect x="1395.33" y="469.00" width="5.69" height="6.77" fill="#1fb3b5"/><rect x="1401.02" y="469.00" width="5.69" height="6.77" fill="#1fb3b5"/><rect x="1406.70" y="469.00" width="5.69" height="6.77" fill="#1fb3b5"/><rect x="1412.39" y="469.00" width="5.69" height="6.77" fill="#1fb3b5"/><rect x="1418.08" y="469.00" width="5.69" height="6.77" fill="#1478e0"/><rect x="1423.77" y="469.00" width="5.69" height="6.77" fill="#1478e0"/><rect x="1429.46" y="469.00" width="5.69" height="6.77" fill="#1478e0"/><rect x="1435.14" y="469.00" width="5.69" height="6.77" fill="#1a55d8"/><rect x="1446.52" y="469.00" width="5.69" height="6.77" fill="#1a55d8"/><rect x="1304.32" y="475.77" width="5.69" height="6.77" fill="#3333aa"/><rect x="1310.01" y="475.77" width="5.69" height="6.77" fill="#3333aa"/><rect x="1332.76" y="475.77" width="5.69" height="6.77" fill="#3333aa"/><rect x="1355.51" y="475.77" width="5.69" height="6.77" fill="#3333aa"/><rect x="1372.58" y="475.77" width="5.69" height="6.77" fill="#1a55d8"/><rect x="1378.26" y="475.77" width="5.69" height="6.77" fill="#1478e0"/><rect x="1383.95" y="475.77" width="5.69" height="6.77" fill="#3333aa"/><rect x="1389.64" y="475.77" width="5.69" height="6.77" fill="#1478e0"/><rect x="1395.33" y="475.77" width="5.69" height="6.77" fill="#0f9ed0"/><rect x="1401.02" y="475.77" width="5.69" height="6.77" fill="#1fb3b5"/><rect x="1406.70" y="475.77" width="5.69" height="6.77" fill="#1a55d8"/><rect x="1412.39" y="475.77" width="5.69" height="6.77" fill="#1478e0"/><rect x="1418.08" y="475.77" width="5.69" height="6.77" fill="#1fb3b5"/><rect x="1423.77" y="475.77" width="5.69" height="6.77" fill="#1478e0"/><rect x="1429.46" y="475.77" width="5.69" height="6.77" fill="#1a55d8"/><rect x="1435.14" y="475.77" width="5.69" height="6.77" fill="#3333aa"/><rect x="1446.52" y="475.77" width="5.69" height="6.77" fill="#1a55d8"/><rect x="1457.90" y="475.77" width="5.69" height="6.77" fill="#1a55d8"/><rect x="1292.94" y="482.54" width="5.69" height="6.77" fill="#3333aa"/><rect x="1327.07" y="482.54" width="5.69" height="6.77" fill="#3333aa"/><rect x="1349.82" y="482.54" width="5.69" height="6.77" fill="#3333aa"/><rect x="1372.58" y="482.54" width="5.69" height="6.77" fill="#1a55d8"/><rect x="1378.26" y="482.54" width="5.69" height="6.77" fill="#3333aa"/><rect x="1383.95" y="482.54" width="5.69" height="6.77" fill="#3333aa"/><rect x="1395.33" y="482.54" width="5.69" height="6.77" fill="#1478e0"/><rect x="1401.02" y="482.54" width="5.69" height="6.77" fill="#0f9ed0"/><rect x="1406.70" y="482.54" width="5.69" height="6.77" fill="#1a55d8"/><rect x="1412.39" y="482.54" width="5.69" height="6.77" fill="#1a55d8"/><rect x="1418.08" y="482.54" width="5.69" height="6.77" fill="#0f9ed0"/><rect x="1423.77" y="482.54" width="5.69" height="6.77" fill="#1478e0"/><rect x="1429.46" y="482.54" width="5.69" height="6.77" fill="#0f9ed0"/><rect x="1435.14" y="482.54" width="5.69" height="6.77" fill="#1478e0"/><rect x="1440.83" y="482.54" width="5.69" height="6.77" fill="#1478e0"/><rect x="1446.52" y="482.54" width="5.69" height="6.77" fill="#1a55d8"/><rect x="1452.21" y="482.54" width="5.69" height="6.77" fill="#3333aa"/><rect x="957.35" y="489.31" width="5.69" height="6.77" fill="#3333aa"/><rect x="1281.57" y="489.31" width="5.69" height="6.77" fill="#3333aa"/><rect x="1298.63" y="489.31" width="5.69" height="6.77" fill="#3333aa"/><rect x="1332.76" y="489.31" width="5.69" height="6.77" fill="#3333aa"/><rect x="1372.58" y="489.31" width="5.69" height="6.77" fill="#3333aa"/><rect x="1378.26" y="489.31" width="5.69" height="6.77" fill="#3333aa"/><rect x="1383.95" y="489.31" width="5.69" height="6.77" fill="#3333aa"/><rect x="1389.64" y="489.31" width="5.69" height="6.77" fill="#1478e0"/><rect x="1395.33" y="489.31" width="5.69" height="6.77" fill="#1478e0"/><rect x="1401.02" y="489.31" width="5.69" height="6.77" fill="#3333aa"/><rect x="1406.70" y="489.31" width="5.69" height="6.77" fill="#1a55d8"/><rect x="1412.39" y="489.31" width="5.69" height="6.77" fill="#0f9ed0"/><rect x="1418.08" y="489.31" width="5.69" height="6.77" fill="#0f9ed0"/><rect x="1423.77" y="489.31" width="5.69" height="6.77" fill="#1478e0"/><rect x="1429.46" y="489.31" width="5.69" height="6.77" fill="#1fb3b5"/><rect x="1435.14" y="489.31" width="5.69" height="6.77" fill="#0f9ed0"/><rect x="1446.52" y="489.31" width="5.69" height="6.77" fill="#1478e0"/><rect x="1452.21" y="489.31" width="5.69" height="6.77" fill="#3333aa"/><rect x="1457.90" y="489.31" width="5.69" height="6.77" fill="#0f9ed0"/><rect x="1463.58" y="489.31" width="5.69" height="6.77" fill="#3333aa"/><rect x="1281.57" y="496.08" width="5.69" height="6.77" fill="#3333aa"/><rect x="1355.51" y="496.08" width="5.69" height="6.77" fill="#3333aa"/><rect x="1361.20" y="496.08" width="5.69" height="6.77" fill="#1a55d8"/><rect x="1395.33" y="496.08" width="5.69" height="6.77" fill="#3333aa"/><rect x="1406.70" y="496.08" width="5.69" height="6.77" fill="#3333aa"/><rect x="1412.39" y="496.08" width="5.69" height="6.77" fill="#1a55d8"/><rect x="1418.08" y="496.08" width="5.69" height="6.77" fill="#1a55d8"/><rect x="1423.77" y="496.08" width="5.69" height="6.77" fill="#1a55d8"/><rect x="1429.46" y="496.08" width="5.69" height="6.77" fill="#1478e0"/><rect x="1435.14" y="496.08" width="5.69" height="6.77" fill="#3333aa"/><rect x="1440.83" y="496.08" width="5.69" height="6.77" fill="#1478e0"/><rect x="1446.52" y="496.08" width="5.69" height="6.77" fill="#3333aa"/><rect x="1457.90" y="496.08" width="5.69" height="6.77" fill="#1a55d8"/><rect x="1486.34" y="496.08" width="3.56" height="6.77" fill="#1a55d8"/><rect x="1031.30" y="502.85" width="5.69" height="6.77" fill="#1a55d8"/><rect x="1071.11" y="502.85" width="5.69" height="6.77" fill="#3333aa"/><rect x="1372.58" y="502.85" width="5.69" height="6.77" fill="#3333aa"/><rect x="1383.95" y="502.85" width="5.69" height="6.77" fill="#3333aa"/><rect x="1406.70" y="502.85" width="5.69" height="6.77" fill="#1a55d8"/><rect x="1412.39" y="502.85" width="5.69" height="6.77" fill="#3333aa"/><rect x="1423.77" y="502.85" width="5.69" height="6.77" fill="#1a55d8"/><rect x="1429.46" y="502.85" width="5.69" height="6.77" fill="#1a55d8"/><rect x="1435.14" y="502.85" width="5.69" height="6.77" fill="#0f9ed0"/><rect x="1440.83" y="502.85" width="5.69" height="6.77" fill="#1a55d8"/><rect x="1446.52" y="502.85" width="5.69" height="6.77" fill="#1a55d8"/><rect x="1452.21" y="502.85" width="5.69" height="6.77" fill="#3333aa"/><rect x="1457.90" y="502.85" width="5.69" height="6.77" fill="#0f9ed0"/><rect x="1463.58" y="502.85" width="5.69" height="6.77" fill="#1a55d8"/><rect x="951.66" y="509.62" width="5.69" height="6.77" fill="#3333aa"/><rect x="1105.24" y="509.62" width="5.69" height="6.77" fill="#3333aa"/><rect x="1383.95" y="509.62" width="5.69" height="6.77" fill="#1a55d8"/><rect x="1401.02" y="509.62" width="5.69" height="6.77" fill="#3333aa"/><rect x="1412.39" y="509.62" width="5.69" height="6.77" fill="#3333aa"/><rect x="1418.08" y="509.62" width="5.69" height="6.77" fill="#1a55d8"/><rect x="1429.46" y="509.62" width="5.69" height="6.77" fill="#1a55d8"/><rect x="1435.14" y="509.62" width="5.69" height="6.77" fill="#0f9ed0"/><rect x="1440.83" y="509.62" width="5.69" height="6.77" fill="#0f9ed0"/><rect x="1446.52" y="509.62" width="5.69" height="6.77" fill="#0f9ed0"/><rect x="1452.21" y="509.62" width="5.69" height="6.77" fill="#1478e0"/><rect x="1463.58" y="509.62" width="5.69" height="6.77" fill="#1478e0"/><rect x="1474.96" y="509.62" width="5.69" height="6.77" fill="#3333aa"/><rect x="1042.67" y="516.39" width="5.69" height="6.77" fill="#3333aa"/><rect x="1412.39" y="516.39" width="5.69" height="6.77" fill="#3333aa"/><rect x="1423.77" y="516.39" width="5.69" height="6.77" fill="#3333aa"/><rect x="1429.46" y="516.39" width="5.69" height="6.77" fill="#3333aa"/><rect x="1440.83" y="516.39" width="5.69" height="6.77" fill="#1fb3b5"/><rect x="1446.52" y="516.39" width="5.69" height="6.77" fill="#1478e0"/><rect x="1452.21" y="516.39" width="5.69" height="6.77" fill="#0f9ed0"/><rect x="1457.90" y="516.39" width="5.69" height="6.77" fill="#1478e0"/><rect x="1463.58" y="516.39" width="5.69" height="6.77" fill="#3333aa"/><rect x="1474.96" y="516.39" width="5.69" height="6.77" fill="#3333aa"/><rect x="1480.65" y="516.39" width="5.69" height="6.77" fill="#3333aa"/><rect x="1008.54" y="523.16" width="5.69" height="6.77" fill="#3333aa"/><rect x="1423.77" y="523.16" width="5.69" height="6.77" fill="#3333aa"/><rect x="1429.46" y="523.16" width="5.69" height="6.77" fill="#3333aa"/><rect x="1435.14" y="523.16" width="5.69" height="6.77" fill="#3333aa"/><rect x="1440.83" y="523.16" width="5.69" height="6.77" fill="#3333aa"/><rect x="1446.52" y="523.16" width="5.69" height="6.77" fill="#3333aa"/><rect x="1452.21" y="523.16" width="5.69" height="6.77" fill="#3333aa"/><rect x="1457.90" y="523.16" width="5.69" height="6.77" fill="#1a55d8"/><rect x="1463.58" y="523.16" width="5.69" height="6.77" fill="#3333aa"/><rect x="1474.96" y="523.16" width="5.69" height="6.77" fill="#3333aa"/><rect x="968.73" y="529.93" width="5.69" height="6.77" fill="#3333aa"/><rect x="1241.75" y="529.93" width="5.69" height="6.77" fill="#3333aa"/><rect x="1440.83" y="529.93" width="5.69" height="6.77" fill="#3333aa"/><rect x="1446.52" y="529.93" width="5.69" height="6.77" fill="#3333aa"/><rect x="1452.21" y="529.93" width="5.69" height="6.77" fill="#3333aa"/></g>
<polyline points="619.78,63.70 622.37,72.87 624.92,82.04 627.41,91.21 629.85,100.38 632.24,109.56 634.59,118.73 636.88,127.90 639.12,137.07 641.32,146.24 643.47,155.41 645.57,164.58 647.62,173.75 649.62,182.93 651.57,192.10 653.48,201.27 655.34,210.44 657.16,219.61 658.92,228.78 660.64,237.95 662.32,247.12 663.95,256.29 665.53,265.47 667.07,274.64 668.56,283.81 670.00,292.98 671.40,302.15 672.76,311.32 674.07,320.49 675.33,329.66 676.55,338.84 677.73,348.01 678.86,357.18 679.95,366.35 680.99,375.52 681.99,384.69 682.94,393.86 683.85,403.03 684.72,412.21 685.54,421.38 686.32,430.55 687.06,439.72 687.75,448.89 688.40,458.06 689.00,467.23 689.56,476.40 690.08,485.57 690.56,494.75 690.99,503.92 691.38,513.09 691.72,522.26 692.03,531.43 692.29,540.60 692.50,549.77 692.68,558.94 692.81,568.12 692.90,577.29 692.94,586.46 692.95,595.63 692.91,604.80" fill="none" stroke="#D95319" stroke-width="4"/>
<path d="M934.6,83.5 A505.1,521.5 0 0 1 1439.7,605.0" fill="none" stroke="#D95319" stroke-width="4"/>
<text transform="translate(235.30,44.10) scale(0.5481,0.4969)" font-family='"Liberation Serif", serif' font-weight="bold" font-size="100" fill="#000">NADH</text>
<text transform="translate(410.83,44.10) scale(0.5865,0.4969)" font-family='"Liberation Serif", serif' font-weight="bold" font-size="100" fill="#000">Phasor</text>
<text transform="translate(598.31,44.10) scale(0.5921,0.4969)" font-family='"Liberation Serif", serif' font-weight="bold" font-size="100" fill="#000">plot</text>
<text transform="translate(998.90,42.40) scale(0.5517,0.4892)" font-family='"Liberation Serif", serif' font-weight="bold" font-size="100" fill="#000">PPIX</text>
<text transform="translate(1139.92,42.40) scale(0.5878,0.4892)" font-family='"Liberation Serif", serif' font-weight="bold" font-size="100" fill="#000">Phasor</text>
<text transform="translate(1327.71,42.40) scale(0.5909,0.4892)" font-family='"Liberation Serif", serif' font-weight="bold" font-size="100" fill="#000">plot</text>
<text transform="translate(42.90,604.46) rotate(-90) scale(0.5205,0.5087)" font-family='"Liberation Serif", serif' font-weight="normal" font-size="100" fill="#1e1e1e" stroke="#1e1e1e" stroke-width="1.0">Fluorescence</text>
<text transform="translate(42.90,319.73) rotate(-90) scale(0.5161,0.5087)" font-family='"Liberation Serif", serif' font-weight="normal" font-size="100" fill="#1e1e1e" stroke="#1e1e1e" stroke-width="1.0">lifetime</text>
<text transform="translate(42.90,147.66) rotate(-90) scale(0.5369,0.5087)" font-family='"Liberation Serif", serif' font-weight="normal" font-size="100" fill="#1e1e1e" stroke="#1e1e1e" stroke-width="1.0">[ns]</text>
<text transform="translate(819.30,604.46) rotate(-90) scale(0.5205,0.5087)" font-family='"Liberation Serif", serif' font-weight="normal" font-size="100" fill="#1e1e1e" stroke="#1e1e1e" stroke-width="1.0">Fluorescence</text>
<text transform="translate(819.30,319.53) rotate(-90) scale(0.5154,0.5087)" font-family='"Liberation Serif", serif' font-weight="normal" font-size="100" fill="#1e1e1e" stroke="#1e1e1e" stroke-width="1.0">lifetime</text>
<text transform="translate(819.30,147.32) rotate(-90) scale(0.5312,0.5087)" font-family='"Liberation Serif", serif' font-weight="normal" font-size="100" fill="#1e1e1e" stroke="#1e1e1e" stroke-width="1.0">[ns]</text>
<g font-family='"Liberation Serif", serif' font-size="100" fill="#222" stroke="#222" stroke-width="0.7"><text transform="translate(106.12,100.00) scale(0.6190,0.4985)">8</text><text transform="translate(76.82,211.70) scale(0.5561,0.5015)">3</text><text transform="translate(103.93,203.80) scale(0.5818,0.5000)">.</text><text transform="translate(118.22,211.70) scale(0.5279,0.5015)">9</text><text transform="translate(143.50,211.32) scale(0.5500,0.4848)">5</text><text transform="translate(92.67,307.80) scale(0.5575,0.3785)">2</text><text transform="translate(117.92,308.09) scale(0.6545,0.5083)">.</text><text transform="translate(132.51,307.61) scale(0.5465,0.4925)">6</text><text transform="translate(83.63,411.90) scale(0.4743,0.3773)">1</text><text transform="translate(104.94,412.18) scale(0.6091,0.5250)">.</text><text transform="translate(119.33,411.71) scale(0.5419,0.4955)">6</text><text transform="translate(144.69,419.32) scale(0.5350,0.4848)">5</text><text transform="translate(77.56,516.23) scale(0.6095,0.3866)">0</text><text transform="translate(106.64,516.17) scale(0.6091,0.5333)">.</text><text transform="translate(118.68,524.50) scale(0.5600,0.5031)">7</text><text transform="translate(143.50,523.71) scale(0.5500,0.4909)">5</text><text transform="translate(106.12,620.24) scale(0.6190,0.3776)">0</text><text transform="translate(854.91,99.10) scale(0.4657,0.3833)">1</text><text transform="translate(877.23,98.51) scale(0.5419,0.4955)">6</text><text transform="translate(849.36,211.50) scale(0.5625,0.4985)">7</text><text transform="translate(874.74,203.44) scale(0.6091,0.5583)">.</text><text transform="translate(889.17,211.00) scale(0.5419,0.5030)">9</text><text transform="translate(846.67,315.61) scale(0.5725,0.4909)">5</text><text transform="translate(873.54,307.68) scale(0.6091,0.5250)">.</text><text transform="translate(887.75,307.80) scale(0.5625,0.3831)">2</text><text transform="translate(847.26,420.20) scale(0.5683,0.5030)">3</text><text transform="translate(874.74,412.28) scale(0.6091,0.5250)">.</text><text transform="translate(887.61,420.20) scale(0.5585,0.5030)">3</text><text transform="translate(854.91,516.80) scale(0.4657,0.3773)">1</text><text transform="translate(875.94,516.68) scale(0.6091,0.5250)">.</text><text transform="translate(888.28,524.61) scale(0.5525,0.4909)">5</text><text transform="translate(862.94,620.95) scale(0.6143,0.3761)">0</text></g>
</svg></body></html>
